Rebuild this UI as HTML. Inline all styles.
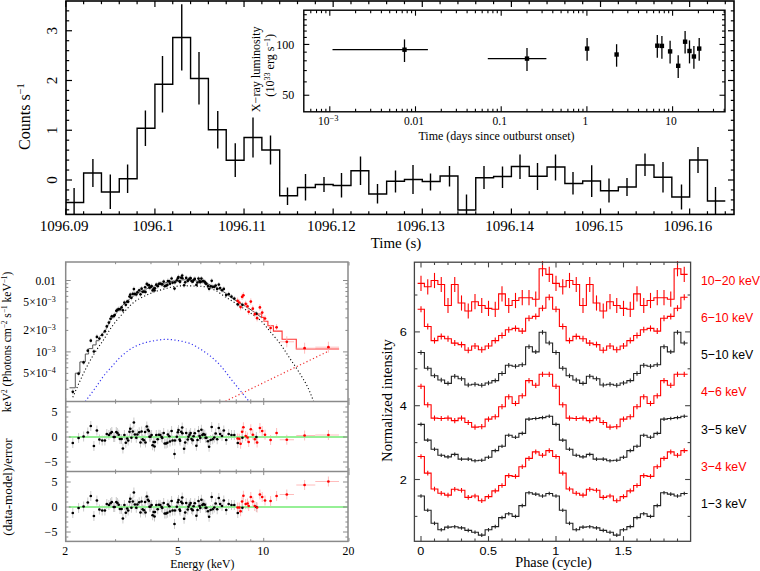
<!DOCTYPE html>
<html><head><meta charset="utf-8"><style>
html,body{margin:0;padding:0;background:#fff;width:760px;height:571px;overflow:hidden}
svg{display:block}
</style></head><body>
<svg width="760" height="571" viewBox="0 0 760 571">
<line x1="65.80" y1="214.40" x2="65.80" y2="208.40" stroke="#000" stroke-width="1.2"/>
<line x1="65.80" y1="1.00" x2="65.80" y2="7.00" stroke="#000" stroke-width="1.2"/>
<text x="64.00" y="231.00" font-size="15" text-anchor="middle" fill="#000" style='font-family:"Liberation Serif", serif' >1096.09</text>
<line x1="83.62" y1="214.40" x2="83.62" y2="211.20" stroke="#000" stroke-width="1.2"/>
<line x1="83.62" y1="1.00" x2="83.62" y2="4.20" stroke="#000" stroke-width="1.2"/>
<line x1="101.45" y1="214.40" x2="101.45" y2="211.20" stroke="#000" stroke-width="1.2"/>
<line x1="101.45" y1="1.00" x2="101.45" y2="4.20" stroke="#000" stroke-width="1.2"/>
<line x1="119.27" y1="214.40" x2="119.27" y2="211.20" stroke="#000" stroke-width="1.2"/>
<line x1="119.27" y1="1.00" x2="119.27" y2="4.20" stroke="#000" stroke-width="1.2"/>
<line x1="137.10" y1="214.40" x2="137.10" y2="211.20" stroke="#000" stroke-width="1.2"/>
<line x1="137.10" y1="1.00" x2="137.10" y2="4.20" stroke="#000" stroke-width="1.2"/>
<line x1="154.92" y1="214.40" x2="154.92" y2="208.40" stroke="#000" stroke-width="1.2"/>
<line x1="154.92" y1="1.00" x2="154.92" y2="7.00" stroke="#000" stroke-width="1.2"/>
<text x="153.12" y="231.00" font-size="15" text-anchor="middle" fill="#000" style='font-family:"Liberation Serif", serif' >1096.1</text>
<line x1="172.74" y1="214.40" x2="172.74" y2="211.20" stroke="#000" stroke-width="1.2"/>
<line x1="172.74" y1="1.00" x2="172.74" y2="4.20" stroke="#000" stroke-width="1.2"/>
<line x1="190.57" y1="214.40" x2="190.57" y2="211.20" stroke="#000" stroke-width="1.2"/>
<line x1="190.57" y1="1.00" x2="190.57" y2="4.20" stroke="#000" stroke-width="1.2"/>
<line x1="208.39" y1="214.40" x2="208.39" y2="211.20" stroke="#000" stroke-width="1.2"/>
<line x1="208.39" y1="1.00" x2="208.39" y2="4.20" stroke="#000" stroke-width="1.2"/>
<line x1="226.22" y1="214.40" x2="226.22" y2="211.20" stroke="#000" stroke-width="1.2"/>
<line x1="226.22" y1="1.00" x2="226.22" y2="4.20" stroke="#000" stroke-width="1.2"/>
<line x1="244.04" y1="214.40" x2="244.04" y2="208.40" stroke="#000" stroke-width="1.2"/>
<line x1="244.04" y1="1.00" x2="244.04" y2="7.00" stroke="#000" stroke-width="1.2"/>
<text x="242.24" y="231.00" font-size="15" text-anchor="middle" fill="#000" style='font-family:"Liberation Serif", serif' >1096.11</text>
<line x1="261.86" y1="214.40" x2="261.86" y2="211.20" stroke="#000" stroke-width="1.2"/>
<line x1="261.86" y1="1.00" x2="261.86" y2="4.20" stroke="#000" stroke-width="1.2"/>
<line x1="279.69" y1="214.40" x2="279.69" y2="211.20" stroke="#000" stroke-width="1.2"/>
<line x1="279.69" y1="1.00" x2="279.69" y2="4.20" stroke="#000" stroke-width="1.2"/>
<line x1="297.51" y1="214.40" x2="297.51" y2="211.20" stroke="#000" stroke-width="1.2"/>
<line x1="297.51" y1="1.00" x2="297.51" y2="4.20" stroke="#000" stroke-width="1.2"/>
<line x1="315.34" y1="214.40" x2="315.34" y2="211.20" stroke="#000" stroke-width="1.2"/>
<line x1="315.34" y1="1.00" x2="315.34" y2="4.20" stroke="#000" stroke-width="1.2"/>
<line x1="333.16" y1="214.40" x2="333.16" y2="208.40" stroke="#000" stroke-width="1.2"/>
<line x1="333.16" y1="1.00" x2="333.16" y2="7.00" stroke="#000" stroke-width="1.2"/>
<text x="331.36" y="231.00" font-size="15" text-anchor="middle" fill="#000" style='font-family:"Liberation Serif", serif' >1096.12</text>
<line x1="350.98" y1="214.40" x2="350.98" y2="211.20" stroke="#000" stroke-width="1.2"/>
<line x1="350.98" y1="1.00" x2="350.98" y2="4.20" stroke="#000" stroke-width="1.2"/>
<line x1="368.81" y1="214.40" x2="368.81" y2="211.20" stroke="#000" stroke-width="1.2"/>
<line x1="368.81" y1="1.00" x2="368.81" y2="4.20" stroke="#000" stroke-width="1.2"/>
<line x1="386.63" y1="214.40" x2="386.63" y2="211.20" stroke="#000" stroke-width="1.2"/>
<line x1="386.63" y1="1.00" x2="386.63" y2="4.20" stroke="#000" stroke-width="1.2"/>
<line x1="404.46" y1="214.40" x2="404.46" y2="211.20" stroke="#000" stroke-width="1.2"/>
<line x1="404.46" y1="1.00" x2="404.46" y2="4.20" stroke="#000" stroke-width="1.2"/>
<line x1="422.28" y1="214.40" x2="422.28" y2="208.40" stroke="#000" stroke-width="1.2"/>
<line x1="422.28" y1="1.00" x2="422.28" y2="7.00" stroke="#000" stroke-width="1.2"/>
<text x="420.48" y="231.00" font-size="15" text-anchor="middle" fill="#000" style='font-family:"Liberation Serif", serif' >1096.13</text>
<line x1="440.10" y1="214.40" x2="440.10" y2="211.20" stroke="#000" stroke-width="1.2"/>
<line x1="440.10" y1="1.00" x2="440.10" y2="4.20" stroke="#000" stroke-width="1.2"/>
<line x1="457.93" y1="214.40" x2="457.93" y2="211.20" stroke="#000" stroke-width="1.2"/>
<line x1="457.93" y1="1.00" x2="457.93" y2="4.20" stroke="#000" stroke-width="1.2"/>
<line x1="475.75" y1="214.40" x2="475.75" y2="211.20" stroke="#000" stroke-width="1.2"/>
<line x1="475.75" y1="1.00" x2="475.75" y2="4.20" stroke="#000" stroke-width="1.2"/>
<line x1="493.58" y1="214.40" x2="493.58" y2="211.20" stroke="#000" stroke-width="1.2"/>
<line x1="493.58" y1="1.00" x2="493.58" y2="4.20" stroke="#000" stroke-width="1.2"/>
<line x1="511.40" y1="214.40" x2="511.40" y2="208.40" stroke="#000" stroke-width="1.2"/>
<line x1="511.40" y1="1.00" x2="511.40" y2="7.00" stroke="#000" stroke-width="1.2"/>
<text x="509.60" y="231.00" font-size="15" text-anchor="middle" fill="#000" style='font-family:"Liberation Serif", serif' >1096.14</text>
<line x1="529.22" y1="214.40" x2="529.22" y2="211.20" stroke="#000" stroke-width="1.2"/>
<line x1="529.22" y1="1.00" x2="529.22" y2="4.20" stroke="#000" stroke-width="1.2"/>
<line x1="547.05" y1="214.40" x2="547.05" y2="211.20" stroke="#000" stroke-width="1.2"/>
<line x1="547.05" y1="1.00" x2="547.05" y2="4.20" stroke="#000" stroke-width="1.2"/>
<line x1="564.87" y1="214.40" x2="564.87" y2="211.20" stroke="#000" stroke-width="1.2"/>
<line x1="564.87" y1="1.00" x2="564.87" y2="4.20" stroke="#000" stroke-width="1.2"/>
<line x1="582.70" y1="214.40" x2="582.70" y2="211.20" stroke="#000" stroke-width="1.2"/>
<line x1="582.70" y1="1.00" x2="582.70" y2="4.20" stroke="#000" stroke-width="1.2"/>
<line x1="600.52" y1="214.40" x2="600.52" y2="208.40" stroke="#000" stroke-width="1.2"/>
<line x1="600.52" y1="1.00" x2="600.52" y2="7.00" stroke="#000" stroke-width="1.2"/>
<text x="598.72" y="231.00" font-size="15" text-anchor="middle" fill="#000" style='font-family:"Liberation Serif", serif' >1096.15</text>
<line x1="618.34" y1="214.40" x2="618.34" y2="211.20" stroke="#000" stroke-width="1.2"/>
<line x1="618.34" y1="1.00" x2="618.34" y2="4.20" stroke="#000" stroke-width="1.2"/>
<line x1="636.17" y1="214.40" x2="636.17" y2="211.20" stroke="#000" stroke-width="1.2"/>
<line x1="636.17" y1="1.00" x2="636.17" y2="4.20" stroke="#000" stroke-width="1.2"/>
<line x1="653.99" y1="214.40" x2="653.99" y2="211.20" stroke="#000" stroke-width="1.2"/>
<line x1="653.99" y1="1.00" x2="653.99" y2="4.20" stroke="#000" stroke-width="1.2"/>
<line x1="671.82" y1="214.40" x2="671.82" y2="211.20" stroke="#000" stroke-width="1.2"/>
<line x1="671.82" y1="1.00" x2="671.82" y2="4.20" stroke="#000" stroke-width="1.2"/>
<line x1="689.64" y1="214.40" x2="689.64" y2="208.40" stroke="#000" stroke-width="1.2"/>
<line x1="689.64" y1="1.00" x2="689.64" y2="7.00" stroke="#000" stroke-width="1.2"/>
<text x="687.84" y="231.00" font-size="15" text-anchor="middle" fill="#000" style='font-family:"Liberation Serif", serif' >1096.16</text>
<line x1="707.46" y1="214.40" x2="707.46" y2="211.20" stroke="#000" stroke-width="1.2"/>
<line x1="707.46" y1="1.00" x2="707.46" y2="4.20" stroke="#000" stroke-width="1.2"/>
<line x1="725.29" y1="214.40" x2="725.29" y2="211.20" stroke="#000" stroke-width="1.2"/>
<line x1="725.29" y1="1.00" x2="725.29" y2="4.20" stroke="#000" stroke-width="1.2"/>
<line x1="66.00" y1="209.85" x2="69.20" y2="209.85" stroke="#000" stroke-width="1.2"/>
<line x1="734.00" y1="209.85" x2="730.80" y2="209.85" stroke="#000" stroke-width="1.2"/>
<line x1="66.00" y1="199.90" x2="69.20" y2="199.90" stroke="#000" stroke-width="1.2"/>
<line x1="734.00" y1="199.90" x2="730.80" y2="199.90" stroke="#000" stroke-width="1.2"/>
<line x1="66.00" y1="189.95" x2="69.20" y2="189.95" stroke="#000" stroke-width="1.2"/>
<line x1="734.00" y1="189.95" x2="730.80" y2="189.95" stroke="#000" stroke-width="1.2"/>
<line x1="66.00" y1="180.00" x2="72.00" y2="180.00" stroke="#000" stroke-width="1.2"/>
<line x1="734.00" y1="180.00" x2="728.00" y2="180.00" stroke="#000" stroke-width="1.2"/>
<text x="0.00" y="0.00" font-size="15" text-anchor="middle" fill="#000" style='font-family:"Liberation Serif", serif' transform="translate(56.50 180.00) rotate(-90)" >0</text>
<line x1="66.00" y1="170.05" x2="69.20" y2="170.05" stroke="#000" stroke-width="1.2"/>
<line x1="734.00" y1="170.05" x2="730.80" y2="170.05" stroke="#000" stroke-width="1.2"/>
<line x1="66.00" y1="160.10" x2="69.20" y2="160.10" stroke="#000" stroke-width="1.2"/>
<line x1="734.00" y1="160.10" x2="730.80" y2="160.10" stroke="#000" stroke-width="1.2"/>
<line x1="66.00" y1="150.15" x2="69.20" y2="150.15" stroke="#000" stroke-width="1.2"/>
<line x1="734.00" y1="150.15" x2="730.80" y2="150.15" stroke="#000" stroke-width="1.2"/>
<line x1="66.00" y1="140.20" x2="69.20" y2="140.20" stroke="#000" stroke-width="1.2"/>
<line x1="734.00" y1="140.20" x2="730.80" y2="140.20" stroke="#000" stroke-width="1.2"/>
<line x1="66.00" y1="130.25" x2="72.00" y2="130.25" stroke="#000" stroke-width="1.2"/>
<line x1="734.00" y1="130.25" x2="728.00" y2="130.25" stroke="#000" stroke-width="1.2"/>
<text x="0.00" y="0.00" font-size="15" text-anchor="middle" fill="#000" style='font-family:"Liberation Serif", serif' transform="translate(56.50 130.25) rotate(-90)" >1</text>
<line x1="66.00" y1="120.30" x2="69.20" y2="120.30" stroke="#000" stroke-width="1.2"/>
<line x1="734.00" y1="120.30" x2="730.80" y2="120.30" stroke="#000" stroke-width="1.2"/>
<line x1="66.00" y1="110.35" x2="69.20" y2="110.35" stroke="#000" stroke-width="1.2"/>
<line x1="734.00" y1="110.35" x2="730.80" y2="110.35" stroke="#000" stroke-width="1.2"/>
<line x1="66.00" y1="100.40" x2="69.20" y2="100.40" stroke="#000" stroke-width="1.2"/>
<line x1="734.00" y1="100.40" x2="730.80" y2="100.40" stroke="#000" stroke-width="1.2"/>
<line x1="66.00" y1="90.45" x2="69.20" y2="90.45" stroke="#000" stroke-width="1.2"/>
<line x1="734.00" y1="90.45" x2="730.80" y2="90.45" stroke="#000" stroke-width="1.2"/>
<line x1="66.00" y1="80.50" x2="72.00" y2="80.50" stroke="#000" stroke-width="1.2"/>
<line x1="734.00" y1="80.50" x2="728.00" y2="80.50" stroke="#000" stroke-width="1.2"/>
<text x="0.00" y="0.00" font-size="15" text-anchor="middle" fill="#000" style='font-family:"Liberation Serif", serif' transform="translate(56.50 80.50) rotate(-90)" >2</text>
<line x1="66.00" y1="70.55" x2="69.20" y2="70.55" stroke="#000" stroke-width="1.2"/>
<line x1="734.00" y1="70.55" x2="730.80" y2="70.55" stroke="#000" stroke-width="1.2"/>
<line x1="66.00" y1="60.60" x2="69.20" y2="60.60" stroke="#000" stroke-width="1.2"/>
<line x1="734.00" y1="60.60" x2="730.80" y2="60.60" stroke="#000" stroke-width="1.2"/>
<line x1="66.00" y1="50.65" x2="69.20" y2="50.65" stroke="#000" stroke-width="1.2"/>
<line x1="734.00" y1="50.65" x2="730.80" y2="50.65" stroke="#000" stroke-width="1.2"/>
<line x1="66.00" y1="40.70" x2="69.20" y2="40.70" stroke="#000" stroke-width="1.2"/>
<line x1="734.00" y1="40.70" x2="730.80" y2="40.70" stroke="#000" stroke-width="1.2"/>
<line x1="66.00" y1="30.75" x2="72.00" y2="30.75" stroke="#000" stroke-width="1.2"/>
<line x1="734.00" y1="30.75" x2="728.00" y2="30.75" stroke="#000" stroke-width="1.2"/>
<text x="0.00" y="0.00" font-size="15" text-anchor="middle" fill="#000" style='font-family:"Liberation Serif", serif' transform="translate(56.50 30.75) rotate(-90)" >3</text>
<line x1="66.00" y1="20.80" x2="69.20" y2="20.80" stroke="#000" stroke-width="1.2"/>
<line x1="734.00" y1="20.80" x2="730.80" y2="20.80" stroke="#000" stroke-width="1.2"/>
<line x1="66.00" y1="10.85" x2="69.20" y2="10.85" stroke="#000" stroke-width="1.2"/>
<line x1="734.00" y1="10.85" x2="730.80" y2="10.85" stroke="#000" stroke-width="1.2"/>
<rect x="66.0" y="1.0" width="668.0" height="213.4" fill="none" stroke="#000" stroke-width="1.6"/>
<text x="396.00" y="247.50" font-size="15" text-anchor="middle" fill="#000" style='font-family:"Liberation Serif", serif' >Time (s)</text>
<text x="0.00" y="0.00" font-size="16" text-anchor="middle" fill="#000" style='font-family:"Liberation Serif", serif' transform="translate(30.00 116.50) rotate(-90)" >Counts s<tspan baseline-shift="6" font-size="10.5">−1</tspan></text>
<path d="M65.80,202.50L83.62,202.50L83.62,173.00L101.45,173.00L101.45,192.00L119.27,192.00L119.27,178.75L137.10,178.75L137.10,128.25L154.92,128.25L154.92,84.25L172.74,84.25L172.74,37.50L190.57,37.50L190.57,78.50L208.39,78.50L208.39,129.75L226.22,129.75L226.22,160.25L244.04,160.25L244.04,137.50L261.86,137.50L261.86,150.00L279.69,150.00L279.69,195.75L297.51,195.75L297.51,187.50L315.34,187.50L315.34,184.50L333.16,184.50L333.16,185.50L350.98,185.50L350.98,170.75L368.81,170.75L368.81,194.00L386.63,194.00L386.63,181.25L404.46,181.25L404.46,179.50L422.28,179.50L422.28,181.50L440.10,181.50L440.10,176.00L457.93,176.00L457.93,210.00L475.75,210.00L475.75,177.75L493.58,177.75L493.58,176.50L511.40,176.50L511.40,166.50L529.22,166.50L529.22,176.25L547.05,176.25L547.05,167.00L564.87,167.00L564.87,183.50L582.70,183.50L582.70,181.00L600.52,181.00L600.52,190.75L618.34,190.75L618.34,187.00L636.17,187.00L636.17,165.00L653.99,165.00L653.99,177.25L671.82,177.25L671.82,197.00L689.64,197.00L689.64,160.00L707.46,160.00L707.46,201.00L725.29,201.00" fill="none" stroke="#000" stroke-width="1.4" />
<line x1="74.10" y1="188.00" x2="74.10" y2="214.40" stroke="#000" stroke-width="1.4"/>
<line x1="92.90" y1="159.00" x2="92.90" y2="187.00" stroke="#000" stroke-width="1.4"/>
<line x1="110.30" y1="174.50" x2="110.30" y2="209.00" stroke="#000" stroke-width="1.4"/>
<line x1="127.60" y1="164.50" x2="127.60" y2="193.00" stroke="#000" stroke-width="1.4"/>
<line x1="145.40" y1="110.50" x2="145.40" y2="146.00" stroke="#000" stroke-width="1.4"/>
<line x1="162.50" y1="56.00" x2="162.50" y2="112.50" stroke="#000" stroke-width="1.4"/>
<line x1="181.75" y1="4.25" x2="181.75" y2="70.50" stroke="#000" stroke-width="1.4"/>
<line x1="199.00" y1="52.00" x2="199.00" y2="104.50" stroke="#000" stroke-width="1.4"/>
<line x1="217.75" y1="111.00" x2="217.75" y2="148.50" stroke="#000" stroke-width="1.4"/>
<line x1="235.25" y1="143.25" x2="235.25" y2="177.00" stroke="#000" stroke-width="1.4"/>
<line x1="253.00" y1="117.50" x2="253.00" y2="157.50" stroke="#000" stroke-width="1.4"/>
<line x1="270.50" y1="135.50" x2="270.50" y2="164.50" stroke="#000" stroke-width="1.4"/>
<line x1="287.50" y1="187.50" x2="287.50" y2="205.00" stroke="#000" stroke-width="1.4"/>
<line x1="305.50" y1="174.00" x2="305.50" y2="200.50" stroke="#000" stroke-width="1.4"/>
<line x1="324.00" y1="177.00" x2="324.00" y2="192.00" stroke="#000" stroke-width="1.4"/>
<line x1="341.50" y1="173.00" x2="341.50" y2="197.50" stroke="#000" stroke-width="1.4"/>
<line x1="360.50" y1="156.50" x2="360.50" y2="185.00" stroke="#000" stroke-width="1.4"/>
<line x1="377.50" y1="184.00" x2="377.50" y2="203.50" stroke="#000" stroke-width="1.4"/>
<line x1="395.50" y1="170.50" x2="395.50" y2="192.50" stroke="#000" stroke-width="1.4"/>
<line x1="413.00" y1="165.00" x2="413.00" y2="194.00" stroke="#000" stroke-width="1.4"/>
<line x1="430.50" y1="173.50" x2="430.50" y2="190.50" stroke="#000" stroke-width="1.4"/>
<line x1="449.50" y1="166.00" x2="449.50" y2="186.50" stroke="#000" stroke-width="1.4"/>
<line x1="466.50" y1="194.50" x2="466.50" y2="214.40" stroke="#000" stroke-width="1.4"/>
<line x1="484.00" y1="166.00" x2="484.00" y2="189.00" stroke="#000" stroke-width="1.4"/>
<line x1="502.50" y1="166.50" x2="502.50" y2="188.00" stroke="#000" stroke-width="1.4"/>
<line x1="520.00" y1="154.50" x2="520.00" y2="179.00" stroke="#000" stroke-width="1.4"/>
<line x1="537.50" y1="163.00" x2="537.50" y2="190.00" stroke="#000" stroke-width="1.4"/>
<line x1="555.50" y1="154.50" x2="555.50" y2="180.50" stroke="#000" stroke-width="1.4"/>
<line x1="573.00" y1="172.00" x2="573.00" y2="194.50" stroke="#000" stroke-width="1.4"/>
<line x1="591.70" y1="165.30" x2="591.70" y2="197.00" stroke="#000" stroke-width="1.4"/>
<line x1="609.00" y1="178.50" x2="609.00" y2="202.50" stroke="#000" stroke-width="1.4"/>
<line x1="627.00" y1="178.00" x2="627.00" y2="196.00" stroke="#000" stroke-width="1.4"/>
<line x1="645.00" y1="153.50" x2="645.00" y2="176.00" stroke="#000" stroke-width="1.4"/>
<line x1="663.00" y1="162.00" x2="663.00" y2="192.50" stroke="#000" stroke-width="1.4"/>
<line x1="681.50" y1="184.50" x2="681.50" y2="209.50" stroke="#000" stroke-width="1.4"/>
<line x1="698.00" y1="147.00" x2="698.00" y2="173.00" stroke="#000" stroke-width="1.4"/>
<line x1="715.50" y1="187.00" x2="715.50" y2="214.40" stroke="#000" stroke-width="1.4"/>
<rect x="303.8" y="10.2" width="421.2" height="101.6" fill="#fff" stroke="#000" stroke-width="1.4"/>
<line x1="310.79" y1="111.80" x2="310.79" y2="108.80" stroke="#000" stroke-width="1.1"/>
<line x1="310.79" y1="10.20" x2="310.79" y2="13.20" stroke="#000" stroke-width="1.1"/>
<line x1="316.52" y1="111.80" x2="316.52" y2="108.80" stroke="#000" stroke-width="1.1"/>
<line x1="316.52" y1="10.20" x2="316.52" y2="13.20" stroke="#000" stroke-width="1.1"/>
<line x1="321.49" y1="111.80" x2="321.49" y2="108.80" stroke="#000" stroke-width="1.1"/>
<line x1="321.49" y1="10.20" x2="321.49" y2="13.20" stroke="#000" stroke-width="1.1"/>
<line x1="325.88" y1="111.80" x2="325.88" y2="108.80" stroke="#000" stroke-width="1.1"/>
<line x1="325.88" y1="10.20" x2="325.88" y2="13.20" stroke="#000" stroke-width="1.1"/>
<line x1="329.80" y1="111.80" x2="329.80" y2="106.30" stroke="#000" stroke-width="1.1"/>
<line x1="329.80" y1="10.20" x2="329.80" y2="15.70" stroke="#000" stroke-width="1.1"/>
<line x1="355.60" y1="111.80" x2="355.60" y2="108.80" stroke="#000" stroke-width="1.1"/>
<line x1="355.60" y1="10.20" x2="355.60" y2="13.20" stroke="#000" stroke-width="1.1"/>
<line x1="370.69" y1="111.80" x2="370.69" y2="108.80" stroke="#000" stroke-width="1.1"/>
<line x1="370.69" y1="10.20" x2="370.69" y2="13.20" stroke="#000" stroke-width="1.1"/>
<line x1="381.40" y1="111.80" x2="381.40" y2="108.80" stroke="#000" stroke-width="1.1"/>
<line x1="381.40" y1="10.20" x2="381.40" y2="13.20" stroke="#000" stroke-width="1.1"/>
<line x1="389.70" y1="111.80" x2="389.70" y2="108.80" stroke="#000" stroke-width="1.1"/>
<line x1="389.70" y1="10.20" x2="389.70" y2="13.20" stroke="#000" stroke-width="1.1"/>
<line x1="396.49" y1="111.80" x2="396.49" y2="108.80" stroke="#000" stroke-width="1.1"/>
<line x1="396.49" y1="10.20" x2="396.49" y2="13.20" stroke="#000" stroke-width="1.1"/>
<line x1="402.22" y1="111.80" x2="402.22" y2="108.80" stroke="#000" stroke-width="1.1"/>
<line x1="402.22" y1="10.20" x2="402.22" y2="13.20" stroke="#000" stroke-width="1.1"/>
<line x1="407.19" y1="111.80" x2="407.19" y2="108.80" stroke="#000" stroke-width="1.1"/>
<line x1="407.19" y1="10.20" x2="407.19" y2="13.20" stroke="#000" stroke-width="1.1"/>
<line x1="411.58" y1="111.80" x2="411.58" y2="108.80" stroke="#000" stroke-width="1.1"/>
<line x1="411.58" y1="10.20" x2="411.58" y2="13.20" stroke="#000" stroke-width="1.1"/>
<line x1="415.50" y1="111.80" x2="415.50" y2="106.30" stroke="#000" stroke-width="1.1"/>
<line x1="415.50" y1="10.20" x2="415.50" y2="15.70" stroke="#000" stroke-width="1.1"/>
<line x1="441.30" y1="111.80" x2="441.30" y2="108.80" stroke="#000" stroke-width="1.1"/>
<line x1="441.30" y1="10.20" x2="441.30" y2="13.20" stroke="#000" stroke-width="1.1"/>
<line x1="456.39" y1="111.80" x2="456.39" y2="108.80" stroke="#000" stroke-width="1.1"/>
<line x1="456.39" y1="10.20" x2="456.39" y2="13.20" stroke="#000" stroke-width="1.1"/>
<line x1="467.10" y1="111.80" x2="467.10" y2="108.80" stroke="#000" stroke-width="1.1"/>
<line x1="467.10" y1="10.20" x2="467.10" y2="13.20" stroke="#000" stroke-width="1.1"/>
<line x1="475.40" y1="111.80" x2="475.40" y2="108.80" stroke="#000" stroke-width="1.1"/>
<line x1="475.40" y1="10.20" x2="475.40" y2="13.20" stroke="#000" stroke-width="1.1"/>
<line x1="482.19" y1="111.80" x2="482.19" y2="108.80" stroke="#000" stroke-width="1.1"/>
<line x1="482.19" y1="10.20" x2="482.19" y2="13.20" stroke="#000" stroke-width="1.1"/>
<line x1="487.92" y1="111.80" x2="487.92" y2="108.80" stroke="#000" stroke-width="1.1"/>
<line x1="487.92" y1="10.20" x2="487.92" y2="13.20" stroke="#000" stroke-width="1.1"/>
<line x1="492.89" y1="111.80" x2="492.89" y2="108.80" stroke="#000" stroke-width="1.1"/>
<line x1="492.89" y1="10.20" x2="492.89" y2="13.20" stroke="#000" stroke-width="1.1"/>
<line x1="497.28" y1="111.80" x2="497.28" y2="108.80" stroke="#000" stroke-width="1.1"/>
<line x1="497.28" y1="10.20" x2="497.28" y2="13.20" stroke="#000" stroke-width="1.1"/>
<line x1="501.20" y1="111.80" x2="501.20" y2="106.30" stroke="#000" stroke-width="1.1"/>
<line x1="501.20" y1="10.20" x2="501.20" y2="15.70" stroke="#000" stroke-width="1.1"/>
<line x1="527.00" y1="111.80" x2="527.00" y2="108.80" stroke="#000" stroke-width="1.1"/>
<line x1="527.00" y1="10.20" x2="527.00" y2="13.20" stroke="#000" stroke-width="1.1"/>
<line x1="542.09" y1="111.80" x2="542.09" y2="108.80" stroke="#000" stroke-width="1.1"/>
<line x1="542.09" y1="10.20" x2="542.09" y2="13.20" stroke="#000" stroke-width="1.1"/>
<line x1="552.80" y1="111.80" x2="552.80" y2="108.80" stroke="#000" stroke-width="1.1"/>
<line x1="552.80" y1="10.20" x2="552.80" y2="13.20" stroke="#000" stroke-width="1.1"/>
<line x1="561.10" y1="111.80" x2="561.10" y2="108.80" stroke="#000" stroke-width="1.1"/>
<line x1="561.10" y1="10.20" x2="561.10" y2="13.20" stroke="#000" stroke-width="1.1"/>
<line x1="567.89" y1="111.80" x2="567.89" y2="108.80" stroke="#000" stroke-width="1.1"/>
<line x1="567.89" y1="10.20" x2="567.89" y2="13.20" stroke="#000" stroke-width="1.1"/>
<line x1="573.62" y1="111.80" x2="573.62" y2="108.80" stroke="#000" stroke-width="1.1"/>
<line x1="573.62" y1="10.20" x2="573.62" y2="13.20" stroke="#000" stroke-width="1.1"/>
<line x1="578.59" y1="111.80" x2="578.59" y2="108.80" stroke="#000" stroke-width="1.1"/>
<line x1="578.59" y1="10.20" x2="578.59" y2="13.20" stroke="#000" stroke-width="1.1"/>
<line x1="582.98" y1="111.80" x2="582.98" y2="108.80" stroke="#000" stroke-width="1.1"/>
<line x1="582.98" y1="10.20" x2="582.98" y2="13.20" stroke="#000" stroke-width="1.1"/>
<line x1="586.90" y1="111.80" x2="586.90" y2="106.30" stroke="#000" stroke-width="1.1"/>
<line x1="586.90" y1="10.20" x2="586.90" y2="15.70" stroke="#000" stroke-width="1.1"/>
<line x1="612.70" y1="111.80" x2="612.70" y2="108.80" stroke="#000" stroke-width="1.1"/>
<line x1="612.70" y1="10.20" x2="612.70" y2="13.20" stroke="#000" stroke-width="1.1"/>
<line x1="627.79" y1="111.80" x2="627.79" y2="108.80" stroke="#000" stroke-width="1.1"/>
<line x1="627.79" y1="10.20" x2="627.79" y2="13.20" stroke="#000" stroke-width="1.1"/>
<line x1="638.50" y1="111.80" x2="638.50" y2="108.80" stroke="#000" stroke-width="1.1"/>
<line x1="638.50" y1="10.20" x2="638.50" y2="13.20" stroke="#000" stroke-width="1.1"/>
<line x1="646.80" y1="111.80" x2="646.80" y2="108.80" stroke="#000" stroke-width="1.1"/>
<line x1="646.80" y1="10.20" x2="646.80" y2="13.20" stroke="#000" stroke-width="1.1"/>
<line x1="653.59" y1="111.80" x2="653.59" y2="108.80" stroke="#000" stroke-width="1.1"/>
<line x1="653.59" y1="10.20" x2="653.59" y2="13.20" stroke="#000" stroke-width="1.1"/>
<line x1="659.32" y1="111.80" x2="659.32" y2="108.80" stroke="#000" stroke-width="1.1"/>
<line x1="659.32" y1="10.20" x2="659.32" y2="13.20" stroke="#000" stroke-width="1.1"/>
<line x1="664.29" y1="111.80" x2="664.29" y2="108.80" stroke="#000" stroke-width="1.1"/>
<line x1="664.29" y1="10.20" x2="664.29" y2="13.20" stroke="#000" stroke-width="1.1"/>
<line x1="668.68" y1="111.80" x2="668.68" y2="108.80" stroke="#000" stroke-width="1.1"/>
<line x1="668.68" y1="10.20" x2="668.68" y2="13.20" stroke="#000" stroke-width="1.1"/>
<line x1="672.60" y1="111.80" x2="672.60" y2="106.30" stroke="#000" stroke-width="1.1"/>
<line x1="672.60" y1="10.20" x2="672.60" y2="15.70" stroke="#000" stroke-width="1.1"/>
<line x1="698.40" y1="111.80" x2="698.40" y2="108.80" stroke="#000" stroke-width="1.1"/>
<line x1="698.40" y1="10.20" x2="698.40" y2="13.20" stroke="#000" stroke-width="1.1"/>
<line x1="713.49" y1="111.80" x2="713.49" y2="108.80" stroke="#000" stroke-width="1.1"/>
<line x1="713.49" y1="10.20" x2="713.49" y2="13.20" stroke="#000" stroke-width="1.1"/>
<line x1="724.20" y1="111.80" x2="724.20" y2="108.80" stroke="#000" stroke-width="1.1"/>
<line x1="724.20" y1="10.20" x2="724.20" y2="13.20" stroke="#000" stroke-width="1.1"/>
<text x="328.30" y="125.40" font-size="11.5" text-anchor="middle" fill="#000" style='font-family:"Liberation Serif", serif' >10<tspan baseline-shift="4.5" font-size="8.5">−3</tspan></text>
<text x="414.00" y="125.40" font-size="11.5" text-anchor="middle" fill="#000" style='font-family:"Liberation Serif", serif' >0.01</text>
<text x="499.70" y="125.40" font-size="11.5" text-anchor="middle" fill="#000" style='font-family:"Liberation Serif", serif' >0.1</text>
<text x="585.40" y="125.40" font-size="11.5" text-anchor="middle" fill="#000" style='font-family:"Liberation Serif", serif' >1</text>
<text x="671.10" y="125.40" font-size="11.5" text-anchor="middle" fill="#000" style='font-family:"Liberation Serif", serif' >10</text>
<line x1="303.80" y1="95.24" x2="309.30" y2="95.24" stroke="#000" stroke-width="1.1"/>
<line x1="725.00" y1="95.24" x2="719.50" y2="95.24" stroke="#000" stroke-width="1.1"/>
<text x="294.20" y="99.44" font-size="12" text-anchor="end" fill="#000" style='font-family:"Liberation Serif", serif' >50</text>
<line x1="303.80" y1="81.88" x2="306.80" y2="81.88" stroke="#000" stroke-width="1.1"/>
<line x1="725.00" y1="81.88" x2="722.00" y2="81.88" stroke="#000" stroke-width="1.1"/>
<line x1="303.80" y1="70.58" x2="306.80" y2="70.58" stroke="#000" stroke-width="1.1"/>
<line x1="725.00" y1="70.58" x2="722.00" y2="70.58" stroke="#000" stroke-width="1.1"/>
<line x1="303.80" y1="60.79" x2="306.80" y2="60.79" stroke="#000" stroke-width="1.1"/>
<line x1="725.00" y1="60.79" x2="722.00" y2="60.79" stroke="#000" stroke-width="1.1"/>
<line x1="303.80" y1="52.15" x2="306.80" y2="52.15" stroke="#000" stroke-width="1.1"/>
<line x1="725.00" y1="52.15" x2="722.00" y2="52.15" stroke="#000" stroke-width="1.1"/>
<line x1="303.80" y1="44.43" x2="309.30" y2="44.43" stroke="#000" stroke-width="1.1"/>
<line x1="725.00" y1="44.43" x2="719.50" y2="44.43" stroke="#000" stroke-width="1.1"/>
<text x="294.20" y="48.63" font-size="12" text-anchor="end" fill="#000" style='font-family:"Liberation Serif", serif' >100</text>
<line x1="303.80" y1="37.44" x2="306.80" y2="37.44" stroke="#000" stroke-width="1.1"/>
<line x1="725.00" y1="37.44" x2="722.00" y2="37.44" stroke="#000" stroke-width="1.1"/>
<line x1="303.80" y1="31.06" x2="306.80" y2="31.06" stroke="#000" stroke-width="1.1"/>
<line x1="725.00" y1="31.06" x2="722.00" y2="31.06" stroke="#000" stroke-width="1.1"/>
<line x1="303.80" y1="25.19" x2="306.80" y2="25.19" stroke="#000" stroke-width="1.1"/>
<line x1="725.00" y1="25.19" x2="722.00" y2="25.19" stroke="#000" stroke-width="1.1"/>
<line x1="303.80" y1="19.76" x2="306.80" y2="19.76" stroke="#000" stroke-width="1.1"/>
<line x1="725.00" y1="19.76" x2="722.00" y2="19.76" stroke="#000" stroke-width="1.1"/>
<line x1="303.80" y1="14.70" x2="306.80" y2="14.70" stroke="#000" stroke-width="1.1"/>
<line x1="725.00" y1="14.70" x2="722.00" y2="14.70" stroke="#000" stroke-width="1.1"/>
<text x="496.50" y="139.60" font-size="12" text-anchor="middle" fill="#000" style='font-family:"Liberation Serif", serif' >Time (days since outburst onset)</text>
<text x="0.00" y="0.00" font-size="12.1" text-anchor="middle" fill="#000" style='font-family:"Liberation Serif", serif' transform="translate(260.20 69.30) rotate(-90)" >X−ray luminosity</text>
<text x="0.00" y="0.00" font-size="12.1" text-anchor="middle" fill="#000" style='font-family:"Liberation Serif", serif' transform="translate(274.00 65.30) rotate(-90)" >(10<tspan baseline-shift="4.5" font-size="8">33</tspan> erg s<tspan baseline-shift="4.5" font-size="8">−1</tspan>)</text>
<line x1="332.50" y1="49.70" x2="427.90" y2="49.70" stroke="#000" stroke-width="1.3"/>
<line x1="404.50" y1="39.40" x2="404.50" y2="62.00" stroke="#000" stroke-width="1.3"/>
<rect x="402.30" y="47.50" width="4.4" height="4.4" fill="#000"/>
<line x1="487.80" y1="58.60" x2="546.40" y2="58.60" stroke="#000" stroke-width="1.3"/>
<line x1="527.00" y1="48.10" x2="527.00" y2="71.00" stroke="#000" stroke-width="1.3"/>
<rect x="524.80" y="56.40" width="4.4" height="4.4" fill="#000"/>
<line x1="587.10" y1="38.00" x2="587.10" y2="60.70" stroke="#000" stroke-width="1.3"/>
<rect x="584.90" y="46.40" width="4.4" height="4.4" fill="#000"/>
<line x1="616.60" y1="44.20" x2="616.60" y2="66.70" stroke="#000" stroke-width="1.3"/>
<rect x="614.40" y="52.30" width="4.4" height="4.4" fill="#000"/>
<line x1="657.30" y1="34.90" x2="657.30" y2="57.80" stroke="#000" stroke-width="1.3"/>
<rect x="655.10" y="43.50" width="4.4" height="4.4" fill="#000"/>
<line x1="661.90" y1="36.00" x2="661.90" y2="58.70" stroke="#000" stroke-width="1.3"/>
<rect x="659.70" y="43.70" width="4.4" height="4.4" fill="#000"/>
<line x1="670.10" y1="40.80" x2="670.10" y2="63.60" stroke="#000" stroke-width="1.3"/>
<rect x="667.90" y="49.20" width="4.4" height="4.4" fill="#000"/>
<line x1="678.20" y1="55.20" x2="678.20" y2="77.90" stroke="#000" stroke-width="1.3"/>
<rect x="676.00" y="63.60" width="4.4" height="4.4" fill="#000"/>
<line x1="685.10" y1="31.10" x2="685.10" y2="53.60" stroke="#000" stroke-width="1.3"/>
<rect x="682.90" y="39.50" width="4.4" height="4.4" fill="#000"/>
<line x1="689.50" y1="40.40" x2="689.50" y2="63.40" stroke="#000" stroke-width="1.3"/>
<rect x="687.30" y="48.80" width="4.4" height="4.4" fill="#000"/>
<line x1="693.90" y1="45.90" x2="693.90" y2="68.70" stroke="#000" stroke-width="1.3"/>
<rect x="691.70" y="54.30" width="4.4" height="4.4" fill="#000"/>
<line x1="699.20" y1="38.00" x2="699.20" y2="60.70" stroke="#000" stroke-width="1.3"/>
<rect x="697.00" y="46.40" width="4.4" height="4.4" fill="#000"/>
<clipPath id="cspec"><rect x="65.7" y="262.0" width="282.3" height="139.5"/></clipPath>
<g clip-path="url(#cspec)">
<path d="M72.80,397.30L74.01,394.45L75.22,391.64L76.43,388.86L77.64,386.13L78.85,383.45L80.06,380.79L81.27,378.15L82.48,375.53L83.69,372.97L84.90,370.46L86.11,368.04L87.31,365.71L88.52,363.45L89.73,361.25L90.94,359.10L92.15,357.02L93.36,354.98L94.57,353.01L95.78,351.09L96.99,349.26L98.20,347.51L99.41,345.79L100.62,344.09L101.83,342.36L103.04,340.59L104.25,338.74L105.46,336.81L106.67,334.83L107.88,332.83L109.09,330.86L110.30,328.96L111.51,327.16L112.72,325.48L113.92,323.87L115.13,322.32L116.34,320.83L117.55,319.39L118.76,318.00L119.97,316.62L121.18,315.24L122.39,313.86L123.60,312.49L124.81,311.14L126.02,309.82L127.23,308.52L128.44,307.27L129.65,306.05L130.86,304.89L132.07,303.79L133.28,302.74L134.49,301.77L135.70,300.88L136.91,300.08L138.12,299.38L139.33,298.74L140.53,298.13L141.74,297.52L142.95,296.91L144.16,296.30L145.37,295.71L146.58,295.12L147.79,294.55L149.00,294.00L150.21,293.46L151.42,292.96L152.63,292.47L153.84,292.02L155.05,291.60L156.26,291.22L157.47,290.87L158.68,290.52L159.89,290.18L161.10,289.84L162.31,289.49L163.52,289.15L164.73,288.82L165.94,288.50L167.14,288.18L168.35,287.88L169.56,287.59L170.77,287.31L171.98,287.05L173.19,286.81L174.40,286.59L175.61,286.40L176.82,286.23L178.03,286.08L179.24,285.96L180.45,285.88L181.66,285.82L182.87,285.80L184.08,285.80L185.29,285.81L186.50,285.82L187.71,285.83L188.92,285.85L190.13,285.87L191.34,285.90L192.55,285.93L193.75,285.97L194.96,286.00L196.17,286.05L197.38,286.09L198.59,286.14L199.80,286.19L201.01,286.27L202.22,286.40L203.43,286.59L204.64,286.83L205.85,287.11L207.06,287.44L208.27,287.79L209.48,288.17L210.69,288.57L211.90,288.99L213.11,289.42L214.32,289.88L215.53,290.44L216.74,291.11L217.95,291.85L219.16,292.64L220.36,293.48L221.57,294.33L222.78,295.19L223.99,296.02L225.20,296.81L226.41,297.56L227.62,298.31L228.83,299.05L230.04,299.79L231.25,300.53L232.46,301.27L233.67,302.02L234.88,302.77L236.09,303.53L237.30,304.30L238.51,305.07L239.72,305.85L240.93,306.62L242.14,307.40L243.35,308.19L244.56,308.98L245.77,309.78L246.97,310.58L248.18,311.40L249.39,312.23L250.60,313.07L251.81,313.92L253.02,314.77L254.23,315.61L255.44,316.46L256.65,317.34L257.86,318.25L259.07,319.21L260.28,320.24L261.49,321.36L262.70,322.60L263.91,323.95L265.12,325.38L266.33,326.86L267.54,328.37L268.75,329.88L269.96,331.37L271.17,332.81L272.38,334.23L273.58,335.64L274.79,337.06L276.00,338.51L277.21,339.98L278.42,341.50L279.63,343.08L280.84,344.73L282.05,346.46L283.26,348.25L284.47,350.08L285.68,351.95L286.89,353.82L288.10,355.68L289.31,357.51L290.52,359.32L291.73,361.11L292.94,362.89L294.15,364.69L295.36,366.50L296.57,368.34L297.78,370.22L298.99,372.16L300.19,374.10L301.40,376.04L302.61,378.00L303.82,380.02L305.03,382.12L306.24,384.33L307.45,386.67L308.66,389.19L309.87,391.96L311.08,394.98L312.29,398.18L313.50,401.50" fill="none" stroke="#000" stroke-width="1.1" stroke-dasharray="1.1 2.3"/>
<path d="M85.30,401.50L86.12,400.41L86.95,399.31L87.77,398.21L88.59,397.10L89.42,396.00L90.24,394.88L91.06,393.77L91.88,392.65L92.71,391.52L93.53,390.40L94.35,389.27L95.18,388.13L96.00,386.98L96.82,385.81L97.65,384.61L98.47,383.41L99.29,382.20L100.12,380.99L100.94,379.80L101.76,378.62L102.59,377.46L103.41,376.33L104.23,375.23L105.05,374.18L105.88,373.18L106.70,372.21L107.52,371.27L108.35,370.36L109.17,369.47L109.99,368.58L110.82,367.69L111.64,366.79L112.46,365.87L113.29,364.93L114.11,363.97L114.93,363.00L115.76,362.03L116.58,361.08L117.40,360.14L118.22,359.23L119.05,358.36L119.87,357.54L120.69,356.77L121.52,356.05L122.34,355.35L123.16,354.65L123.99,353.97L124.81,353.30L125.63,352.64L126.46,352.00L127.28,351.37L128.10,350.77L128.93,350.17L129.75,349.60L130.57,349.05L131.39,348.53L132.22,348.02L133.04,347.54L133.86,347.09L134.69,346.66L135.51,346.27L136.33,345.90L137.16,345.54L137.98,345.20L138.80,344.86L139.63,344.54L140.45,344.22L141.27,343.92L142.09,343.63L142.92,343.35L143.74,343.08L144.56,342.83L145.39,342.59L146.21,342.36L147.03,342.15L147.86,341.95L148.68,341.76L149.50,341.59L150.33,341.44L151.15,341.29L151.97,341.14L152.80,340.99L153.62,340.84L154.44,340.69L155.26,340.55L156.09,340.41L156.91,340.28L157.73,340.15L158.56,340.03L159.38,339.92L160.20,339.82L161.03,339.72L161.85,339.64L162.67,339.57L163.50,339.51L164.32,339.46L165.14,339.42L165.97,339.40L166.79,339.40L167.61,339.41L168.43,339.44L169.26,339.47L170.08,339.52L170.90,339.59L171.73,339.66L172.55,339.75L173.37,339.84L174.20,339.95L175.02,340.07L175.84,340.19L176.67,340.33L177.49,340.47L178.31,340.62L179.14,340.78L179.96,340.94L180.78,341.11L181.60,341.28L182.43,341.46L183.25,341.65L184.07,341.83L184.90,342.02L185.72,342.22L186.54,342.41L187.37,342.62L188.19,342.85L189.01,343.12L189.84,343.41L190.66,343.74L191.48,344.09L192.31,344.47L193.13,344.87L193.95,345.29L194.77,345.73L195.60,346.19L196.42,346.67L197.24,347.16L198.07,347.66L198.89,348.17L199.71,348.69L200.54,349.22L201.36,349.75L202.18,350.29L203.01,350.82L203.83,351.36L204.65,351.90L205.47,352.45L206.30,353.02L207.12,353.61L207.94,354.22L208.77,354.85L209.59,355.49L210.41,356.15L211.24,356.83L212.06,357.52L212.88,358.23L213.71,358.96L214.53,359.70L215.35,360.46L216.18,361.23L217.00,362.02L217.82,362.83L218.64,363.65L219.47,364.50L220.29,365.40L221.11,366.34L221.94,367.32L222.76,368.32L223.58,369.35L224.41,370.40L225.23,371.46L226.05,372.54L226.88,373.63L227.70,374.73L228.52,375.82L229.35,376.91L230.17,377.99L230.99,379.06L231.81,380.11L232.64,381.15L233.46,382.17L234.28,383.19L235.11,384.21L235.93,385.23L236.75,386.25L237.58,387.27L238.40,388.29L239.22,389.31L240.05,390.33L240.87,391.35L241.69,392.36L242.52,393.38L243.34,394.40L244.16,395.41L244.98,396.43L245.81,397.44L246.63,398.46L247.45,399.47L248.28,400.49L249.10,401.50" fill="none" stroke="#3838f0" stroke-width="1.2" stroke-dasharray="1.2 2.4"/>
<path d="M225.5,401.2L328.4,351.2" fill="none" stroke="#f03030" stroke-width="1.2" stroke-dasharray="1.2 2.4"/>
<path d="M69.50,387.80L75.30,387.80L75.30,373.20L79.90,373.20L79.90,361.90L85.30,361.90L85.30,354.00L88.60,354.00L88.60,348.60L92.70,348.60L92.70,344.90L96.10,344.90L96.10,340.70L99.40,340.70" fill="none" stroke="#555" stroke-width="1.0" />
<path d="M99.40,336.49L100.49,335.47L101.58,334.49L102.67,333.49L103.77,332.37L104.86,331.06L105.95,329.37L107.04,327.30L108.13,325.04L109.22,322.80L110.31,320.78L111.40,319.12L112.50,317.66L113.59,316.30L114.68,315.01L115.77,313.74L116.86,312.43L117.95,311.05L119.04,309.66L120.13,308.26L121.23,306.92L122.32,305.65L123.41,304.49L124.50,303.43L125.59,302.40L126.68,301.41L127.77,300.45L128.86,299.53L129.96,298.64L131.05,297.79L132.14,296.97L133.23,296.19L134.32,295.44L135.41,294.73L136.50,294.05L137.59,293.40L138.69,292.78L139.78,292.17L140.87,291.59L141.96,291.02L143.05,290.48L144.14,289.97L145.23,289.47L146.32,289.00L147.42,288.54L148.51,288.11L149.60,287.70L150.69,287.31L151.78,286.94L152.87,286.59L153.96,286.25L155.06,285.92L156.15,285.60L157.24,285.29L158.33,284.99L159.42,284.68L160.51,284.38L161.60,284.07L162.69,283.75L163.79,283.43L164.88,283.09L165.97,282.76L167.06,282.43L168.15,282.11L169.24,281.81L170.33,281.53L171.42,281.28L172.52,281.06L173.61,280.88L174.70,280.74L175.79,280.61L176.88,280.48L177.97,280.36L179.06,280.25L180.15,280.14L181.25,280.05L182.34,279.97L183.43,279.90L184.52,279.85L185.61,279.81L186.70,279.80L187.79,279.81L188.88,279.86L189.98,279.95L191.07,280.06L192.16,280.20L193.25,280.36L194.34,280.54L195.43,280.73L196.52,280.94L197.61,281.15L198.71,281.36L199.80,281.58L200.89,281.81L201.98,282.06L203.07,282.35L204.16,282.66L205.25,283.00L206.34,283.35L207.44,283.74L208.53,284.14L209.62,284.56L210.71,285.00L211.80,285.46L212.89,285.93L213.98,286.41L215.08,286.90L216.17,287.41L217.26,287.92L218.35,288.48L219.44,289.09L220.53,289.75L221.62,290.45L222.71,291.19L223.81,291.95L224.90,292.73L225.99,293.54L227.08,294.35L228.17,295.16L229.26,295.97L230.35,296.77L231.44,297.56L232.54,298.32L233.63,299.06L234.72,299.76L235.81,300.45L236.90,301.13L237.99,301.80L239.08,302.47L240.17,303.12L241.27,303.78L242.36,304.43L243.45,305.09L244.54,305.75L245.63,306.42L246.72,307.09L247.81,307.78L248.90,308.48L250.00,309.19L251.09,309.92L252.18,310.67L253.27,311.44L254.36,312.22L255.45,313.01L256.54,313.82L257.63,314.63L258.73,315.46L259.82,316.30L260.91,317.15L262.00,318.00" fill="none" stroke="#333" stroke-width="1.0" />
<path d="M255.00,314.00L261.60,314.00L261.60,317.40L264.00,317.40L264.00,321.30L267.90,321.30L267.90,325.70L273.40,325.70L273.40,331.10L282.10,331.10L282.10,339.30L296.30,339.30L296.30,349.00L339.10,349.00" fill="none" stroke="#f33" stroke-width="1.1" />
</g>
<line x1="72.80" y1="389.20" x2="72.80" y2="394.40" stroke="#c4c4c4" stroke-width="0.9"/>
<line x1="72.80" y1="438.00" x2="72.80" y2="448.00" stroke="#c4c4c4" stroke-width="0.9"/>
<line x1="72.80" y1="508.00" x2="72.80" y2="518.00" stroke="#c4c4c4" stroke-width="0.9"/>
<line x1="78.60" y1="371.10" x2="78.60" y2="376.30" stroke="#c4c4c4" stroke-width="0.9"/>
<line x1="78.60" y1="433.00" x2="78.60" y2="443.00" stroke="#c4c4c4" stroke-width="0.9"/>
<line x1="78.60" y1="503.00" x2="78.60" y2="513.00" stroke="#c4c4c4" stroke-width="0.9"/>
<line x1="83.60" y1="359.80" x2="83.60" y2="365.00" stroke="#c4c4c4" stroke-width="0.9"/>
<line x1="83.60" y1="431.50" x2="83.60" y2="441.50" stroke="#c4c4c4" stroke-width="0.9"/>
<line x1="83.60" y1="501.50" x2="83.60" y2="511.50" stroke="#c4c4c4" stroke-width="0.9"/>
<line x1="87.80" y1="348.10" x2="87.80" y2="353.30" stroke="#c4c4c4" stroke-width="0.9"/>
<line x1="87.80" y1="427.50" x2="87.80" y2="437.50" stroke="#c4c4c4" stroke-width="0.9"/>
<line x1="87.80" y1="497.50" x2="87.80" y2="507.50" stroke="#c4c4c4" stroke-width="0.9"/>
<line x1="90.80" y1="338.10" x2="90.80" y2="343.30" stroke="#c4c4c4" stroke-width="0.9"/>
<line x1="90.80" y1="421.00" x2="90.80" y2="431.00" stroke="#c4c4c4" stroke-width="0.9"/>
<line x1="90.80" y1="491.00" x2="90.80" y2="501.00" stroke="#c4c4c4" stroke-width="0.9"/>
<line x1="93.90" y1="348.90" x2="93.90" y2="354.10" stroke="#c4c4c4" stroke-width="0.9"/>
<line x1="93.90" y1="441.00" x2="93.90" y2="451.00" stroke="#c4c4c4" stroke-width="0.9"/>
<line x1="93.90" y1="511.00" x2="93.90" y2="521.00" stroke="#c4c4c4" stroke-width="0.9"/>
<line x1="96.90" y1="334.30" x2="96.90" y2="339.50" stroke="#c4c4c4" stroke-width="0.9"/>
<line x1="96.90" y1="425.50" x2="96.90" y2="435.50" stroke="#c4c4c4" stroke-width="0.9"/>
<line x1="96.90" y1="495.50" x2="96.90" y2="505.50" stroke="#c4c4c4" stroke-width="0.9"/>
<line x1="99.40" y1="336.00" x2="99.40" y2="341.20" stroke="#c4c4c4" stroke-width="0.9"/>
<line x1="99.40" y1="434.50" x2="99.40" y2="444.50" stroke="#c4c4c4" stroke-width="0.9"/>
<line x1="99.40" y1="504.50" x2="99.40" y2="514.50" stroke="#c4c4c4" stroke-width="0.9"/>
<line x1="102.20" y1="332.30" x2="102.20" y2="337.50" stroke="#c4c4c4" stroke-width="0.9"/>
<line x1="102.20" y1="435.50" x2="102.20" y2="445.50" stroke="#c4c4c4" stroke-width="0.9"/>
<line x1="102.20" y1="505.50" x2="102.20" y2="515.50" stroke="#c4c4c4" stroke-width="0.9"/>
<line x1="104.90" y1="328.70" x2="104.90" y2="333.90" stroke="#c4c4c4" stroke-width="0.9"/>
<line x1="104.90" y1="435.50" x2="104.90" y2="445.50" stroke="#c4c4c4" stroke-width="0.9"/>
<line x1="104.90" y1="505.50" x2="104.90" y2="515.50" stroke="#c4c4c4" stroke-width="0.9"/>
<line x1="106.80" y1="323.80" x2="106.80" y2="329.00" stroke="#c4c4c4" stroke-width="0.9"/>
<line x1="106.80" y1="429.00" x2="106.80" y2="439.00" stroke="#c4c4c4" stroke-width="0.9"/>
<line x1="106.80" y1="499.00" x2="106.80" y2="509.00" stroke="#c4c4c4" stroke-width="0.9"/>
<line x1="108.90" y1="319.93" x2="108.90" y2="325.13" stroke="#c4c4c4" stroke-width="0.9"/>
<line x1="108.90" y1="430.00" x2="108.90" y2="440.00" stroke="#c4c4c4" stroke-width="0.9"/>
<line x1="108.90" y1="500.00" x2="108.90" y2="510.00" stroke="#c4c4c4" stroke-width="0.9"/>
<line x1="110.50" y1="316.14" x2="110.50" y2="321.34" stroke="#c4c4c4" stroke-width="0.9"/>
<line x1="110.50" y1="428.25" x2="110.50" y2="438.25" stroke="#c4c4c4" stroke-width="0.9"/>
<line x1="110.50" y1="498.25" x2="110.50" y2="508.25" stroke="#c4c4c4" stroke-width="0.9"/>
<line x1="111.80" y1="313.68" x2="111.80" y2="318.88" stroke="#c4c4c4" stroke-width="0.9"/>
<line x1="111.80" y1="427.00" x2="111.80" y2="437.00" stroke="#c4c4c4" stroke-width="0.9"/>
<line x1="111.80" y1="497.00" x2="111.80" y2="507.00" stroke="#c4c4c4" stroke-width="0.9"/>
<line x1="113.70" y1="313.57" x2="113.70" y2="318.77" stroke="#c4c4c4" stroke-width="0.9"/>
<line x1="113.70" y1="432.00" x2="113.70" y2="442.00" stroke="#c4c4c4" stroke-width="0.9"/>
<line x1="113.70" y1="502.00" x2="113.70" y2="512.00" stroke="#c4c4c4" stroke-width="0.9"/>
<line x1="114.70" y1="312.39" x2="114.70" y2="317.59" stroke="#c4c4c4" stroke-width="0.9"/>
<line x1="114.70" y1="432.00" x2="114.70" y2="442.00" stroke="#c4c4c4" stroke-width="0.9"/>
<line x1="114.70" y1="502.00" x2="114.70" y2="512.00" stroke="#c4c4c4" stroke-width="0.9"/>
<line x1="116.30" y1="308.21" x2="116.30" y2="313.41" stroke="#c4c4c4" stroke-width="0.9"/>
<line x1="116.30" y1="427.00" x2="116.30" y2="437.00" stroke="#c4c4c4" stroke-width="0.9"/>
<line x1="116.30" y1="497.00" x2="116.30" y2="507.00" stroke="#c4c4c4" stroke-width="0.9"/>
<line x1="117.40" y1="307.31" x2="117.40" y2="312.51" stroke="#c4c4c4" stroke-width="0.9"/>
<line x1="117.40" y1="428.00" x2="117.40" y2="438.00" stroke="#c4c4c4" stroke-width="0.9"/>
<line x1="117.40" y1="498.00" x2="117.40" y2="508.00" stroke="#c4c4c4" stroke-width="0.9"/>
<line x1="118.70" y1="306.46" x2="118.70" y2="311.66" stroke="#c4c4c4" stroke-width="0.9"/>
<line x1="118.70" y1="429.75" x2="118.70" y2="439.75" stroke="#c4c4c4" stroke-width="0.9"/>
<line x1="118.70" y1="499.75" x2="118.70" y2="509.75" stroke="#c4c4c4" stroke-width="0.9"/>
<line x1="120.00" y1="306.75" x2="120.00" y2="311.95" stroke="#c4c4c4" stroke-width="0.9"/>
<line x1="120.00" y1="434.00" x2="120.00" y2="444.00" stroke="#c4c4c4" stroke-width="0.9"/>
<line x1="120.00" y1="504.00" x2="120.00" y2="514.00" stroke="#c4c4c4" stroke-width="0.9"/>
<line x1="121.60" y1="304.79" x2="121.60" y2="309.99" stroke="#c4c4c4" stroke-width="0.9"/>
<line x1="121.60" y1="434.00" x2="121.60" y2="444.00" stroke="#c4c4c4" stroke-width="0.9"/>
<line x1="121.60" y1="504.00" x2="121.60" y2="514.00" stroke="#c4c4c4" stroke-width="0.9"/>
<line x1="122.90" y1="307.70" x2="122.90" y2="312.90" stroke="#c4c4c4" stroke-width="0.9"/>
<line x1="122.90" y1="443.50" x2="122.90" y2="453.50" stroke="#c4c4c4" stroke-width="0.9"/>
<line x1="122.90" y1="513.50" x2="122.90" y2="523.50" stroke="#c4c4c4" stroke-width="0.9"/>
<line x1="124.40" y1="300.01" x2="124.40" y2="305.21" stroke="#c4c4c4" stroke-width="0.9"/>
<line x1="124.40" y1="430.00" x2="124.40" y2="440.00" stroke="#c4c4c4" stroke-width="0.9"/>
<line x1="124.40" y1="500.00" x2="124.40" y2="510.00" stroke="#c4c4c4" stroke-width="0.9"/>
<line x1="125.80" y1="302.26" x2="125.80" y2="307.46" stroke="#c4c4c4" stroke-width="0.9"/>
<line x1="125.80" y1="437.75" x2="125.80" y2="447.75" stroke="#c4c4c4" stroke-width="0.9"/>
<line x1="125.80" y1="507.75" x2="125.80" y2="517.75" stroke="#c4c4c4" stroke-width="0.9"/>
<line x1="127.20" y1="299.04" x2="127.20" y2="304.24" stroke="#c4c4c4" stroke-width="0.9"/>
<line x1="127.20" y1="433.50" x2="127.20" y2="443.50" stroke="#c4c4c4" stroke-width="0.9"/>
<line x1="127.20" y1="503.50" x2="127.20" y2="513.50" stroke="#c4c4c4" stroke-width="0.9"/>
<line x1="128.20" y1="299.10" x2="128.20" y2="304.30" stroke="#c4c4c4" stroke-width="0.9"/>
<line x1="128.20" y1="435.50" x2="128.20" y2="445.50" stroke="#c4c4c4" stroke-width="0.9"/>
<line x1="128.20" y1="505.50" x2="128.20" y2="515.50" stroke="#c4c4c4" stroke-width="0.9"/>
<line x1="129.50" y1="293.99" x2="129.50" y2="299.19" stroke="#c4c4c4" stroke-width="0.9"/>
<line x1="129.50" y1="426.75" x2="129.50" y2="436.75" stroke="#c4c4c4" stroke-width="0.9"/>
<line x1="129.50" y1="496.75" x2="129.50" y2="506.75" stroke="#c4c4c4" stroke-width="0.9"/>
<line x1="130.30" y1="291.97" x2="130.30" y2="297.17" stroke="#c4c4c4" stroke-width="0.9"/>
<line x1="130.30" y1="423.75" x2="130.30" y2="433.75" stroke="#c4c4c4" stroke-width="0.9"/>
<line x1="130.30" y1="493.75" x2="130.30" y2="503.75" stroke="#c4c4c4" stroke-width="0.9"/>
<line x1="131.40" y1="295.26" x2="131.40" y2="300.46" stroke="#c4c4c4" stroke-width="0.9"/>
<line x1="131.40" y1="432.75" x2="131.40" y2="442.75" stroke="#c4c4c4" stroke-width="0.9"/>
<line x1="131.40" y1="502.75" x2="131.40" y2="512.75" stroke="#c4c4c4" stroke-width="0.9"/>
<line x1="132.80" y1="291.36" x2="132.80" y2="296.56" stroke="#c4c4c4" stroke-width="0.9"/>
<line x1="132.80" y1="426.50" x2="132.80" y2="436.50" stroke="#c4c4c4" stroke-width="0.9"/>
<line x1="132.80" y1="496.50" x2="132.80" y2="506.50" stroke="#c4c4c4" stroke-width="0.9"/>
<line x1="133.90" y1="286.45" x2="133.90" y2="291.65" stroke="#c4c4c4" stroke-width="0.9"/>
<line x1="133.90" y1="417.50" x2="133.90" y2="427.50" stroke="#c4c4c4" stroke-width="0.9"/>
<line x1="133.90" y1="487.50" x2="133.90" y2="497.50" stroke="#c4c4c4" stroke-width="0.9"/>
<line x1="134.90" y1="291.31" x2="134.90" y2="296.51" stroke="#c4c4c4" stroke-width="0.9"/>
<line x1="134.90" y1="429.50" x2="134.90" y2="439.50" stroke="#c4c4c4" stroke-width="0.9"/>
<line x1="134.90" y1="499.50" x2="134.90" y2="509.50" stroke="#c4c4c4" stroke-width="0.9"/>
<line x1="136.30" y1="291.92" x2="136.30" y2="297.12" stroke="#c4c4c4" stroke-width="0.9"/>
<line x1="136.30" y1="432.75" x2="136.30" y2="442.75" stroke="#c4c4c4" stroke-width="0.9"/>
<line x1="136.30" y1="502.75" x2="136.30" y2="512.75" stroke="#c4c4c4" stroke-width="0.9"/>
<line x1="137.40" y1="289.77" x2="137.40" y2="294.97" stroke="#c4c4c4" stroke-width="0.9"/>
<line x1="137.40" y1="429.50" x2="137.40" y2="439.50" stroke="#c4c4c4" stroke-width="0.9"/>
<line x1="137.40" y1="499.50" x2="137.40" y2="509.50" stroke="#c4c4c4" stroke-width="0.9"/>
<line x1="139.20" y1="287.70" x2="139.20" y2="292.90" stroke="#c4c4c4" stroke-width="0.9"/>
<line x1="139.20" y1="427.25" x2="139.20" y2="437.25" stroke="#c4c4c4" stroke-width="0.9"/>
<line x1="139.20" y1="497.25" x2="139.20" y2="507.25" stroke="#c4c4c4" stroke-width="0.9"/>
<line x1="140.50" y1="291.71" x2="140.50" y2="296.91" stroke="#c4c4c4" stroke-width="0.9"/>
<line x1="140.50" y1="437.50" x2="140.50" y2="447.50" stroke="#c4c4c4" stroke-width="0.9"/>
<line x1="140.50" y1="507.50" x2="140.50" y2="517.50" stroke="#c4c4c4" stroke-width="0.9"/>
<line x1="141.60" y1="286.08" x2="141.60" y2="291.28" stroke="#c4c4c4" stroke-width="0.9"/>
<line x1="141.60" y1="426.50" x2="141.60" y2="436.50" stroke="#c4c4c4" stroke-width="0.9"/>
<line x1="141.60" y1="496.50" x2="141.60" y2="506.50" stroke="#c4c4c4" stroke-width="0.9"/>
<line x1="142.60" y1="289.14" x2="142.60" y2="294.34" stroke="#c4c4c4" stroke-width="0.9"/>
<line x1="142.60" y1="434.25" x2="142.60" y2="444.25" stroke="#c4c4c4" stroke-width="0.9"/>
<line x1="142.60" y1="504.25" x2="142.60" y2="514.25" stroke="#c4c4c4" stroke-width="0.9"/>
<line x1="144.00" y1="288.93" x2="144.00" y2="294.13" stroke="#c4c4c4" stroke-width="0.9"/>
<line x1="144.00" y1="435.25" x2="144.00" y2="445.25" stroke="#c4c4c4" stroke-width="0.9"/>
<line x1="144.00" y1="505.25" x2="144.00" y2="515.25" stroke="#c4c4c4" stroke-width="0.9"/>
<line x1="145.10" y1="284.63" x2="145.10" y2="289.83" stroke="#c4c4c4" stroke-width="0.9"/>
<line x1="145.10" y1="427.00" x2="145.10" y2="437.00" stroke="#c4c4c4" stroke-width="0.9"/>
<line x1="145.10" y1="497.00" x2="145.10" y2="507.00" stroke="#c4c4c4" stroke-width="0.9"/>
<line x1="145.50" y1="289.28" x2="145.50" y2="294.48" stroke="#c4c4c4" stroke-width="0.9"/>
<line x1="145.50" y1="437.50" x2="145.50" y2="447.50" stroke="#c4c4c4" stroke-width="0.9"/>
<line x1="145.50" y1="507.50" x2="145.50" y2="517.50" stroke="#c4c4c4" stroke-width="0.9"/>
<line x1="146.80" y1="281.37" x2="146.80" y2="286.57" stroke="#c4c4c4" stroke-width="0.9"/>
<line x1="146.80" y1="421.50" x2="146.80" y2="431.50" stroke="#c4c4c4" stroke-width="0.9"/>
<line x1="146.80" y1="491.50" x2="146.80" y2="501.50" stroke="#c4c4c4" stroke-width="0.9"/>
<line x1="147.90" y1="282.41" x2="147.90" y2="287.61" stroke="#c4c4c4" stroke-width="0.9"/>
<line x1="147.90" y1="424.75" x2="147.90" y2="434.75" stroke="#c4c4c4" stroke-width="0.9"/>
<line x1="147.90" y1="494.75" x2="147.90" y2="504.75" stroke="#c4c4c4" stroke-width="0.9"/>
<line x1="148.90" y1="282.60" x2="148.90" y2="287.80" stroke="#c4c4c4" stroke-width="0.9"/>
<line x1="148.90" y1="426.00" x2="148.90" y2="436.00" stroke="#c4c4c4" stroke-width="0.9"/>
<line x1="148.90" y1="496.00" x2="148.90" y2="506.00" stroke="#c4c4c4" stroke-width="0.9"/>
<line x1="149.50" y1="285.02" x2="149.50" y2="290.22" stroke="#c4c4c4" stroke-width="0.9"/>
<line x1="149.50" y1="431.75" x2="149.50" y2="441.75" stroke="#c4c4c4" stroke-width="0.9"/>
<line x1="149.50" y1="501.75" x2="149.50" y2="511.75" stroke="#c4c4c4" stroke-width="0.9"/>
<line x1="150.50" y1="284.67" x2="150.50" y2="289.87" stroke="#c4c4c4" stroke-width="0.9"/>
<line x1="150.50" y1="431.75" x2="150.50" y2="441.75" stroke="#c4c4c4" stroke-width="0.9"/>
<line x1="150.50" y1="501.75" x2="150.50" y2="511.75" stroke="#c4c4c4" stroke-width="0.9"/>
<line x1="151.60" y1="283.48" x2="151.60" y2="288.68" stroke="#c4c4c4" stroke-width="0.9"/>
<line x1="151.60" y1="430.00" x2="151.60" y2="440.00" stroke="#c4c4c4" stroke-width="0.9"/>
<line x1="151.60" y1="500.00" x2="151.60" y2="510.00" stroke="#c4c4c4" stroke-width="0.9"/>
<line x1="152.60" y1="287.87" x2="152.60" y2="293.07" stroke="#c4c4c4" stroke-width="0.9"/>
<line x1="152.60" y1="440.25" x2="152.60" y2="450.25" stroke="#c4c4c4" stroke-width="0.9"/>
<line x1="152.60" y1="510.25" x2="152.60" y2="520.25" stroke="#c4c4c4" stroke-width="0.9"/>
<line x1="153.70" y1="286.03" x2="153.70" y2="291.23" stroke="#c4c4c4" stroke-width="0.9"/>
<line x1="153.70" y1="437.00" x2="153.70" y2="447.00" stroke="#c4c4c4" stroke-width="0.9"/>
<line x1="153.70" y1="507.00" x2="153.70" y2="517.00" stroke="#c4c4c4" stroke-width="0.9"/>
<line x1="154.50" y1="287.86" x2="154.50" y2="293.06" stroke="#c4c4c4" stroke-width="0.9"/>
<line x1="154.50" y1="441.50" x2="154.50" y2="451.50" stroke="#c4c4c4" stroke-width="0.9"/>
<line x1="154.50" y1="511.50" x2="154.50" y2="521.50" stroke="#c4c4c4" stroke-width="0.9"/>
<line x1="154.90" y1="285.67" x2="154.90" y2="290.87" stroke="#c4c4c4" stroke-width="0.9"/>
<line x1="154.90" y1="437.00" x2="154.90" y2="447.00" stroke="#c4c4c4" stroke-width="0.9"/>
<line x1="154.90" y1="507.00" x2="154.90" y2="517.00" stroke="#c4c4c4" stroke-width="0.9"/>
<line x1="156.30" y1="282.04" x2="156.30" y2="287.24" stroke="#c4c4c4" stroke-width="0.9"/>
<line x1="156.30" y1="430.00" x2="156.30" y2="440.00" stroke="#c4c4c4" stroke-width="0.9"/>
<line x1="156.30" y1="500.00" x2="156.30" y2="510.00" stroke="#c4c4c4" stroke-width="0.9"/>
<line x1="157.70" y1="283.60" x2="157.70" y2="288.80" stroke="#c4c4c4" stroke-width="0.9"/>
<line x1="157.70" y1="434.25" x2="157.70" y2="444.25" stroke="#c4c4c4" stroke-width="0.9"/>
<line x1="157.70" y1="504.25" x2="157.70" y2="514.25" stroke="#c4c4c4" stroke-width="0.9"/>
<line x1="158.90" y1="281.19" x2="158.90" y2="286.39" stroke="#c4c4c4" stroke-width="0.9"/>
<line x1="158.90" y1="429.75" x2="158.90" y2="439.75" stroke="#c4c4c4" stroke-width="0.9"/>
<line x1="158.90" y1="499.75" x2="158.90" y2="509.75" stroke="#c4c4c4" stroke-width="0.9"/>
<line x1="160.20" y1="280.94" x2="160.20" y2="286.14" stroke="#c4c4c4" stroke-width="0.9"/>
<line x1="160.20" y1="430.00" x2="160.20" y2="440.00" stroke="#c4c4c4" stroke-width="0.9"/>
<line x1="160.20" y1="500.00" x2="160.20" y2="510.00" stroke="#c4c4c4" stroke-width="0.9"/>
<line x1="161.60" y1="281.47" x2="161.60" y2="286.67" stroke="#c4c4c4" stroke-width="0.9"/>
<line x1="161.60" y1="432.00" x2="161.60" y2="442.00" stroke="#c4c4c4" stroke-width="0.9"/>
<line x1="161.60" y1="502.00" x2="161.60" y2="512.00" stroke="#c4c4c4" stroke-width="0.9"/>
<line x1="162.30" y1="281.73" x2="162.30" y2="286.93" stroke="#c4c4c4" stroke-width="0.9"/>
<line x1="162.30" y1="433.00" x2="162.30" y2="443.00" stroke="#c4c4c4" stroke-width="0.9"/>
<line x1="162.30" y1="503.00" x2="162.30" y2="513.00" stroke="#c4c4c4" stroke-width="0.9"/>
<line x1="163.70" y1="279.01" x2="163.70" y2="284.21" stroke="#c4c4c4" stroke-width="0.9"/>
<line x1="163.70" y1="428.00" x2="163.70" y2="438.00" stroke="#c4c4c4" stroke-width="0.9"/>
<line x1="163.70" y1="498.00" x2="163.70" y2="508.00" stroke="#c4c4c4" stroke-width="0.9"/>
<line x1="164.70" y1="283.54" x2="164.70" y2="288.74" stroke="#c4c4c4" stroke-width="0.9"/>
<line x1="164.70" y1="438.50" x2="164.70" y2="448.50" stroke="#c4c4c4" stroke-width="0.9"/>
<line x1="164.70" y1="508.50" x2="164.70" y2="518.50" stroke="#c4c4c4" stroke-width="0.9"/>
<line x1="166.10" y1="283.11" x2="166.10" y2="288.31" stroke="#c4c4c4" stroke-width="0.9"/>
<line x1="166.10" y1="438.50" x2="166.10" y2="448.50" stroke="#c4c4c4" stroke-width="0.9"/>
<line x1="166.10" y1="508.50" x2="166.10" y2="518.50" stroke="#c4c4c4" stroke-width="0.9"/>
<line x1="167.40" y1="282.37" x2="167.40" y2="287.57" stroke="#c4c4c4" stroke-width="0.9"/>
<line x1="167.40" y1="437.75" x2="167.40" y2="447.75" stroke="#c4c4c4" stroke-width="0.9"/>
<line x1="167.40" y1="507.75" x2="167.40" y2="517.75" stroke="#c4c4c4" stroke-width="0.9"/>
<line x1="167.90" y1="278.43" x2="167.90" y2="283.63" stroke="#c4c4c4" stroke-width="0.9"/>
<line x1="167.90" y1="429.50" x2="167.90" y2="439.50" stroke="#c4c4c4" stroke-width="0.9"/>
<line x1="167.90" y1="499.50" x2="167.90" y2="509.50" stroke="#c4c4c4" stroke-width="0.9"/>
<line x1="169.30" y1="278.85" x2="169.30" y2="284.05" stroke="#c4c4c4" stroke-width="0.9"/>
<line x1="169.30" y1="431.25" x2="169.30" y2="441.25" stroke="#c4c4c4" stroke-width="0.9"/>
<line x1="169.30" y1="501.25" x2="169.30" y2="511.25" stroke="#c4c4c4" stroke-width="0.9"/>
<line x1="170.00" y1="281.08" x2="170.00" y2="286.28" stroke="#c4c4c4" stroke-width="0.9"/>
<line x1="170.00" y1="436.50" x2="170.00" y2="446.50" stroke="#c4c4c4" stroke-width="0.9"/>
<line x1="170.00" y1="506.50" x2="170.00" y2="516.50" stroke="#c4c4c4" stroke-width="0.9"/>
<line x1="171.60" y1="275.88" x2="171.60" y2="281.08" stroke="#c4c4c4" stroke-width="0.9"/>
<line x1="171.60" y1="426.00" x2="171.60" y2="436.00" stroke="#c4c4c4" stroke-width="0.9"/>
<line x1="171.60" y1="496.00" x2="171.60" y2="506.00" stroke="#c4c4c4" stroke-width="0.9"/>
<line x1="172.60" y1="280.05" x2="172.60" y2="285.25" stroke="#c4c4c4" stroke-width="0.9"/>
<line x1="172.60" y1="435.50" x2="172.60" y2="445.50" stroke="#c4c4c4" stroke-width="0.9"/>
<line x1="172.60" y1="505.50" x2="172.60" y2="515.50" stroke="#c4c4c4" stroke-width="0.9"/>
<line x1="174.50" y1="285.98" x2="174.50" y2="291.18" stroke="#c4c4c4" stroke-width="0.9"/>
<line x1="174.50" y1="449.00" x2="174.50" y2="459.00" stroke="#c4c4c4" stroke-width="0.9"/>
<line x1="174.50" y1="519.00" x2="174.50" y2="529.00" stroke="#c4c4c4" stroke-width="0.9"/>
<line x1="174.90" y1="279.73" x2="174.90" y2="284.93" stroke="#c4c4c4" stroke-width="0.9"/>
<line x1="174.90" y1="435.50" x2="174.90" y2="445.50" stroke="#c4c4c4" stroke-width="0.9"/>
<line x1="174.90" y1="505.50" x2="174.90" y2="515.50" stroke="#c4c4c4" stroke-width="0.9"/>
<line x1="176.80" y1="277.78" x2="176.80" y2="282.98" stroke="#c4c4c4" stroke-width="0.9"/>
<line x1="176.80" y1="431.75" x2="176.80" y2="441.75" stroke="#c4c4c4" stroke-width="0.9"/>
<line x1="176.80" y1="501.75" x2="176.80" y2="511.75" stroke="#c4c4c4" stroke-width="0.9"/>
<line x1="177.90" y1="275.59" x2="177.90" y2="280.79" stroke="#c4c4c4" stroke-width="0.9"/>
<line x1="177.90" y1="427.25" x2="177.90" y2="437.25" stroke="#c4c4c4" stroke-width="0.9"/>
<line x1="177.90" y1="497.25" x2="177.90" y2="507.25" stroke="#c4c4c4" stroke-width="0.9"/>
<line x1="178.50" y1="274.49" x2="178.50" y2="279.69" stroke="#c4c4c4" stroke-width="0.9"/>
<line x1="178.50" y1="425.00" x2="178.50" y2="435.00" stroke="#c4c4c4" stroke-width="0.9"/>
<line x1="178.50" y1="495.00" x2="178.50" y2="505.00" stroke="#c4c4c4" stroke-width="0.9"/>
<line x1="179.60" y1="278.75" x2="179.60" y2="283.95" stroke="#c4c4c4" stroke-width="0.9"/>
<line x1="179.60" y1="434.50" x2="179.60" y2="444.50" stroke="#c4c4c4" stroke-width="0.9"/>
<line x1="179.60" y1="504.50" x2="179.60" y2="514.50" stroke="#c4c4c4" stroke-width="0.9"/>
<line x1="180.10" y1="279.27" x2="180.10" y2="284.47" stroke="#c4c4c4" stroke-width="0.9"/>
<line x1="180.10" y1="435.75" x2="180.10" y2="445.75" stroke="#c4c4c4" stroke-width="0.9"/>
<line x1="180.10" y1="505.75" x2="180.10" y2="515.75" stroke="#c4c4c4" stroke-width="0.9"/>
<line x1="181.20" y1="275.04" x2="181.20" y2="280.24" stroke="#c4c4c4" stroke-width="0.9"/>
<line x1="181.20" y1="426.75" x2="181.20" y2="436.75" stroke="#c4c4c4" stroke-width="0.9"/>
<line x1="181.20" y1="496.75" x2="181.20" y2="506.75" stroke="#c4c4c4" stroke-width="0.9"/>
<line x1="182.20" y1="273.01" x2="182.20" y2="278.21" stroke="#c4c4c4" stroke-width="0.9"/>
<line x1="182.20" y1="422.50" x2="182.20" y2="432.50" stroke="#c4c4c4" stroke-width="0.9"/>
<line x1="182.20" y1="492.50" x2="182.20" y2="502.50" stroke="#c4c4c4" stroke-width="0.9"/>
<line x1="182.40" y1="275.64" x2="182.40" y2="280.84" stroke="#c4c4c4" stroke-width="0.9"/>
<line x1="182.40" y1="428.25" x2="182.40" y2="438.25" stroke="#c4c4c4" stroke-width="0.9"/>
<line x1="182.40" y1="498.25" x2="182.40" y2="508.25" stroke="#c4c4c4" stroke-width="0.9"/>
<line x1="184.10" y1="282.67" x2="184.10" y2="287.87" stroke="#c4c4c4" stroke-width="0.9"/>
<line x1="184.10" y1="443.75" x2="184.10" y2="453.75" stroke="#c4c4c4" stroke-width="0.9"/>
<line x1="184.10" y1="513.75" x2="184.10" y2="523.75" stroke="#c4c4c4" stroke-width="0.9"/>
<line x1="185.20" y1="279.76" x2="185.20" y2="284.96" stroke="#c4c4c4" stroke-width="0.9"/>
<line x1="185.20" y1="437.50" x2="185.20" y2="447.50" stroke="#c4c4c4" stroke-width="0.9"/>
<line x1="185.20" y1="507.50" x2="185.20" y2="517.50" stroke="#c4c4c4" stroke-width="0.9"/>
<line x1="186.20" y1="275.36" x2="186.20" y2="280.56" stroke="#c4c4c4" stroke-width="0.9"/>
<line x1="186.20" y1="428.00" x2="186.20" y2="438.00" stroke="#c4c4c4" stroke-width="0.9"/>
<line x1="186.20" y1="498.00" x2="186.20" y2="508.00" stroke="#c4c4c4" stroke-width="0.9"/>
<line x1="187.70" y1="278.36" x2="187.70" y2="283.56" stroke="#c4c4c4" stroke-width="0.9"/>
<line x1="187.70" y1="434.50" x2="187.70" y2="444.50" stroke="#c4c4c4" stroke-width="0.9"/>
<line x1="187.70" y1="504.50" x2="187.70" y2="514.50" stroke="#c4c4c4" stroke-width="0.9"/>
<line x1="188.50" y1="277.13" x2="188.50" y2="282.33" stroke="#c4c4c4" stroke-width="0.9"/>
<line x1="188.50" y1="431.75" x2="188.50" y2="441.75" stroke="#c4c4c4" stroke-width="0.9"/>
<line x1="188.50" y1="501.75" x2="188.50" y2="511.75" stroke="#c4c4c4" stroke-width="0.9"/>
<line x1="189.60" y1="276.28" x2="189.60" y2="281.48" stroke="#c4c4c4" stroke-width="0.9"/>
<line x1="189.60" y1="429.75" x2="189.60" y2="439.75" stroke="#c4c4c4" stroke-width="0.9"/>
<line x1="189.60" y1="499.75" x2="189.60" y2="509.75" stroke="#c4c4c4" stroke-width="0.9"/>
<line x1="190.60" y1="275.57" x2="190.60" y2="280.77" stroke="#c4c4c4" stroke-width="0.9"/>
<line x1="190.60" y1="428.00" x2="190.60" y2="438.00" stroke="#c4c4c4" stroke-width="0.9"/>
<line x1="190.60" y1="498.00" x2="190.60" y2="508.00" stroke="#c4c4c4" stroke-width="0.9"/>
<line x1="191.50" y1="278.43" x2="191.50" y2="283.63" stroke="#c4c4c4" stroke-width="0.9"/>
<line x1="191.50" y1="434.00" x2="191.50" y2="444.00" stroke="#c4c4c4" stroke-width="0.9"/>
<line x1="191.50" y1="504.00" x2="191.50" y2="514.00" stroke="#c4c4c4" stroke-width="0.9"/>
<line x1="192.70" y1="279.17" x2="192.70" y2="284.37" stroke="#c4c4c4" stroke-width="0.9"/>
<line x1="192.70" y1="435.25" x2="192.70" y2="445.25" stroke="#c4c4c4" stroke-width="0.9"/>
<line x1="192.70" y1="505.25" x2="192.70" y2="515.25" stroke="#c4c4c4" stroke-width="0.9"/>
<line x1="193.60" y1="277.47" x2="193.60" y2="282.67" stroke="#c4c4c4" stroke-width="0.9"/>
<line x1="193.60" y1="431.25" x2="193.60" y2="441.25" stroke="#c4c4c4" stroke-width="0.9"/>
<line x1="193.60" y1="501.25" x2="193.60" y2="511.25" stroke="#c4c4c4" stroke-width="0.9"/>
<line x1="194.80" y1="276.29" x2="194.80" y2="281.49" stroke="#c4c4c4" stroke-width="0.9"/>
<line x1="194.80" y1="428.25" x2="194.80" y2="438.25" stroke="#c4c4c4" stroke-width="0.9"/>
<line x1="194.80" y1="498.25" x2="194.80" y2="508.25" stroke="#c4c4c4" stroke-width="0.9"/>
<line x1="196.40" y1="282.34" x2="196.40" y2="287.54" stroke="#c4c4c4" stroke-width="0.9"/>
<line x1="196.40" y1="440.75" x2="196.40" y2="450.75" stroke="#c4c4c4" stroke-width="0.9"/>
<line x1="196.40" y1="510.75" x2="196.40" y2="520.75" stroke="#c4c4c4" stroke-width="0.9"/>
<line x1="197.50" y1="279.91" x2="197.50" y2="285.11" stroke="#c4c4c4" stroke-width="0.9"/>
<line x1="197.50" y1="435.00" x2="197.50" y2="445.00" stroke="#c4c4c4" stroke-width="0.9"/>
<line x1="197.50" y1="505.00" x2="197.50" y2="515.00" stroke="#c4c4c4" stroke-width="0.9"/>
<line x1="198.50" y1="275.96" x2="198.50" y2="281.16" stroke="#c4c4c4" stroke-width="0.9"/>
<line x1="198.50" y1="426.00" x2="198.50" y2="436.00" stroke="#c4c4c4" stroke-width="0.9"/>
<line x1="198.50" y1="496.00" x2="198.50" y2="506.00" stroke="#c4c4c4" stroke-width="0.9"/>
<line x1="199.60" y1="278.48" x2="199.60" y2="283.68" stroke="#c4c4c4" stroke-width="0.9"/>
<line x1="199.60" y1="431.00" x2="199.60" y2="441.00" stroke="#c4c4c4" stroke-width="0.9"/>
<line x1="199.60" y1="501.00" x2="199.60" y2="511.00" stroke="#c4c4c4" stroke-width="0.9"/>
<line x1="200.30" y1="279.54" x2="200.30" y2="284.74" stroke="#c4c4c4" stroke-width="0.9"/>
<line x1="200.30" y1="433.00" x2="200.30" y2="443.00" stroke="#c4c4c4" stroke-width="0.9"/>
<line x1="200.30" y1="503.00" x2="200.30" y2="513.00" stroke="#c4c4c4" stroke-width="0.9"/>
<line x1="201.40" y1="275.99" x2="201.40" y2="281.19" stroke="#c4c4c4" stroke-width="0.9"/>
<line x1="201.40" y1="424.75" x2="201.40" y2="434.75" stroke="#c4c4c4" stroke-width="0.9"/>
<line x1="201.40" y1="494.75" x2="201.40" y2="504.75" stroke="#c4c4c4" stroke-width="0.9"/>
<line x1="202.40" y1="278.65" x2="202.40" y2="283.85" stroke="#c4c4c4" stroke-width="0.9"/>
<line x1="202.40" y1="430.00" x2="202.40" y2="440.00" stroke="#c4c4c4" stroke-width="0.9"/>
<line x1="202.40" y1="500.00" x2="202.40" y2="510.00" stroke="#c4c4c4" stroke-width="0.9"/>
<line x1="203.50" y1="278.49" x2="203.50" y2="283.69" stroke="#c4c4c4" stroke-width="0.9"/>
<line x1="203.50" y1="429.00" x2="203.50" y2="439.00" stroke="#c4c4c4" stroke-width="0.9"/>
<line x1="203.50" y1="499.00" x2="203.50" y2="509.00" stroke="#c4c4c4" stroke-width="0.9"/>
<line x1="204.80" y1="279.22" x2="204.80" y2="284.42" stroke="#c4c4c4" stroke-width="0.9"/>
<line x1="204.80" y1="429.75" x2="204.80" y2="439.75" stroke="#c4c4c4" stroke-width="0.9"/>
<line x1="204.80" y1="499.75" x2="204.80" y2="509.75" stroke="#c4c4c4" stroke-width="0.9"/>
<line x1="205.60" y1="280.85" x2="205.60" y2="286.05" stroke="#c4c4c4" stroke-width="0.9"/>
<line x1="205.60" y1="432.75" x2="205.60" y2="442.75" stroke="#c4c4c4" stroke-width="0.9"/>
<line x1="205.60" y1="502.75" x2="205.60" y2="512.75" stroke="#c4c4c4" stroke-width="0.9"/>
<line x1="206.40" y1="281.12" x2="206.40" y2="286.32" stroke="#c4c4c4" stroke-width="0.9"/>
<line x1="206.40" y1="432.75" x2="206.40" y2="442.75" stroke="#c4c4c4" stroke-width="0.9"/>
<line x1="206.40" y1="502.75" x2="206.40" y2="512.75" stroke="#c4c4c4" stroke-width="0.9"/>
<line x1="208.00" y1="283.30" x2="208.00" y2="288.50" stroke="#c4c4c4" stroke-width="0.9"/>
<line x1="208.00" y1="436.25" x2="208.00" y2="446.25" stroke="#c4c4c4" stroke-width="0.9"/>
<line x1="208.00" y1="506.25" x2="208.00" y2="516.25" stroke="#c4c4c4" stroke-width="0.9"/>
<line x1="209.10" y1="286.24" x2="209.10" y2="291.44" stroke="#c4c4c4" stroke-width="0.9"/>
<line x1="209.10" y1="441.75" x2="209.10" y2="451.75" stroke="#c4c4c4" stroke-width="0.9"/>
<line x1="209.10" y1="511.75" x2="209.10" y2="521.75" stroke="#c4c4c4" stroke-width="0.9"/>
<line x1="210.60" y1="283.74" x2="210.60" y2="288.94" stroke="#c4c4c4" stroke-width="0.9"/>
<line x1="210.60" y1="435.00" x2="210.60" y2="445.00" stroke="#c4c4c4" stroke-width="0.9"/>
<line x1="210.60" y1="505.00" x2="210.60" y2="515.00" stroke="#c4c4c4" stroke-width="0.9"/>
<line x1="211.70" y1="278.21" x2="211.70" y2="283.41" stroke="#c4c4c4" stroke-width="0.9"/>
<line x1="211.70" y1="422.00" x2="211.70" y2="432.00" stroke="#c4c4c4" stroke-width="0.9"/>
<line x1="211.70" y1="492.00" x2="211.70" y2="502.00" stroke="#c4c4c4" stroke-width="0.9"/>
<line x1="212.70" y1="284.28" x2="212.70" y2="289.48" stroke="#c4c4c4" stroke-width="0.9"/>
<line x1="212.70" y1="434.25" x2="212.70" y2="444.25" stroke="#c4c4c4" stroke-width="0.9"/>
<line x1="212.70" y1="504.25" x2="212.70" y2="514.25" stroke="#c4c4c4" stroke-width="0.9"/>
<line x1="214.30" y1="284.18" x2="214.30" y2="289.38" stroke="#c4c4c4" stroke-width="0.9"/>
<line x1="214.30" y1="432.50" x2="214.30" y2="442.50" stroke="#c4c4c4" stroke-width="0.9"/>
<line x1="214.30" y1="502.50" x2="214.30" y2="512.50" stroke="#c4c4c4" stroke-width="0.9"/>
<line x1="215.70" y1="282.98" x2="215.70" y2="288.18" stroke="#c4c4c4" stroke-width="0.9"/>
<line x1="215.70" y1="428.50" x2="215.70" y2="438.50" stroke="#c4c4c4" stroke-width="0.9"/>
<line x1="215.70" y1="498.50" x2="215.70" y2="508.50" stroke="#c4c4c4" stroke-width="0.9"/>
<line x1="217.20" y1="286.33" x2="217.20" y2="291.53" stroke="#c4c4c4" stroke-width="0.9"/>
<line x1="217.20" y1="434.25" x2="217.20" y2="444.25" stroke="#c4c4c4" stroke-width="0.9"/>
<line x1="217.20" y1="504.25" x2="217.20" y2="514.25" stroke="#c4c4c4" stroke-width="0.9"/>
<line x1="218.80" y1="281.99" x2="218.80" y2="287.19" stroke="#c4c4c4" stroke-width="0.9"/>
<line x1="218.80" y1="423.00" x2="218.80" y2="433.00" stroke="#c4c4c4" stroke-width="0.9"/>
<line x1="218.80" y1="493.00" x2="218.80" y2="503.00" stroke="#c4c4c4" stroke-width="0.9"/>
<line x1="220.10" y1="285.51" x2="220.10" y2="290.71" stroke="#c4c4c4" stroke-width="0.9"/>
<line x1="220.10" y1="429.00" x2="220.10" y2="439.00" stroke="#c4c4c4" stroke-width="0.9"/>
<line x1="220.10" y1="499.00" x2="220.10" y2="509.00" stroke="#c4c4c4" stroke-width="0.9"/>
<line x1="222.00" y1="287.64" x2="222.00" y2="292.84" stroke="#c4c4c4" stroke-width="0.9"/>
<line x1="222.00" y1="431.00" x2="222.00" y2="441.00" stroke="#c4c4c4" stroke-width="0.9"/>
<line x1="222.00" y1="501.00" x2="222.00" y2="511.00" stroke="#c4c4c4" stroke-width="0.9"/>
<line x1="223.80" y1="286.36" x2="223.80" y2="291.56" stroke="#c4c4c4" stroke-width="0.9"/>
<line x1="223.80" y1="425.50" x2="223.80" y2="435.50" stroke="#c4c4c4" stroke-width="0.9"/>
<line x1="223.80" y1="495.50" x2="223.80" y2="505.50" stroke="#c4c4c4" stroke-width="0.9"/>
<line x1="226.20" y1="292.47" x2="226.20" y2="297.67" stroke="#c4c4c4" stroke-width="0.9"/>
<line x1="226.20" y1="435.00" x2="226.20" y2="445.00" stroke="#c4c4c4" stroke-width="0.9"/>
<line x1="226.20" y1="505.00" x2="226.20" y2="515.00" stroke="#c4c4c4" stroke-width="0.9"/>
<line x1="228.70" y1="291.57" x2="228.70" y2="296.77" stroke="#c4c4c4" stroke-width="0.9"/>
<line x1="228.70" y1="429.00" x2="228.70" y2="439.00" stroke="#c4c4c4" stroke-width="0.9"/>
<line x1="228.70" y1="499.00" x2="228.70" y2="509.00" stroke="#c4c4c4" stroke-width="0.9"/>
<line x1="231.50" y1="294.08" x2="231.50" y2="299.28" stroke="#c4c4c4" stroke-width="0.9"/>
<line x1="231.50" y1="430.00" x2="231.50" y2="440.00" stroke="#c4c4c4" stroke-width="0.9"/>
<line x1="231.50" y1="500.00" x2="231.50" y2="510.00" stroke="#c4c4c4" stroke-width="0.9"/>
<line x1="234.30" y1="295.97" x2="234.30" y2="301.17" stroke="#c4c4c4" stroke-width="0.9"/>
<line x1="234.30" y1="430.00" x2="234.30" y2="440.00" stroke="#c4c4c4" stroke-width="0.9"/>
<line x1="234.30" y1="500.00" x2="234.30" y2="510.00" stroke="#c4c4c4" stroke-width="0.9"/>
<line x1="237.80" y1="301.85" x2="237.80" y2="307.05" stroke="#c4c4c4" stroke-width="0.9"/>
<line x1="237.80" y1="438.00" x2="237.80" y2="448.00" stroke="#c4c4c4" stroke-width="0.9"/>
<line x1="237.80" y1="508.00" x2="237.80" y2="518.00" stroke="#c4c4c4" stroke-width="0.9"/>
<line x1="242.40" y1="302.20" x2="242.40" y2="307.40" stroke="#c4c4c4" stroke-width="0.9"/>
<line x1="242.40" y1="432.75" x2="242.40" y2="442.75" stroke="#c4c4c4" stroke-width="0.9"/>
<line x1="242.40" y1="502.75" x2="242.40" y2="512.75" stroke="#c4c4c4" stroke-width="0.9"/>
<line x1="256.40" y1="311.11" x2="256.40" y2="316.31" stroke="#c4c4c4" stroke-width="0.9"/>
<line x1="256.40" y1="432.00" x2="256.40" y2="442.00" stroke="#c4c4c4" stroke-width="0.9"/>
<line x1="256.40" y1="502.00" x2="256.40" y2="512.00" stroke="#c4c4c4" stroke-width="0.9"/>
<line x1="237.60" y1="297.60" x2="237.60" y2="304.00" stroke="#ffb4b4" stroke-width="0.9"/>
<line x1="237.60" y1="433.50" x2="237.60" y2="443.50" stroke="#ffb4b4" stroke-width="0.9"/>
<line x1="237.60" y1="502.50" x2="237.60" y2="512.50" stroke="#ffb4b4" stroke-width="0.9"/>
<line x1="239.30" y1="299.30" x2="239.30" y2="305.70" stroke="#ffb4b4" stroke-width="0.9"/>
<line x1="239.30" y1="433.75" x2="239.30" y2="443.75" stroke="#ffb4b4" stroke-width="0.9"/>
<line x1="239.30" y1="502.50" x2="239.30" y2="512.50" stroke="#ffb4b4" stroke-width="0.9"/>
<line x1="240.60" y1="303.90" x2="240.60" y2="310.30" stroke="#ffb4b4" stroke-width="0.9"/>
<line x1="240.60" y1="438.75" x2="240.60" y2="448.75" stroke="#ffb4b4" stroke-width="0.9"/>
<line x1="240.60" y1="506.25" x2="240.60" y2="516.25" stroke="#ffb4b4" stroke-width="0.9"/>
<line x1="242.10" y1="293.60" x2="242.10" y2="300.00" stroke="#ffb4b4" stroke-width="0.9"/>
<line x1="242.10" y1="426.75" x2="242.10" y2="436.75" stroke="#ffb4b4" stroke-width="0.9"/>
<line x1="242.10" y1="496.50" x2="242.10" y2="506.50" stroke="#ffb4b4" stroke-width="0.9"/>
<line x1="243.40" y1="292.10" x2="243.40" y2="298.50" stroke="#ffb4b4" stroke-width="0.9"/>
<line x1="243.40" y1="422.25" x2="243.40" y2="432.25" stroke="#ffb4b4" stroke-width="0.9"/>
<line x1="243.40" y1="490.75" x2="243.40" y2="500.75" stroke="#ffb4b4" stroke-width="0.9"/>
<line x1="245.70" y1="300.70" x2="245.70" y2="307.10" stroke="#ffb4b4" stroke-width="0.9"/>
<line x1="245.70" y1="431.00" x2="245.70" y2="441.00" stroke="#ffb4b4" stroke-width="0.9"/>
<line x1="245.70" y1="499.00" x2="245.70" y2="509.00" stroke="#ffb4b4" stroke-width="0.9"/>
<line x1="247.50" y1="303.10" x2="247.50" y2="309.50" stroke="#ffb4b4" stroke-width="0.9"/>
<line x1="247.50" y1="432.50" x2="247.50" y2="442.50" stroke="#ffb4b4" stroke-width="0.9"/>
<line x1="247.50" y1="498.50" x2="247.50" y2="508.50" stroke="#ffb4b4" stroke-width="0.9"/>
<line x1="248.70" y1="308.60" x2="248.70" y2="315.00" stroke="#ffb4b4" stroke-width="0.9"/>
<line x1="248.70" y1="437.00" x2="248.70" y2="447.00" stroke="#ffb4b4" stroke-width="0.9"/>
<line x1="248.70" y1="501.00" x2="248.70" y2="511.00" stroke="#ffb4b4" stroke-width="0.9"/>
<line x1="250.80" y1="298.40" x2="250.80" y2="304.80" stroke="#ffb4b4" stroke-width="0.9"/>
<line x1="250.80" y1="424.25" x2="250.80" y2="434.25" stroke="#ffb4b4" stroke-width="0.9"/>
<line x1="250.80" y1="492.00" x2="250.80" y2="502.00" stroke="#ffb4b4" stroke-width="0.9"/>
<line x1="252.80" y1="305.50" x2="252.80" y2="311.90" stroke="#ffb4b4" stroke-width="0.9"/>
<line x1="252.80" y1="429.75" x2="252.80" y2="439.75" stroke="#ffb4b4" stroke-width="0.9"/>
<line x1="252.80" y1="496.50" x2="252.80" y2="506.50" stroke="#ffb4b4" stroke-width="0.9"/>
<line x1="254.80" y1="311.00" x2="254.80" y2="317.40" stroke="#ffb4b4" stroke-width="0.9"/>
<line x1="254.80" y1="434.25" x2="254.80" y2="444.25" stroke="#ffb4b4" stroke-width="0.9"/>
<line x1="254.80" y1="501.00" x2="254.80" y2="511.00" stroke="#ffb4b4" stroke-width="0.9"/>
<line x1="257.10" y1="315.00" x2="257.10" y2="321.40" stroke="#ffb4b4" stroke-width="0.9"/>
<line x1="257.10" y1="437.50" x2="257.10" y2="447.50" stroke="#ffb4b4" stroke-width="0.9"/>
<line x1="257.10" y1="502.50" x2="257.10" y2="512.50" stroke="#ffb4b4" stroke-width="0.9"/>
<line x1="259.90" y1="304.20" x2="259.90" y2="310.60" stroke="#ffb4b4" stroke-width="0.9"/>
<line x1="259.90" y1="423.00" x2="259.90" y2="433.00" stroke="#ffb4b4" stroke-width="0.9"/>
<line x1="259.90" y1="489.50" x2="259.90" y2="499.50" stroke="#ffb4b4" stroke-width="0.9"/>
<line x1="262.20" y1="309.40" x2="262.20" y2="315.80" stroke="#ffb4b4" stroke-width="0.9"/>
<line x1="262.20" y1="426.00" x2="262.20" y2="436.00" stroke="#ffb4b4" stroke-width="0.9"/>
<line x1="262.20" y1="492.00" x2="262.20" y2="502.00" stroke="#ffb4b4" stroke-width="0.9"/>
<line x1="265.00" y1="315.30" x2="265.00" y2="321.70" stroke="#ffb4b4" stroke-width="0.9"/>
<line x1="265.00" y1="429.75" x2="265.00" y2="439.75" stroke="#ffb4b4" stroke-width="0.9"/>
<line x1="265.00" y1="495.50" x2="265.00" y2="505.50" stroke="#ffb4b4" stroke-width="0.9"/>
<line x1="270.60" y1="324.80" x2="270.60" y2="331.20" stroke="#ffb4b4" stroke-width="0.9"/>
<line x1="270.60" y1="435.00" x2="270.60" y2="445.00" stroke="#ffb4b4" stroke-width="0.9"/>
<line x1="270.60" y1="496.00" x2="270.60" y2="506.00" stroke="#ffb4b4" stroke-width="0.9"/>
<line x1="276.60" y1="324.10" x2="276.60" y2="330.50" stroke="#ffb4b4" stroke-width="0.9"/>
<line x1="276.60" y1="428.00" x2="276.60" y2="438.00" stroke="#ffb4b4" stroke-width="0.9"/>
<line x1="276.60" y1="491.00" x2="276.60" y2="501.00" stroke="#ffb4b4" stroke-width="0.9"/>
<line x1="286.80" y1="336.30" x2="286.80" y2="347.30" stroke="#ffb4b4" stroke-width="0.9"/>
<line x1="279.70" y1="341.80" x2="294.00" y2="341.80" stroke="#ffb4b4" stroke-width="0.9"/>
<line x1="286.80" y1="434.75" x2="286.80" y2="444.75" stroke="#ffb4b4" stroke-width="0.9"/>
<line x1="279.70" y1="439.75" x2="294.00" y2="439.75" stroke="#ffb4b4" stroke-width="0.9"/>
<line x1="286.80" y1="489.50" x2="286.80" y2="499.50" stroke="#ffb4b4" stroke-width="0.9"/>
<line x1="279.70" y1="494.50" x2="294.00" y2="494.50" stroke="#ffb4b4" stroke-width="0.9"/>
<line x1="304.60" y1="342.70" x2="304.60" y2="353.70" stroke="#ffb4b4" stroke-width="0.9"/>
<line x1="296.30" y1="348.20" x2="315.30" y2="348.20" stroke="#ffb4b4" stroke-width="0.9"/>
<line x1="304.60" y1="430.50" x2="304.60" y2="440.50" stroke="#ffb4b4" stroke-width="0.9"/>
<line x1="296.30" y1="435.50" x2="315.30" y2="435.50" stroke="#ffb4b4" stroke-width="0.9"/>
<line x1="304.60" y1="480.00" x2="304.60" y2="490.00" stroke="#ffb4b4" stroke-width="0.9"/>
<line x1="296.30" y1="485.00" x2="315.30" y2="485.00" stroke="#ffb4b4" stroke-width="0.9"/>
<line x1="328.40" y1="341.70" x2="328.40" y2="352.70" stroke="#ffb4b4" stroke-width="0.9"/>
<line x1="315.30" y1="347.20" x2="339.00" y2="347.20" stroke="#ffb4b4" stroke-width="0.9"/>
<line x1="328.40" y1="430.00" x2="328.40" y2="440.00" stroke="#ffb4b4" stroke-width="0.9"/>
<line x1="315.30" y1="435.00" x2="339.00" y2="435.00" stroke="#ffb4b4" stroke-width="0.9"/>
<line x1="328.40" y1="476.50" x2="328.40" y2="486.50" stroke="#ffb4b4" stroke-width="0.9"/>
<line x1="315.30" y1="481.50" x2="339.00" y2="481.50" stroke="#ffb4b4" stroke-width="0.9"/>
<line x1="69.00" y1="437.00" x2="348.00" y2="437.00" stroke="#96f096" stroke-width="2.0"/>
<line x1="69.00" y1="507.00" x2="348.00" y2="507.00" stroke="#96f096" stroke-width="2.0"/>
<circle cx="72.80" cy="391.80" r="1.35" fill="#000"/>
<circle cx="72.80" cy="443.00" r="1.35" fill="#000"/>
<circle cx="72.80" cy="513.00" r="1.35" fill="#000"/>
<circle cx="78.60" cy="373.70" r="1.35" fill="#000"/>
<circle cx="78.60" cy="438.00" r="1.35" fill="#000"/>
<circle cx="78.60" cy="508.00" r="1.35" fill="#000"/>
<circle cx="83.60" cy="362.40" r="1.35" fill="#000"/>
<circle cx="83.60" cy="436.50" r="1.35" fill="#000"/>
<circle cx="83.60" cy="506.50" r="1.35" fill="#000"/>
<circle cx="87.80" cy="350.70" r="1.35" fill="#000"/>
<circle cx="87.80" cy="432.50" r="1.35" fill="#000"/>
<circle cx="87.80" cy="502.50" r="1.35" fill="#000"/>
<circle cx="90.80" cy="340.70" r="1.35" fill="#000"/>
<circle cx="90.80" cy="426.00" r="1.35" fill="#000"/>
<circle cx="90.80" cy="496.00" r="1.35" fill="#000"/>
<circle cx="93.90" cy="351.50" r="1.35" fill="#000"/>
<circle cx="93.90" cy="446.00" r="1.35" fill="#000"/>
<circle cx="93.90" cy="516.00" r="1.35" fill="#000"/>
<circle cx="96.90" cy="336.90" r="1.35" fill="#000"/>
<circle cx="96.90" cy="430.50" r="1.35" fill="#000"/>
<circle cx="96.90" cy="500.50" r="1.35" fill="#000"/>
<circle cx="99.40" cy="338.60" r="1.35" fill="#000"/>
<circle cx="99.40" cy="439.50" r="1.35" fill="#000"/>
<circle cx="99.40" cy="509.50" r="1.35" fill="#000"/>
<circle cx="102.20" cy="334.90" r="1.35" fill="#000"/>
<circle cx="102.20" cy="440.50" r="1.35" fill="#000"/>
<circle cx="102.20" cy="510.50" r="1.35" fill="#000"/>
<circle cx="104.90" cy="331.30" r="1.35" fill="#000"/>
<circle cx="104.90" cy="440.50" r="1.35" fill="#000"/>
<circle cx="104.90" cy="510.50" r="1.35" fill="#000"/>
<circle cx="106.80" cy="326.40" r="1.35" fill="#000"/>
<circle cx="106.80" cy="434.00" r="1.35" fill="#000"/>
<circle cx="106.80" cy="504.00" r="1.35" fill="#000"/>
<circle cx="108.90" cy="322.53" r="1.35" fill="#000"/>
<circle cx="108.90" cy="435.00" r="1.35" fill="#000"/>
<circle cx="108.90" cy="505.00" r="1.35" fill="#000"/>
<circle cx="110.50" cy="318.74" r="1.35" fill="#000"/>
<circle cx="110.50" cy="433.25" r="1.35" fill="#000"/>
<circle cx="110.50" cy="503.25" r="1.35" fill="#000"/>
<circle cx="111.80" cy="316.28" r="1.35" fill="#000"/>
<circle cx="111.80" cy="432.00" r="1.35" fill="#000"/>
<circle cx="111.80" cy="502.00" r="1.35" fill="#000"/>
<circle cx="113.70" cy="316.17" r="1.35" fill="#000"/>
<circle cx="113.70" cy="437.00" r="1.35" fill="#000"/>
<circle cx="113.70" cy="507.00" r="1.35" fill="#000"/>
<circle cx="114.70" cy="314.99" r="1.35" fill="#000"/>
<circle cx="114.70" cy="437.00" r="1.35" fill="#000"/>
<circle cx="114.70" cy="507.00" r="1.35" fill="#000"/>
<circle cx="116.30" cy="310.81" r="1.35" fill="#000"/>
<circle cx="116.30" cy="432.00" r="1.35" fill="#000"/>
<circle cx="116.30" cy="502.00" r="1.35" fill="#000"/>
<circle cx="117.40" cy="309.91" r="1.35" fill="#000"/>
<circle cx="117.40" cy="433.00" r="1.35" fill="#000"/>
<circle cx="117.40" cy="503.00" r="1.35" fill="#000"/>
<circle cx="118.70" cy="309.06" r="1.35" fill="#000"/>
<circle cx="118.70" cy="434.75" r="1.35" fill="#000"/>
<circle cx="118.70" cy="504.75" r="1.35" fill="#000"/>
<circle cx="120.00" cy="309.35" r="1.35" fill="#000"/>
<circle cx="120.00" cy="439.00" r="1.35" fill="#000"/>
<circle cx="120.00" cy="509.00" r="1.35" fill="#000"/>
<circle cx="121.60" cy="307.39" r="1.35" fill="#000"/>
<circle cx="121.60" cy="439.00" r="1.35" fill="#000"/>
<circle cx="121.60" cy="509.00" r="1.35" fill="#000"/>
<circle cx="122.90" cy="310.30" r="1.35" fill="#000"/>
<circle cx="122.90" cy="448.50" r="1.35" fill="#000"/>
<circle cx="122.90" cy="518.50" r="1.35" fill="#000"/>
<circle cx="124.40" cy="302.61" r="1.35" fill="#000"/>
<circle cx="124.40" cy="435.00" r="1.35" fill="#000"/>
<circle cx="124.40" cy="505.00" r="1.35" fill="#000"/>
<circle cx="125.80" cy="304.86" r="1.35" fill="#000"/>
<circle cx="125.80" cy="442.75" r="1.35" fill="#000"/>
<circle cx="125.80" cy="512.75" r="1.35" fill="#000"/>
<circle cx="127.20" cy="301.64" r="1.35" fill="#000"/>
<circle cx="127.20" cy="438.50" r="1.35" fill="#000"/>
<circle cx="127.20" cy="508.50" r="1.35" fill="#000"/>
<circle cx="128.20" cy="301.70" r="1.35" fill="#000"/>
<circle cx="128.20" cy="440.50" r="1.35" fill="#000"/>
<circle cx="128.20" cy="510.50" r="1.35" fill="#000"/>
<circle cx="129.50" cy="296.59" r="1.35" fill="#000"/>
<circle cx="129.50" cy="431.75" r="1.35" fill="#000"/>
<circle cx="129.50" cy="501.75" r="1.35" fill="#000"/>
<circle cx="130.30" cy="294.57" r="1.35" fill="#000"/>
<circle cx="130.30" cy="428.75" r="1.35" fill="#000"/>
<circle cx="130.30" cy="498.75" r="1.35" fill="#000"/>
<circle cx="131.40" cy="297.86" r="1.35" fill="#000"/>
<circle cx="131.40" cy="437.75" r="1.35" fill="#000"/>
<circle cx="131.40" cy="507.75" r="1.35" fill="#000"/>
<circle cx="132.80" cy="293.96" r="1.35" fill="#000"/>
<circle cx="132.80" cy="431.50" r="1.35" fill="#000"/>
<circle cx="132.80" cy="501.50" r="1.35" fill="#000"/>
<circle cx="133.90" cy="289.05" r="1.35" fill="#000"/>
<circle cx="133.90" cy="422.50" r="1.35" fill="#000"/>
<circle cx="133.90" cy="492.50" r="1.35" fill="#000"/>
<circle cx="134.90" cy="293.91" r="1.35" fill="#000"/>
<circle cx="134.90" cy="434.50" r="1.35" fill="#000"/>
<circle cx="134.90" cy="504.50" r="1.35" fill="#000"/>
<circle cx="136.30" cy="294.52" r="1.35" fill="#000"/>
<circle cx="136.30" cy="437.75" r="1.35" fill="#000"/>
<circle cx="136.30" cy="507.75" r="1.35" fill="#000"/>
<circle cx="137.40" cy="292.37" r="1.35" fill="#000"/>
<circle cx="137.40" cy="434.50" r="1.35" fill="#000"/>
<circle cx="137.40" cy="504.50" r="1.35" fill="#000"/>
<circle cx="139.20" cy="290.30" r="1.35" fill="#000"/>
<circle cx="139.20" cy="432.25" r="1.35" fill="#000"/>
<circle cx="139.20" cy="502.25" r="1.35" fill="#000"/>
<circle cx="140.50" cy="294.31" r="1.35" fill="#000"/>
<circle cx="140.50" cy="442.50" r="1.35" fill="#000"/>
<circle cx="140.50" cy="512.50" r="1.35" fill="#000"/>
<circle cx="141.60" cy="288.68" r="1.35" fill="#000"/>
<circle cx="141.60" cy="431.50" r="1.35" fill="#000"/>
<circle cx="141.60" cy="501.50" r="1.35" fill="#000"/>
<circle cx="142.60" cy="291.74" r="1.35" fill="#000"/>
<circle cx="142.60" cy="439.25" r="1.35" fill="#000"/>
<circle cx="142.60" cy="509.25" r="1.35" fill="#000"/>
<circle cx="144.00" cy="291.53" r="1.35" fill="#000"/>
<circle cx="144.00" cy="440.25" r="1.35" fill="#000"/>
<circle cx="144.00" cy="510.25" r="1.35" fill="#000"/>
<circle cx="145.10" cy="287.23" r="1.35" fill="#000"/>
<circle cx="145.10" cy="432.00" r="1.35" fill="#000"/>
<circle cx="145.10" cy="502.00" r="1.35" fill="#000"/>
<circle cx="145.50" cy="291.88" r="1.35" fill="#000"/>
<circle cx="145.50" cy="442.50" r="1.35" fill="#000"/>
<circle cx="145.50" cy="512.50" r="1.35" fill="#000"/>
<circle cx="146.80" cy="283.97" r="1.35" fill="#000"/>
<circle cx="146.80" cy="426.50" r="1.35" fill="#000"/>
<circle cx="146.80" cy="496.50" r="1.35" fill="#000"/>
<circle cx="147.90" cy="285.01" r="1.35" fill="#000"/>
<circle cx="147.90" cy="429.75" r="1.35" fill="#000"/>
<circle cx="147.90" cy="499.75" r="1.35" fill="#000"/>
<circle cx="148.90" cy="285.20" r="1.35" fill="#000"/>
<circle cx="148.90" cy="431.00" r="1.35" fill="#000"/>
<circle cx="148.90" cy="501.00" r="1.35" fill="#000"/>
<circle cx="149.50" cy="287.62" r="1.35" fill="#000"/>
<circle cx="149.50" cy="436.75" r="1.35" fill="#000"/>
<circle cx="149.50" cy="506.75" r="1.35" fill="#000"/>
<circle cx="150.50" cy="287.27" r="1.35" fill="#000"/>
<circle cx="150.50" cy="436.75" r="1.35" fill="#000"/>
<circle cx="150.50" cy="506.75" r="1.35" fill="#000"/>
<circle cx="151.60" cy="286.08" r="1.35" fill="#000"/>
<circle cx="151.60" cy="435.00" r="1.35" fill="#000"/>
<circle cx="151.60" cy="505.00" r="1.35" fill="#000"/>
<circle cx="152.60" cy="290.47" r="1.35" fill="#000"/>
<circle cx="152.60" cy="445.25" r="1.35" fill="#000"/>
<circle cx="152.60" cy="515.25" r="1.35" fill="#000"/>
<circle cx="153.70" cy="288.63" r="1.35" fill="#000"/>
<circle cx="153.70" cy="442.00" r="1.35" fill="#000"/>
<circle cx="153.70" cy="512.00" r="1.35" fill="#000"/>
<circle cx="154.50" cy="290.46" r="1.35" fill="#000"/>
<circle cx="154.50" cy="446.50" r="1.35" fill="#000"/>
<circle cx="154.50" cy="516.50" r="1.35" fill="#000"/>
<circle cx="154.90" cy="288.27" r="1.35" fill="#000"/>
<circle cx="154.90" cy="442.00" r="1.35" fill="#000"/>
<circle cx="154.90" cy="512.00" r="1.35" fill="#000"/>
<circle cx="156.30" cy="284.64" r="1.35" fill="#000"/>
<circle cx="156.30" cy="435.00" r="1.35" fill="#000"/>
<circle cx="156.30" cy="505.00" r="1.35" fill="#000"/>
<circle cx="157.70" cy="286.20" r="1.35" fill="#000"/>
<circle cx="157.70" cy="439.25" r="1.35" fill="#000"/>
<circle cx="157.70" cy="509.25" r="1.35" fill="#000"/>
<circle cx="158.90" cy="283.79" r="1.35" fill="#000"/>
<circle cx="158.90" cy="434.75" r="1.35" fill="#000"/>
<circle cx="158.90" cy="504.75" r="1.35" fill="#000"/>
<circle cx="160.20" cy="283.54" r="1.35" fill="#000"/>
<circle cx="160.20" cy="435.00" r="1.35" fill="#000"/>
<circle cx="160.20" cy="505.00" r="1.35" fill="#000"/>
<circle cx="161.60" cy="284.07" r="1.35" fill="#000"/>
<circle cx="161.60" cy="437.00" r="1.35" fill="#000"/>
<circle cx="161.60" cy="507.00" r="1.35" fill="#000"/>
<circle cx="162.30" cy="284.33" r="1.35" fill="#000"/>
<circle cx="162.30" cy="438.00" r="1.35" fill="#000"/>
<circle cx="162.30" cy="508.00" r="1.35" fill="#000"/>
<circle cx="163.70" cy="281.61" r="1.35" fill="#000"/>
<circle cx="163.70" cy="433.00" r="1.35" fill="#000"/>
<circle cx="163.70" cy="503.00" r="1.35" fill="#000"/>
<circle cx="164.70" cy="286.14" r="1.35" fill="#000"/>
<circle cx="164.70" cy="443.50" r="1.35" fill="#000"/>
<circle cx="164.70" cy="513.50" r="1.35" fill="#000"/>
<circle cx="166.10" cy="285.71" r="1.35" fill="#000"/>
<circle cx="166.10" cy="443.50" r="1.35" fill="#000"/>
<circle cx="166.10" cy="513.50" r="1.35" fill="#000"/>
<circle cx="167.40" cy="284.97" r="1.35" fill="#000"/>
<circle cx="167.40" cy="442.75" r="1.35" fill="#000"/>
<circle cx="167.40" cy="512.75" r="1.35" fill="#000"/>
<circle cx="167.90" cy="281.03" r="1.35" fill="#000"/>
<circle cx="167.90" cy="434.50" r="1.35" fill="#000"/>
<circle cx="167.90" cy="504.50" r="1.35" fill="#000"/>
<circle cx="169.30" cy="281.45" r="1.35" fill="#000"/>
<circle cx="169.30" cy="436.25" r="1.35" fill="#000"/>
<circle cx="169.30" cy="506.25" r="1.35" fill="#000"/>
<circle cx="170.00" cy="283.68" r="1.35" fill="#000"/>
<circle cx="170.00" cy="441.50" r="1.35" fill="#000"/>
<circle cx="170.00" cy="511.50" r="1.35" fill="#000"/>
<circle cx="171.60" cy="278.48" r="1.35" fill="#000"/>
<circle cx="171.60" cy="431.00" r="1.35" fill="#000"/>
<circle cx="171.60" cy="501.00" r="1.35" fill="#000"/>
<circle cx="172.60" cy="282.65" r="1.35" fill="#000"/>
<circle cx="172.60" cy="440.50" r="1.35" fill="#000"/>
<circle cx="172.60" cy="510.50" r="1.35" fill="#000"/>
<circle cx="174.50" cy="288.58" r="1.35" fill="#000"/>
<circle cx="174.50" cy="454.00" r="1.35" fill="#000"/>
<circle cx="174.50" cy="524.00" r="1.35" fill="#000"/>
<circle cx="174.90" cy="282.33" r="1.35" fill="#000"/>
<circle cx="174.90" cy="440.50" r="1.35" fill="#000"/>
<circle cx="174.90" cy="510.50" r="1.35" fill="#000"/>
<circle cx="176.80" cy="280.38" r="1.35" fill="#000"/>
<circle cx="176.80" cy="436.75" r="1.35" fill="#000"/>
<circle cx="176.80" cy="506.75" r="1.35" fill="#000"/>
<circle cx="177.90" cy="278.19" r="1.35" fill="#000"/>
<circle cx="177.90" cy="432.25" r="1.35" fill="#000"/>
<circle cx="177.90" cy="502.25" r="1.35" fill="#000"/>
<circle cx="178.50" cy="277.09" r="1.35" fill="#000"/>
<circle cx="178.50" cy="430.00" r="1.35" fill="#000"/>
<circle cx="178.50" cy="500.00" r="1.35" fill="#000"/>
<circle cx="179.60" cy="281.35" r="1.35" fill="#000"/>
<circle cx="179.60" cy="439.50" r="1.35" fill="#000"/>
<circle cx="179.60" cy="509.50" r="1.35" fill="#000"/>
<circle cx="180.10" cy="281.87" r="1.35" fill="#000"/>
<circle cx="180.10" cy="440.75" r="1.35" fill="#000"/>
<circle cx="180.10" cy="510.75" r="1.35" fill="#000"/>
<circle cx="181.20" cy="277.64" r="1.35" fill="#000"/>
<circle cx="181.20" cy="431.75" r="1.35" fill="#000"/>
<circle cx="181.20" cy="501.75" r="1.35" fill="#000"/>
<circle cx="182.20" cy="275.61" r="1.35" fill="#000"/>
<circle cx="182.20" cy="427.50" r="1.35" fill="#000"/>
<circle cx="182.20" cy="497.50" r="1.35" fill="#000"/>
<circle cx="182.40" cy="278.24" r="1.35" fill="#000"/>
<circle cx="182.40" cy="433.25" r="1.35" fill="#000"/>
<circle cx="182.40" cy="503.25" r="1.35" fill="#000"/>
<circle cx="184.10" cy="285.27" r="1.35" fill="#000"/>
<circle cx="184.10" cy="448.75" r="1.35" fill="#000"/>
<circle cx="184.10" cy="518.75" r="1.35" fill="#000"/>
<circle cx="185.20" cy="282.36" r="1.35" fill="#000"/>
<circle cx="185.20" cy="442.50" r="1.35" fill="#000"/>
<circle cx="185.20" cy="512.50" r="1.35" fill="#000"/>
<circle cx="186.20" cy="277.96" r="1.35" fill="#000"/>
<circle cx="186.20" cy="433.00" r="1.35" fill="#000"/>
<circle cx="186.20" cy="503.00" r="1.35" fill="#000"/>
<circle cx="187.70" cy="280.96" r="1.35" fill="#000"/>
<circle cx="187.70" cy="439.50" r="1.35" fill="#000"/>
<circle cx="187.70" cy="509.50" r="1.35" fill="#000"/>
<circle cx="188.50" cy="279.73" r="1.35" fill="#000"/>
<circle cx="188.50" cy="436.75" r="1.35" fill="#000"/>
<circle cx="188.50" cy="506.75" r="1.35" fill="#000"/>
<circle cx="189.60" cy="278.88" r="1.35" fill="#000"/>
<circle cx="189.60" cy="434.75" r="1.35" fill="#000"/>
<circle cx="189.60" cy="504.75" r="1.35" fill="#000"/>
<circle cx="190.60" cy="278.17" r="1.35" fill="#000"/>
<circle cx="190.60" cy="433.00" r="1.35" fill="#000"/>
<circle cx="190.60" cy="503.00" r="1.35" fill="#000"/>
<circle cx="191.50" cy="281.03" r="1.35" fill="#000"/>
<circle cx="191.50" cy="439.00" r="1.35" fill="#000"/>
<circle cx="191.50" cy="509.00" r="1.35" fill="#000"/>
<circle cx="192.70" cy="281.77" r="1.35" fill="#000"/>
<circle cx="192.70" cy="440.25" r="1.35" fill="#000"/>
<circle cx="192.70" cy="510.25" r="1.35" fill="#000"/>
<circle cx="193.60" cy="280.07" r="1.35" fill="#000"/>
<circle cx="193.60" cy="436.25" r="1.35" fill="#000"/>
<circle cx="193.60" cy="506.25" r="1.35" fill="#000"/>
<circle cx="194.80" cy="278.89" r="1.35" fill="#000"/>
<circle cx="194.80" cy="433.25" r="1.35" fill="#000"/>
<circle cx="194.80" cy="503.25" r="1.35" fill="#000"/>
<circle cx="196.40" cy="284.94" r="1.35" fill="#000"/>
<circle cx="196.40" cy="445.75" r="1.35" fill="#000"/>
<circle cx="196.40" cy="515.75" r="1.35" fill="#000"/>
<circle cx="197.50" cy="282.51" r="1.35" fill="#000"/>
<circle cx="197.50" cy="440.00" r="1.35" fill="#000"/>
<circle cx="197.50" cy="510.00" r="1.35" fill="#000"/>
<circle cx="198.50" cy="278.56" r="1.35" fill="#000"/>
<circle cx="198.50" cy="431.00" r="1.35" fill="#000"/>
<circle cx="198.50" cy="501.00" r="1.35" fill="#000"/>
<circle cx="199.60" cy="281.08" r="1.35" fill="#000"/>
<circle cx="199.60" cy="436.00" r="1.35" fill="#000"/>
<circle cx="199.60" cy="506.00" r="1.35" fill="#000"/>
<circle cx="200.30" cy="282.14" r="1.35" fill="#000"/>
<circle cx="200.30" cy="438.00" r="1.35" fill="#000"/>
<circle cx="200.30" cy="508.00" r="1.35" fill="#000"/>
<circle cx="201.40" cy="278.59" r="1.35" fill="#000"/>
<circle cx="201.40" cy="429.75" r="1.35" fill="#000"/>
<circle cx="201.40" cy="499.75" r="1.35" fill="#000"/>
<circle cx="202.40" cy="281.25" r="1.35" fill="#000"/>
<circle cx="202.40" cy="435.00" r="1.35" fill="#000"/>
<circle cx="202.40" cy="505.00" r="1.35" fill="#000"/>
<circle cx="203.50" cy="281.09" r="1.35" fill="#000"/>
<circle cx="203.50" cy="434.00" r="1.35" fill="#000"/>
<circle cx="203.50" cy="504.00" r="1.35" fill="#000"/>
<circle cx="204.80" cy="281.82" r="1.35" fill="#000"/>
<circle cx="204.80" cy="434.75" r="1.35" fill="#000"/>
<circle cx="204.80" cy="504.75" r="1.35" fill="#000"/>
<circle cx="205.60" cy="283.45" r="1.35" fill="#000"/>
<circle cx="205.60" cy="437.75" r="1.35" fill="#000"/>
<circle cx="205.60" cy="507.75" r="1.35" fill="#000"/>
<circle cx="206.40" cy="283.72" r="1.35" fill="#000"/>
<circle cx="206.40" cy="437.75" r="1.35" fill="#000"/>
<circle cx="206.40" cy="507.75" r="1.35" fill="#000"/>
<circle cx="208.00" cy="285.90" r="1.35" fill="#000"/>
<circle cx="208.00" cy="441.25" r="1.35" fill="#000"/>
<circle cx="208.00" cy="511.25" r="1.35" fill="#000"/>
<circle cx="209.10" cy="288.84" r="1.35" fill="#000"/>
<circle cx="209.10" cy="446.75" r="1.35" fill="#000"/>
<circle cx="209.10" cy="516.75" r="1.35" fill="#000"/>
<circle cx="210.60" cy="286.34" r="1.35" fill="#000"/>
<circle cx="210.60" cy="440.00" r="1.35" fill="#000"/>
<circle cx="210.60" cy="510.00" r="1.35" fill="#000"/>
<circle cx="211.70" cy="280.81" r="1.35" fill="#000"/>
<circle cx="211.70" cy="427.00" r="1.35" fill="#000"/>
<circle cx="211.70" cy="497.00" r="1.35" fill="#000"/>
<circle cx="212.70" cy="286.88" r="1.35" fill="#000"/>
<circle cx="212.70" cy="439.25" r="1.35" fill="#000"/>
<circle cx="212.70" cy="509.25" r="1.35" fill="#000"/>
<circle cx="214.30" cy="286.78" r="1.35" fill="#000"/>
<circle cx="214.30" cy="437.50" r="1.35" fill="#000"/>
<circle cx="214.30" cy="507.50" r="1.35" fill="#000"/>
<circle cx="215.70" cy="285.58" r="1.35" fill="#000"/>
<circle cx="215.70" cy="433.50" r="1.35" fill="#000"/>
<circle cx="215.70" cy="503.50" r="1.35" fill="#000"/>
<circle cx="217.20" cy="288.93" r="1.35" fill="#000"/>
<circle cx="217.20" cy="439.25" r="1.35" fill="#000"/>
<circle cx="217.20" cy="509.25" r="1.35" fill="#000"/>
<circle cx="218.80" cy="284.59" r="1.35" fill="#000"/>
<circle cx="218.80" cy="428.00" r="1.35" fill="#000"/>
<circle cx="218.80" cy="498.00" r="1.35" fill="#000"/>
<circle cx="220.10" cy="288.11" r="1.35" fill="#000"/>
<circle cx="220.10" cy="434.00" r="1.35" fill="#000"/>
<circle cx="220.10" cy="504.00" r="1.35" fill="#000"/>
<circle cx="222.00" cy="290.24" r="1.35" fill="#000"/>
<circle cx="222.00" cy="436.00" r="1.35" fill="#000"/>
<circle cx="222.00" cy="506.00" r="1.35" fill="#000"/>
<circle cx="223.80" cy="288.96" r="1.35" fill="#000"/>
<circle cx="223.80" cy="430.50" r="1.35" fill="#000"/>
<circle cx="223.80" cy="500.50" r="1.35" fill="#000"/>
<circle cx="226.20" cy="295.07" r="1.35" fill="#000"/>
<circle cx="226.20" cy="440.00" r="1.35" fill="#000"/>
<circle cx="226.20" cy="510.00" r="1.35" fill="#000"/>
<circle cx="228.70" cy="294.17" r="1.35" fill="#000"/>
<circle cx="228.70" cy="434.00" r="1.35" fill="#000"/>
<circle cx="228.70" cy="504.00" r="1.35" fill="#000"/>
<circle cx="231.50" cy="296.68" r="1.35" fill="#000"/>
<circle cx="231.50" cy="435.00" r="1.35" fill="#000"/>
<circle cx="231.50" cy="505.00" r="1.35" fill="#000"/>
<circle cx="234.30" cy="298.57" r="1.35" fill="#000"/>
<circle cx="234.30" cy="435.00" r="1.35" fill="#000"/>
<circle cx="234.30" cy="505.00" r="1.35" fill="#000"/>
<circle cx="237.80" cy="304.45" r="1.35" fill="#000"/>
<circle cx="237.80" cy="443.00" r="1.35" fill="#000"/>
<circle cx="237.80" cy="513.00" r="1.35" fill="#000"/>
<circle cx="242.40" cy="304.80" r="1.35" fill="#000"/>
<circle cx="242.40" cy="437.75" r="1.35" fill="#000"/>
<circle cx="242.40" cy="507.75" r="1.35" fill="#000"/>
<circle cx="256.40" cy="313.71" r="1.35" fill="#000"/>
<circle cx="256.40" cy="437.00" r="1.35" fill="#000"/>
<circle cx="256.40" cy="507.00" r="1.35" fill="#000"/>
<circle cx="237.60" cy="300.80" r="1.35" fill="#f00"/>
<circle cx="237.60" cy="438.50" r="1.35" fill="#f00"/>
<circle cx="237.60" cy="507.50" r="1.35" fill="#f00"/>
<circle cx="239.30" cy="302.50" r="1.35" fill="#f00"/>
<circle cx="239.30" cy="438.75" r="1.35" fill="#f00"/>
<circle cx="239.30" cy="507.50" r="1.35" fill="#f00"/>
<circle cx="240.60" cy="307.10" r="1.35" fill="#f00"/>
<circle cx="240.60" cy="443.75" r="1.35" fill="#f00"/>
<circle cx="240.60" cy="511.25" r="1.35" fill="#f00"/>
<circle cx="242.10" cy="296.80" r="1.35" fill="#f00"/>
<circle cx="242.10" cy="431.75" r="1.35" fill="#f00"/>
<circle cx="242.10" cy="501.50" r="1.35" fill="#f00"/>
<circle cx="243.40" cy="295.30" r="1.35" fill="#f00"/>
<circle cx="243.40" cy="427.25" r="1.35" fill="#f00"/>
<circle cx="243.40" cy="495.75" r="1.35" fill="#f00"/>
<circle cx="245.70" cy="303.90" r="1.35" fill="#f00"/>
<circle cx="245.70" cy="436.00" r="1.35" fill="#f00"/>
<circle cx="245.70" cy="504.00" r="1.35" fill="#f00"/>
<circle cx="247.50" cy="306.30" r="1.35" fill="#f00"/>
<circle cx="247.50" cy="437.50" r="1.35" fill="#f00"/>
<circle cx="247.50" cy="503.50" r="1.35" fill="#f00"/>
<circle cx="248.70" cy="311.80" r="1.35" fill="#f00"/>
<circle cx="248.70" cy="442.00" r="1.35" fill="#f00"/>
<circle cx="248.70" cy="506.00" r="1.35" fill="#f00"/>
<circle cx="250.80" cy="301.60" r="1.35" fill="#f00"/>
<circle cx="250.80" cy="429.25" r="1.35" fill="#f00"/>
<circle cx="250.80" cy="497.00" r="1.35" fill="#f00"/>
<circle cx="252.80" cy="308.70" r="1.35" fill="#f00"/>
<circle cx="252.80" cy="434.75" r="1.35" fill="#f00"/>
<circle cx="252.80" cy="501.50" r="1.35" fill="#f00"/>
<circle cx="254.80" cy="314.20" r="1.35" fill="#f00"/>
<circle cx="254.80" cy="439.25" r="1.35" fill="#f00"/>
<circle cx="254.80" cy="506.00" r="1.35" fill="#f00"/>
<circle cx="257.10" cy="318.20" r="1.35" fill="#f00"/>
<circle cx="257.10" cy="442.50" r="1.35" fill="#f00"/>
<circle cx="257.10" cy="507.50" r="1.35" fill="#f00"/>
<circle cx="259.90" cy="307.40" r="1.35" fill="#f00"/>
<circle cx="259.90" cy="428.00" r="1.35" fill="#f00"/>
<circle cx="259.90" cy="494.50" r="1.35" fill="#f00"/>
<circle cx="262.20" cy="312.60" r="1.35" fill="#f00"/>
<circle cx="262.20" cy="431.00" r="1.35" fill="#f00"/>
<circle cx="262.20" cy="497.00" r="1.35" fill="#f00"/>
<circle cx="265.00" cy="318.50" r="1.35" fill="#f00"/>
<circle cx="265.00" cy="434.75" r="1.35" fill="#f00"/>
<circle cx="265.00" cy="500.50" r="1.35" fill="#f00"/>
<circle cx="270.60" cy="328.00" r="1.35" fill="#f00"/>
<circle cx="270.60" cy="440.00" r="1.35" fill="#f00"/>
<circle cx="270.60" cy="501.00" r="1.35" fill="#f00"/>
<circle cx="276.60" cy="327.30" r="1.35" fill="#f00"/>
<circle cx="276.60" cy="433.00" r="1.35" fill="#f00"/>
<circle cx="276.60" cy="496.00" r="1.35" fill="#f00"/>
<circle cx="286.80" cy="341.80" r="1.35" fill="#f00"/>
<circle cx="286.80" cy="439.75" r="1.35" fill="#f00"/>
<circle cx="286.80" cy="494.50" r="1.35" fill="#f00"/>
<circle cx="304.60" cy="348.20" r="1.35" fill="#f00"/>
<circle cx="304.60" cy="435.50" r="1.35" fill="#f00"/>
<circle cx="304.60" cy="485.00" r="1.35" fill="#f00"/>
<circle cx="328.40" cy="347.20" r="1.35" fill="#f00"/>
<circle cx="328.40" cy="435.00" r="1.35" fill="#f00"/>
<circle cx="328.40" cy="481.50" r="1.35" fill="#f00"/>
<line x1="65.70" y1="262.00" x2="65.70" y2="265.50" stroke="#8a8a8a" stroke-width="1.0"/>
<line x1="65.70" y1="401.50" x2="65.70" y2="398.00" stroke="#8a8a8a" stroke-width="1.0"/>
<line x1="65.70" y1="401.50" x2="65.70" y2="405.00" stroke="#8a8a8a" stroke-width="1.0"/>
<line x1="65.70" y1="471.60" x2="65.70" y2="468.10" stroke="#8a8a8a" stroke-width="1.0"/>
<line x1="65.70" y1="471.60" x2="65.70" y2="475.10" stroke="#8a8a8a" stroke-width="1.0"/>
<line x1="65.70" y1="541.40" x2="65.70" y2="537.90" stroke="#8a8a8a" stroke-width="1.0"/>
<line x1="115.59" y1="262.00" x2="115.59" y2="264.20" stroke="#8a8a8a" stroke-width="1.0"/>
<line x1="115.59" y1="401.50" x2="115.59" y2="399.30" stroke="#8a8a8a" stroke-width="1.0"/>
<line x1="115.59" y1="401.50" x2="115.59" y2="403.70" stroke="#8a8a8a" stroke-width="1.0"/>
<line x1="115.59" y1="471.60" x2="115.59" y2="469.40" stroke="#8a8a8a" stroke-width="1.0"/>
<line x1="115.59" y1="471.60" x2="115.59" y2="473.80" stroke="#8a8a8a" stroke-width="1.0"/>
<line x1="115.59" y1="541.40" x2="115.59" y2="539.20" stroke="#8a8a8a" stroke-width="1.0"/>
<line x1="150.98" y1="262.00" x2="150.98" y2="264.20" stroke="#8a8a8a" stroke-width="1.0"/>
<line x1="150.98" y1="401.50" x2="150.98" y2="399.30" stroke="#8a8a8a" stroke-width="1.0"/>
<line x1="150.98" y1="401.50" x2="150.98" y2="403.70" stroke="#8a8a8a" stroke-width="1.0"/>
<line x1="150.98" y1="471.60" x2="150.98" y2="469.40" stroke="#8a8a8a" stroke-width="1.0"/>
<line x1="150.98" y1="471.60" x2="150.98" y2="473.80" stroke="#8a8a8a" stroke-width="1.0"/>
<line x1="150.98" y1="541.40" x2="150.98" y2="539.20" stroke="#8a8a8a" stroke-width="1.0"/>
<line x1="178.44" y1="262.00" x2="178.44" y2="265.50" stroke="#8a8a8a" stroke-width="1.0"/>
<line x1="178.44" y1="401.50" x2="178.44" y2="398.00" stroke="#8a8a8a" stroke-width="1.0"/>
<line x1="178.44" y1="401.50" x2="178.44" y2="405.00" stroke="#8a8a8a" stroke-width="1.0"/>
<line x1="178.44" y1="471.60" x2="178.44" y2="468.10" stroke="#8a8a8a" stroke-width="1.0"/>
<line x1="178.44" y1="471.60" x2="178.44" y2="475.10" stroke="#8a8a8a" stroke-width="1.0"/>
<line x1="178.44" y1="541.40" x2="178.44" y2="537.90" stroke="#8a8a8a" stroke-width="1.0"/>
<line x1="200.87" y1="262.00" x2="200.87" y2="264.20" stroke="#8a8a8a" stroke-width="1.0"/>
<line x1="200.87" y1="401.50" x2="200.87" y2="399.30" stroke="#8a8a8a" stroke-width="1.0"/>
<line x1="200.87" y1="401.50" x2="200.87" y2="403.70" stroke="#8a8a8a" stroke-width="1.0"/>
<line x1="200.87" y1="471.60" x2="200.87" y2="469.40" stroke="#8a8a8a" stroke-width="1.0"/>
<line x1="200.87" y1="471.60" x2="200.87" y2="473.80" stroke="#8a8a8a" stroke-width="1.0"/>
<line x1="200.87" y1="541.40" x2="200.87" y2="539.20" stroke="#8a8a8a" stroke-width="1.0"/>
<line x1="219.83" y1="262.00" x2="219.83" y2="264.20" stroke="#8a8a8a" stroke-width="1.0"/>
<line x1="219.83" y1="401.50" x2="219.83" y2="399.30" stroke="#8a8a8a" stroke-width="1.0"/>
<line x1="219.83" y1="401.50" x2="219.83" y2="403.70" stroke="#8a8a8a" stroke-width="1.0"/>
<line x1="219.83" y1="471.60" x2="219.83" y2="469.40" stroke="#8a8a8a" stroke-width="1.0"/>
<line x1="219.83" y1="471.60" x2="219.83" y2="473.80" stroke="#8a8a8a" stroke-width="1.0"/>
<line x1="219.83" y1="541.40" x2="219.83" y2="539.20" stroke="#8a8a8a" stroke-width="1.0"/>
<line x1="236.26" y1="262.00" x2="236.26" y2="264.20" stroke="#8a8a8a" stroke-width="1.0"/>
<line x1="236.26" y1="401.50" x2="236.26" y2="399.30" stroke="#8a8a8a" stroke-width="1.0"/>
<line x1="236.26" y1="401.50" x2="236.26" y2="403.70" stroke="#8a8a8a" stroke-width="1.0"/>
<line x1="236.26" y1="471.60" x2="236.26" y2="469.40" stroke="#8a8a8a" stroke-width="1.0"/>
<line x1="236.26" y1="471.60" x2="236.26" y2="473.80" stroke="#8a8a8a" stroke-width="1.0"/>
<line x1="236.26" y1="541.40" x2="236.26" y2="539.20" stroke="#8a8a8a" stroke-width="1.0"/>
<line x1="250.76" y1="262.00" x2="250.76" y2="264.20" stroke="#8a8a8a" stroke-width="1.0"/>
<line x1="250.76" y1="401.50" x2="250.76" y2="399.30" stroke="#8a8a8a" stroke-width="1.0"/>
<line x1="250.76" y1="401.50" x2="250.76" y2="403.70" stroke="#8a8a8a" stroke-width="1.0"/>
<line x1="250.76" y1="471.60" x2="250.76" y2="469.40" stroke="#8a8a8a" stroke-width="1.0"/>
<line x1="250.76" y1="471.60" x2="250.76" y2="473.80" stroke="#8a8a8a" stroke-width="1.0"/>
<line x1="250.76" y1="541.40" x2="250.76" y2="539.20" stroke="#8a8a8a" stroke-width="1.0"/>
<line x1="263.72" y1="262.00" x2="263.72" y2="265.50" stroke="#8a8a8a" stroke-width="1.0"/>
<line x1="263.72" y1="401.50" x2="263.72" y2="398.00" stroke="#8a8a8a" stroke-width="1.0"/>
<line x1="263.72" y1="401.50" x2="263.72" y2="405.00" stroke="#8a8a8a" stroke-width="1.0"/>
<line x1="263.72" y1="471.60" x2="263.72" y2="468.10" stroke="#8a8a8a" stroke-width="1.0"/>
<line x1="263.72" y1="471.60" x2="263.72" y2="475.10" stroke="#8a8a8a" stroke-width="1.0"/>
<line x1="263.72" y1="541.40" x2="263.72" y2="537.90" stroke="#8a8a8a" stroke-width="1.0"/>
<line x1="349.00" y1="262.00" x2="349.00" y2="265.50" stroke="#8a8a8a" stroke-width="1.0"/>
<line x1="349.00" y1="401.50" x2="349.00" y2="398.00" stroke="#8a8a8a" stroke-width="1.0"/>
<line x1="349.00" y1="401.50" x2="349.00" y2="405.00" stroke="#8a8a8a" stroke-width="1.0"/>
<line x1="349.00" y1="471.60" x2="349.00" y2="468.10" stroke="#8a8a8a" stroke-width="1.0"/>
<line x1="349.00" y1="471.60" x2="349.00" y2="475.10" stroke="#8a8a8a" stroke-width="1.0"/>
<line x1="349.00" y1="541.40" x2="349.00" y2="537.90" stroke="#8a8a8a" stroke-width="1.0"/>
<line x1="65.70" y1="389.23" x2="68.30" y2="389.23" stroke="#8a8a8a" stroke-width="1.0"/>
<line x1="348.00" y1="389.23" x2="345.40" y2="389.23" stroke="#8a8a8a" stroke-width="1.0"/>
<line x1="65.70" y1="380.31" x2="68.30" y2="380.31" stroke="#8a8a8a" stroke-width="1.0"/>
<line x1="348.00" y1="380.31" x2="345.40" y2="380.31" stroke="#8a8a8a" stroke-width="1.0"/>
<line x1="65.70" y1="373.39" x2="68.30" y2="373.39" stroke="#8a8a8a" stroke-width="1.0"/>
<line x1="348.00" y1="373.39" x2="345.40" y2="373.39" stroke="#8a8a8a" stroke-width="1.0"/>
<line x1="65.70" y1="367.74" x2="68.30" y2="367.74" stroke="#8a8a8a" stroke-width="1.0"/>
<line x1="348.00" y1="367.74" x2="345.40" y2="367.74" stroke="#8a8a8a" stroke-width="1.0"/>
<line x1="65.70" y1="362.96" x2="68.30" y2="362.96" stroke="#8a8a8a" stroke-width="1.0"/>
<line x1="348.00" y1="362.96" x2="345.40" y2="362.96" stroke="#8a8a8a" stroke-width="1.0"/>
<line x1="65.70" y1="358.82" x2="68.30" y2="358.82" stroke="#8a8a8a" stroke-width="1.0"/>
<line x1="348.00" y1="358.82" x2="345.40" y2="358.82" stroke="#8a8a8a" stroke-width="1.0"/>
<line x1="65.70" y1="355.17" x2="68.30" y2="355.17" stroke="#8a8a8a" stroke-width="1.0"/>
<line x1="348.00" y1="355.17" x2="345.40" y2="355.17" stroke="#8a8a8a" stroke-width="1.0"/>
<line x1="65.70" y1="351.90" x2="70.70" y2="351.90" stroke="#8a8a8a" stroke-width="1.0"/>
<line x1="348.00" y1="351.90" x2="343.00" y2="351.90" stroke="#8a8a8a" stroke-width="1.0"/>
<line x1="65.70" y1="330.41" x2="68.30" y2="330.41" stroke="#8a8a8a" stroke-width="1.0"/>
<line x1="348.00" y1="330.41" x2="345.40" y2="330.41" stroke="#8a8a8a" stroke-width="1.0"/>
<line x1="65.70" y1="317.83" x2="68.30" y2="317.83" stroke="#8a8a8a" stroke-width="1.0"/>
<line x1="348.00" y1="317.83" x2="345.40" y2="317.83" stroke="#8a8a8a" stroke-width="1.0"/>
<line x1="65.70" y1="308.91" x2="68.30" y2="308.91" stroke="#8a8a8a" stroke-width="1.0"/>
<line x1="348.00" y1="308.91" x2="345.40" y2="308.91" stroke="#8a8a8a" stroke-width="1.0"/>
<line x1="65.70" y1="301.99" x2="68.30" y2="301.99" stroke="#8a8a8a" stroke-width="1.0"/>
<line x1="348.00" y1="301.99" x2="345.40" y2="301.99" stroke="#8a8a8a" stroke-width="1.0"/>
<line x1="65.70" y1="296.34" x2="68.30" y2="296.34" stroke="#8a8a8a" stroke-width="1.0"/>
<line x1="348.00" y1="296.34" x2="345.40" y2="296.34" stroke="#8a8a8a" stroke-width="1.0"/>
<line x1="65.70" y1="291.56" x2="68.30" y2="291.56" stroke="#8a8a8a" stroke-width="1.0"/>
<line x1="348.00" y1="291.56" x2="345.40" y2="291.56" stroke="#8a8a8a" stroke-width="1.0"/>
<line x1="65.70" y1="287.42" x2="68.30" y2="287.42" stroke="#8a8a8a" stroke-width="1.0"/>
<line x1="348.00" y1="287.42" x2="345.40" y2="287.42" stroke="#8a8a8a" stroke-width="1.0"/>
<line x1="65.70" y1="283.77" x2="68.30" y2="283.77" stroke="#8a8a8a" stroke-width="1.0"/>
<line x1="348.00" y1="283.77" x2="345.40" y2="283.77" stroke="#8a8a8a" stroke-width="1.0"/>
<line x1="65.70" y1="280.50" x2="70.70" y2="280.50" stroke="#8a8a8a" stroke-width="1.0"/>
<line x1="348.00" y1="280.50" x2="343.00" y2="280.50" stroke="#8a8a8a" stroke-width="1.0"/>
<line x1="65.70" y1="467.00" x2="68.30" y2="467.00" stroke="#8a8a8a" stroke-width="1.0"/>
<line x1="348.00" y1="467.00" x2="345.40" y2="467.00" stroke="#8a8a8a" stroke-width="1.0"/>
<line x1="65.70" y1="462.00" x2="70.70" y2="462.00" stroke="#8a8a8a" stroke-width="1.0"/>
<line x1="348.00" y1="462.00" x2="343.00" y2="462.00" stroke="#8a8a8a" stroke-width="1.0"/>
<line x1="65.70" y1="457.00" x2="68.30" y2="457.00" stroke="#8a8a8a" stroke-width="1.0"/>
<line x1="348.00" y1="457.00" x2="345.40" y2="457.00" stroke="#8a8a8a" stroke-width="1.0"/>
<line x1="65.70" y1="452.00" x2="68.30" y2="452.00" stroke="#8a8a8a" stroke-width="1.0"/>
<line x1="348.00" y1="452.00" x2="345.40" y2="452.00" stroke="#8a8a8a" stroke-width="1.0"/>
<line x1="65.70" y1="447.00" x2="68.30" y2="447.00" stroke="#8a8a8a" stroke-width="1.0"/>
<line x1="348.00" y1="447.00" x2="345.40" y2="447.00" stroke="#8a8a8a" stroke-width="1.0"/>
<line x1="65.70" y1="442.00" x2="68.30" y2="442.00" stroke="#8a8a8a" stroke-width="1.0"/>
<line x1="348.00" y1="442.00" x2="345.40" y2="442.00" stroke="#8a8a8a" stroke-width="1.0"/>
<line x1="65.70" y1="437.00" x2="70.70" y2="437.00" stroke="#8a8a8a" stroke-width="1.0"/>
<line x1="348.00" y1="437.00" x2="343.00" y2="437.00" stroke="#8a8a8a" stroke-width="1.0"/>
<line x1="65.70" y1="432.00" x2="68.30" y2="432.00" stroke="#8a8a8a" stroke-width="1.0"/>
<line x1="348.00" y1="432.00" x2="345.40" y2="432.00" stroke="#8a8a8a" stroke-width="1.0"/>
<line x1="65.70" y1="427.00" x2="68.30" y2="427.00" stroke="#8a8a8a" stroke-width="1.0"/>
<line x1="348.00" y1="427.00" x2="345.40" y2="427.00" stroke="#8a8a8a" stroke-width="1.0"/>
<line x1="65.70" y1="422.00" x2="68.30" y2="422.00" stroke="#8a8a8a" stroke-width="1.0"/>
<line x1="348.00" y1="422.00" x2="345.40" y2="422.00" stroke="#8a8a8a" stroke-width="1.0"/>
<line x1="65.70" y1="417.00" x2="68.30" y2="417.00" stroke="#8a8a8a" stroke-width="1.0"/>
<line x1="348.00" y1="417.00" x2="345.40" y2="417.00" stroke="#8a8a8a" stroke-width="1.0"/>
<line x1="65.70" y1="412.00" x2="70.70" y2="412.00" stroke="#8a8a8a" stroke-width="1.0"/>
<line x1="348.00" y1="412.00" x2="343.00" y2="412.00" stroke="#8a8a8a" stroke-width="1.0"/>
<line x1="65.70" y1="407.00" x2="68.30" y2="407.00" stroke="#8a8a8a" stroke-width="1.0"/>
<line x1="348.00" y1="407.00" x2="345.40" y2="407.00" stroke="#8a8a8a" stroke-width="1.0"/>
<line x1="65.70" y1="537.00" x2="68.30" y2="537.00" stroke="#8a8a8a" stroke-width="1.0"/>
<line x1="348.00" y1="537.00" x2="345.40" y2="537.00" stroke="#8a8a8a" stroke-width="1.0"/>
<line x1="65.70" y1="532.00" x2="70.70" y2="532.00" stroke="#8a8a8a" stroke-width="1.0"/>
<line x1="348.00" y1="532.00" x2="343.00" y2="532.00" stroke="#8a8a8a" stroke-width="1.0"/>
<line x1="65.70" y1="527.00" x2="68.30" y2="527.00" stroke="#8a8a8a" stroke-width="1.0"/>
<line x1="348.00" y1="527.00" x2="345.40" y2="527.00" stroke="#8a8a8a" stroke-width="1.0"/>
<line x1="65.70" y1="522.00" x2="68.30" y2="522.00" stroke="#8a8a8a" stroke-width="1.0"/>
<line x1="348.00" y1="522.00" x2="345.40" y2="522.00" stroke="#8a8a8a" stroke-width="1.0"/>
<line x1="65.70" y1="517.00" x2="68.30" y2="517.00" stroke="#8a8a8a" stroke-width="1.0"/>
<line x1="348.00" y1="517.00" x2="345.40" y2="517.00" stroke="#8a8a8a" stroke-width="1.0"/>
<line x1="65.70" y1="512.00" x2="68.30" y2="512.00" stroke="#8a8a8a" stroke-width="1.0"/>
<line x1="348.00" y1="512.00" x2="345.40" y2="512.00" stroke="#8a8a8a" stroke-width="1.0"/>
<line x1="65.70" y1="507.00" x2="70.70" y2="507.00" stroke="#8a8a8a" stroke-width="1.0"/>
<line x1="348.00" y1="507.00" x2="343.00" y2="507.00" stroke="#8a8a8a" stroke-width="1.0"/>
<line x1="65.70" y1="502.00" x2="68.30" y2="502.00" stroke="#8a8a8a" stroke-width="1.0"/>
<line x1="348.00" y1="502.00" x2="345.40" y2="502.00" stroke="#8a8a8a" stroke-width="1.0"/>
<line x1="65.70" y1="497.00" x2="68.30" y2="497.00" stroke="#8a8a8a" stroke-width="1.0"/>
<line x1="348.00" y1="497.00" x2="345.40" y2="497.00" stroke="#8a8a8a" stroke-width="1.0"/>
<line x1="65.70" y1="492.00" x2="68.30" y2="492.00" stroke="#8a8a8a" stroke-width="1.0"/>
<line x1="348.00" y1="492.00" x2="345.40" y2="492.00" stroke="#8a8a8a" stroke-width="1.0"/>
<line x1="65.70" y1="487.00" x2="68.30" y2="487.00" stroke="#8a8a8a" stroke-width="1.0"/>
<line x1="348.00" y1="487.00" x2="345.40" y2="487.00" stroke="#8a8a8a" stroke-width="1.0"/>
<line x1="65.70" y1="482.00" x2="70.70" y2="482.00" stroke="#8a8a8a" stroke-width="1.0"/>
<line x1="348.00" y1="482.00" x2="343.00" y2="482.00" stroke="#8a8a8a" stroke-width="1.0"/>
<line x1="65.70" y1="477.00" x2="68.30" y2="477.00" stroke="#8a8a8a" stroke-width="1.0"/>
<line x1="348.00" y1="477.00" x2="345.40" y2="477.00" stroke="#8a8a8a" stroke-width="1.0"/>
<rect x="65.7" y="262.0" width="282.3" height="279.4" fill="none" stroke="#8a8a8a" stroke-width="1.5"/>
<line x1="65.70" y1="401.50" x2="348.00" y2="401.50" stroke="#8a8a8a" stroke-width="1.5"/>
<line x1="65.70" y1="471.60" x2="348.00" y2="471.60" stroke="#8a8a8a" stroke-width="1.5"/>
<text x="55.80" y="284.50" font-size="11.6" text-anchor="end" fill="#000" style='font-family:"Liberation Serif", serif' >0.01</text>
<text x="55.80" y="306.00" font-size="11.6" text-anchor="end" fill="#000" style='font-family:"Liberation Serif", serif' >5×10<tspan baseline-shift="4" font-size="8">−3</tspan></text>
<text x="55.80" y="334.40" font-size="11.6" text-anchor="end" fill="#000" style='font-family:"Liberation Serif", serif' >2×10<tspan baseline-shift="4" font-size="8">−3</tspan></text>
<text x="55.80" y="356.00" font-size="11.6" text-anchor="end" fill="#000" style='font-family:"Liberation Serif", serif' >10<tspan baseline-shift="4" font-size="8">−3</tspan></text>
<text x="55.80" y="377.40" font-size="11.6" text-anchor="end" fill="#000" style='font-family:"Liberation Serif", serif' >5×10<tspan baseline-shift="4" font-size="8">−4</tspan></text>
<text x="57.40" y="416.20" font-size="12" text-anchor="end" fill="#000" style='font-family:"Liberation Serif", serif' >5</text>
<text x="57.40" y="441.20" font-size="12" text-anchor="end" fill="#000" style='font-family:"Liberation Serif", serif' >0</text>
<text x="57.40" y="466.20" font-size="12" text-anchor="end" fill="#000" style='font-family:"Liberation Serif", serif' >−5</text>
<text x="57.40" y="486.20" font-size="12" text-anchor="end" fill="#000" style='font-family:"Liberation Serif", serif' >5</text>
<text x="57.40" y="511.20" font-size="12" text-anchor="end" fill="#000" style='font-family:"Liberation Serif", serif' >0</text>
<text x="57.40" y="536.20" font-size="12" text-anchor="end" fill="#000" style='font-family:"Liberation Serif", serif' >−5</text>
<text x="65.20" y="555.10" font-size="11.8" text-anchor="middle" fill="#000" style='font-family:"Liberation Serif", serif' >2</text>
<text x="177.94" y="555.10" font-size="11.8" text-anchor="middle" fill="#000" style='font-family:"Liberation Serif", serif' >5</text>
<text x="263.22" y="555.10" font-size="11.8" text-anchor="middle" fill="#000" style='font-family:"Liberation Serif", serif' >10</text>
<text x="348.50" y="555.10" font-size="11.8" text-anchor="middle" fill="#000" style='font-family:"Liberation Serif", serif' >20</text>
<text x="202.40" y="567.50" font-size="11.8" text-anchor="middle" fill="#000" style='font-family:"Liberation Serif", serif' >Energy (keV)</text>
<text x="0.00" y="0.00" font-size="11.6" text-anchor="middle" fill="#000" style='font-family:"Liberation Serif", serif' transform="translate(10.60 342.00) rotate(-90)" >keV<tspan baseline-shift="4" font-size="7.2">2</tspan> (Photons cm<tspan baseline-shift="4" font-size="7.2">−2</tspan> s<tspan baseline-shift="4" font-size="7.2">−1</tspan> keV<tspan baseline-shift="4" font-size="7.2">−1</tspan>)</text>
<text x="0.00" y="0.00" font-size="13.2" text-anchor="middle" fill="#000" style='font-family:"Liberation Serif", serif' transform="translate(12.20 487.00) rotate(-90)" >(data-model)/error</text>
<path d="M417.62,283.40L424.38,283.40L424.38,286.80L431.12,286.80L431.12,280.50L437.88,280.50L437.88,284.50L444.62,284.50L444.62,305.50L451.38,305.50L451.38,284.50L458.12,284.50L458.12,303.00L464.88,303.00L464.88,311.00L471.62,311.00L471.62,301.70L478.38,301.70L478.38,305.50L485.12,305.50L485.12,308.40L491.88,308.40L491.88,309.30L498.62,309.30L498.62,293.90L505.38,293.90L505.38,305.50L512.12,305.50L512.12,300.50L518.88,300.50L518.88,297.70L525.62,297.70L525.62,297.70L532.38,297.70L532.38,299.20L539.12,299.20L539.12,268.70L545.88,268.70L545.88,274.40L552.62,274.40L552.62,283.40L559.38,283.40L559.38,286.80L566.12,286.80L566.12,280.50L572.88,280.50L572.88,284.50L579.62,284.50L579.62,305.50L586.38,305.50L586.38,284.50L593.12,284.50L593.12,303.00L599.88,303.00L599.88,311.00L606.62,311.00L606.62,301.70L613.38,301.70L613.38,305.50L620.12,305.50L620.12,308.40L626.88,308.40L626.88,309.30L633.62,309.30L633.62,293.90L640.38,293.90L640.38,305.50L647.12,305.50L647.12,300.50L653.88,300.50L653.88,297.70L660.62,297.70L660.62,297.70L667.38,297.70L667.38,299.20L674.12,299.20L674.12,268.70L680.88,268.70L680.88,274.40L687.62,274.40" fill="none" stroke="#f00" stroke-width="1.1" />
<line x1="421.00" y1="275.80" x2="421.00" y2="291.00" stroke="#f00" stroke-width="1.1"/>
<line x1="427.75" y1="279.20" x2="427.75" y2="294.40" stroke="#f00" stroke-width="1.1"/>
<line x1="434.50" y1="272.90" x2="434.50" y2="288.10" stroke="#f00" stroke-width="1.1"/>
<line x1="441.25" y1="276.90" x2="441.25" y2="292.10" stroke="#f00" stroke-width="1.1"/>
<line x1="448.00" y1="297.90" x2="448.00" y2="313.10" stroke="#f00" stroke-width="1.1"/>
<line x1="454.75" y1="276.90" x2="454.75" y2="292.10" stroke="#f00" stroke-width="1.1"/>
<line x1="461.50" y1="295.40" x2="461.50" y2="310.60" stroke="#f00" stroke-width="1.1"/>
<line x1="468.25" y1="303.40" x2="468.25" y2="318.60" stroke="#f00" stroke-width="1.1"/>
<line x1="475.00" y1="294.10" x2="475.00" y2="309.30" stroke="#f00" stroke-width="1.1"/>
<line x1="481.75" y1="297.90" x2="481.75" y2="313.10" stroke="#f00" stroke-width="1.1"/>
<line x1="488.50" y1="300.80" x2="488.50" y2="316.00" stroke="#f00" stroke-width="1.1"/>
<line x1="495.25" y1="301.70" x2="495.25" y2="316.90" stroke="#f00" stroke-width="1.1"/>
<line x1="502.00" y1="286.30" x2="502.00" y2="301.50" stroke="#f00" stroke-width="1.1"/>
<line x1="508.75" y1="297.90" x2="508.75" y2="313.10" stroke="#f00" stroke-width="1.1"/>
<line x1="515.50" y1="292.90" x2="515.50" y2="308.10" stroke="#f00" stroke-width="1.1"/>
<line x1="522.25" y1="290.10" x2="522.25" y2="305.30" stroke="#f00" stroke-width="1.1"/>
<line x1="529.00" y1="290.10" x2="529.00" y2="305.30" stroke="#f00" stroke-width="1.1"/>
<line x1="535.75" y1="291.60" x2="535.75" y2="306.80" stroke="#f00" stroke-width="1.1"/>
<line x1="542.50" y1="261.10" x2="542.50" y2="276.30" stroke="#f00" stroke-width="1.1"/>
<line x1="549.25" y1="266.80" x2="549.25" y2="282.00" stroke="#f00" stroke-width="1.1"/>
<line x1="556.00" y1="275.80" x2="556.00" y2="291.00" stroke="#f00" stroke-width="1.1"/>
<line x1="562.75" y1="279.20" x2="562.75" y2="294.40" stroke="#f00" stroke-width="1.1"/>
<line x1="569.50" y1="272.90" x2="569.50" y2="288.10" stroke="#f00" stroke-width="1.1"/>
<line x1="576.25" y1="276.90" x2="576.25" y2="292.10" stroke="#f00" stroke-width="1.1"/>
<line x1="583.00" y1="297.90" x2="583.00" y2="313.10" stroke="#f00" stroke-width="1.1"/>
<line x1="589.75" y1="276.90" x2="589.75" y2="292.10" stroke="#f00" stroke-width="1.1"/>
<line x1="596.50" y1="295.40" x2="596.50" y2="310.60" stroke="#f00" stroke-width="1.1"/>
<line x1="603.25" y1="303.40" x2="603.25" y2="318.60" stroke="#f00" stroke-width="1.1"/>
<line x1="610.00" y1="294.10" x2="610.00" y2="309.30" stroke="#f00" stroke-width="1.1"/>
<line x1="616.75" y1="297.90" x2="616.75" y2="313.10" stroke="#f00" stroke-width="1.1"/>
<line x1="623.50" y1="300.80" x2="623.50" y2="316.00" stroke="#f00" stroke-width="1.1"/>
<line x1="630.25" y1="301.70" x2="630.25" y2="316.90" stroke="#f00" stroke-width="1.1"/>
<line x1="637.00" y1="286.30" x2="637.00" y2="301.50" stroke="#f00" stroke-width="1.1"/>
<line x1="643.75" y1="297.90" x2="643.75" y2="313.10" stroke="#f00" stroke-width="1.1"/>
<line x1="650.50" y1="292.90" x2="650.50" y2="308.10" stroke="#f00" stroke-width="1.1"/>
<line x1="657.25" y1="290.10" x2="657.25" y2="305.30" stroke="#f00" stroke-width="1.1"/>
<line x1="664.00" y1="290.10" x2="664.00" y2="305.30" stroke="#f00" stroke-width="1.1"/>
<line x1="670.75" y1="291.60" x2="670.75" y2="306.80" stroke="#f00" stroke-width="1.1"/>
<line x1="677.50" y1="261.10" x2="677.50" y2="276.30" stroke="#f00" stroke-width="1.1"/>
<line x1="684.25" y1="266.80" x2="684.25" y2="282.00" stroke="#f00" stroke-width="1.1"/>
<text x="0.00" y="0.00" font-size="13.3" text-anchor="start" fill="#f00" style='font-family:"Liberation Sans", sans-serif' transform="translate(700.90 284.70) scale(0.925 1)" >10−20 keV</text>
<path d="M417.62,309.30L424.38,309.30L424.38,326.50L431.12,326.50L431.12,340.60L437.88,340.60L437.88,336.40L444.62,336.40L444.62,338.70L451.38,338.70L451.38,343.10L458.12,343.10L458.12,344.60L464.88,344.60L464.88,350.20L471.62,350.20L471.62,346.00L478.38,346.00L478.38,349.80L485.12,349.80L485.12,346.00L491.88,346.00L491.88,340.60L498.62,340.60L498.62,335.50L505.38,335.50L505.38,329.70L512.12,329.70L512.12,328.40L518.88,328.40L518.88,331.10L525.62,331.10L525.62,318.30L532.38,318.30L532.38,316.40L539.12,316.40L539.12,308.20L545.88,308.20L545.88,297.30L552.62,297.30L552.62,309.30L559.38,309.30L559.38,326.50L566.12,326.50L566.12,340.60L572.88,340.60L572.88,336.40L579.62,336.40L579.62,338.70L586.38,338.70L586.38,343.10L593.12,343.10L593.12,344.60L599.88,344.60L599.88,350.20L606.62,350.20L606.62,346.00L613.38,346.00L613.38,349.80L620.12,349.80L620.12,346.00L626.88,346.00L626.88,340.60L633.62,340.60L633.62,335.50L640.38,335.50L640.38,329.70L647.12,329.70L647.12,328.40L653.88,328.40L653.88,331.10L660.62,331.10L660.62,318.30L667.38,318.30L667.38,316.40L674.12,316.40L674.12,308.20L680.88,308.20L680.88,297.30L687.62,297.30" fill="none" stroke="#f00" stroke-width="1.1" />
<line x1="421.00" y1="306.30" x2="421.00" y2="312.30" stroke="#f00" stroke-width="1.1"/>
<line x1="427.75" y1="323.50" x2="427.75" y2="329.50" stroke="#f00" stroke-width="1.1"/>
<line x1="434.50" y1="337.60" x2="434.50" y2="343.60" stroke="#f00" stroke-width="1.1"/>
<line x1="441.25" y1="333.40" x2="441.25" y2="339.40" stroke="#f00" stroke-width="1.1"/>
<line x1="448.00" y1="335.70" x2="448.00" y2="341.70" stroke="#f00" stroke-width="1.1"/>
<line x1="454.75" y1="340.10" x2="454.75" y2="346.10" stroke="#f00" stroke-width="1.1"/>
<line x1="461.50" y1="341.60" x2="461.50" y2="347.60" stroke="#f00" stroke-width="1.1"/>
<line x1="468.25" y1="347.20" x2="468.25" y2="353.20" stroke="#f00" stroke-width="1.1"/>
<line x1="475.00" y1="343.00" x2="475.00" y2="349.00" stroke="#f00" stroke-width="1.1"/>
<line x1="481.75" y1="346.80" x2="481.75" y2="352.80" stroke="#f00" stroke-width="1.1"/>
<line x1="488.50" y1="343.00" x2="488.50" y2="349.00" stroke="#f00" stroke-width="1.1"/>
<line x1="495.25" y1="337.60" x2="495.25" y2="343.60" stroke="#f00" stroke-width="1.1"/>
<line x1="502.00" y1="332.50" x2="502.00" y2="338.50" stroke="#f00" stroke-width="1.1"/>
<line x1="508.75" y1="326.70" x2="508.75" y2="332.70" stroke="#f00" stroke-width="1.1"/>
<line x1="515.50" y1="325.40" x2="515.50" y2="331.40" stroke="#f00" stroke-width="1.1"/>
<line x1="522.25" y1="328.10" x2="522.25" y2="334.10" stroke="#f00" stroke-width="1.1"/>
<line x1="529.00" y1="315.30" x2="529.00" y2="321.30" stroke="#f00" stroke-width="1.1"/>
<line x1="535.75" y1="313.40" x2="535.75" y2="319.40" stroke="#f00" stroke-width="1.1"/>
<line x1="542.50" y1="305.20" x2="542.50" y2="311.20" stroke="#f00" stroke-width="1.1"/>
<line x1="549.25" y1="294.30" x2="549.25" y2="300.30" stroke="#f00" stroke-width="1.1"/>
<line x1="556.00" y1="306.30" x2="556.00" y2="312.30" stroke="#f00" stroke-width="1.1"/>
<line x1="562.75" y1="323.50" x2="562.75" y2="329.50" stroke="#f00" stroke-width="1.1"/>
<line x1="569.50" y1="337.60" x2="569.50" y2="343.60" stroke="#f00" stroke-width="1.1"/>
<line x1="576.25" y1="333.40" x2="576.25" y2="339.40" stroke="#f00" stroke-width="1.1"/>
<line x1="583.00" y1="335.70" x2="583.00" y2="341.70" stroke="#f00" stroke-width="1.1"/>
<line x1="589.75" y1="340.10" x2="589.75" y2="346.10" stroke="#f00" stroke-width="1.1"/>
<line x1="596.50" y1="341.60" x2="596.50" y2="347.60" stroke="#f00" stroke-width="1.1"/>
<line x1="603.25" y1="347.20" x2="603.25" y2="353.20" stroke="#f00" stroke-width="1.1"/>
<line x1="610.00" y1="343.00" x2="610.00" y2="349.00" stroke="#f00" stroke-width="1.1"/>
<line x1="616.75" y1="346.80" x2="616.75" y2="352.80" stroke="#f00" stroke-width="1.1"/>
<line x1="623.50" y1="343.00" x2="623.50" y2="349.00" stroke="#f00" stroke-width="1.1"/>
<line x1="630.25" y1="337.60" x2="630.25" y2="343.60" stroke="#f00" stroke-width="1.1"/>
<line x1="637.00" y1="332.50" x2="637.00" y2="338.50" stroke="#f00" stroke-width="1.1"/>
<line x1="643.75" y1="326.70" x2="643.75" y2="332.70" stroke="#f00" stroke-width="1.1"/>
<line x1="650.50" y1="325.40" x2="650.50" y2="331.40" stroke="#f00" stroke-width="1.1"/>
<line x1="657.25" y1="328.10" x2="657.25" y2="334.10" stroke="#f00" stroke-width="1.1"/>
<line x1="664.00" y1="315.30" x2="664.00" y2="321.30" stroke="#f00" stroke-width="1.1"/>
<line x1="670.75" y1="313.40" x2="670.75" y2="319.40" stroke="#f00" stroke-width="1.1"/>
<line x1="677.50" y1="305.20" x2="677.50" y2="311.20" stroke="#f00" stroke-width="1.1"/>
<line x1="684.25" y1="294.30" x2="684.25" y2="300.30" stroke="#f00" stroke-width="1.1"/>
<text x="0.00" y="0.00" font-size="13.3" text-anchor="start" fill="#f00" style='font-family:"Liberation Sans", sans-serif' transform="translate(700.90 321.95) scale(0.925 1)" >6−10 keV</text>
<path d="M417.62,352.50L424.38,352.50L424.38,368.20L431.12,368.20L431.12,375.80L437.88,375.80L437.88,380.00L444.62,380.00L444.62,383.40L451.38,383.40L451.38,376.20L458.12,376.20L458.12,378.70L464.88,378.70L464.88,385.00L471.62,385.00L471.62,384.20L478.38,384.20L478.38,385.30L485.12,385.30L485.12,383.00L491.88,383.00L491.88,380.60L498.62,380.60L498.62,373.50L505.38,373.50L505.38,365.30L512.12,365.30L512.12,366.30L518.88,366.30L518.88,364.70L525.62,364.70L525.62,346.80L532.38,346.80L532.38,351.90L539.12,351.90L539.12,332.30L545.88,332.30L545.88,343.00L552.62,343.00L552.62,352.50L559.38,352.50L559.38,368.20L566.12,368.20L566.12,375.80L572.88,375.80L572.88,380.00L579.62,380.00L579.62,383.40L586.38,383.40L586.38,376.20L593.12,376.20L593.12,378.70L599.88,378.70L599.88,385.00L606.62,385.00L606.62,384.20L613.38,384.20L613.38,385.30L620.12,385.30L620.12,383.00L626.88,383.00L626.88,380.60L633.62,380.60L633.62,373.50L640.38,373.50L640.38,365.30L647.12,365.30L647.12,366.30L653.88,366.30L653.88,364.70L660.62,364.70L660.62,346.80L667.38,346.80L667.38,351.90L674.12,351.90L674.12,332.30L680.88,332.30L680.88,343.00L687.62,343.00" fill="none" stroke="#222" stroke-width="1.1" />
<line x1="421.00" y1="350.30" x2="421.00" y2="354.70" stroke="#222" stroke-width="1.1"/>
<line x1="427.75" y1="366.00" x2="427.75" y2="370.40" stroke="#222" stroke-width="1.1"/>
<line x1="434.50" y1="373.60" x2="434.50" y2="378.00" stroke="#222" stroke-width="1.1"/>
<line x1="441.25" y1="377.80" x2="441.25" y2="382.20" stroke="#222" stroke-width="1.1"/>
<line x1="448.00" y1="381.20" x2="448.00" y2="385.60" stroke="#222" stroke-width="1.1"/>
<line x1="454.75" y1="374.00" x2="454.75" y2="378.40" stroke="#222" stroke-width="1.1"/>
<line x1="461.50" y1="376.50" x2="461.50" y2="380.90" stroke="#222" stroke-width="1.1"/>
<line x1="468.25" y1="382.80" x2="468.25" y2="387.20" stroke="#222" stroke-width="1.1"/>
<line x1="475.00" y1="382.00" x2="475.00" y2="386.40" stroke="#222" stroke-width="1.1"/>
<line x1="481.75" y1="383.10" x2="481.75" y2="387.50" stroke="#222" stroke-width="1.1"/>
<line x1="488.50" y1="380.80" x2="488.50" y2="385.20" stroke="#222" stroke-width="1.1"/>
<line x1="495.25" y1="378.40" x2="495.25" y2="382.80" stroke="#222" stroke-width="1.1"/>
<line x1="502.00" y1="371.30" x2="502.00" y2="375.70" stroke="#222" stroke-width="1.1"/>
<line x1="508.75" y1="363.10" x2="508.75" y2="367.50" stroke="#222" stroke-width="1.1"/>
<line x1="515.50" y1="364.10" x2="515.50" y2="368.50" stroke="#222" stroke-width="1.1"/>
<line x1="522.25" y1="362.50" x2="522.25" y2="366.90" stroke="#222" stroke-width="1.1"/>
<line x1="529.00" y1="344.60" x2="529.00" y2="349.00" stroke="#222" stroke-width="1.1"/>
<line x1="535.75" y1="349.70" x2="535.75" y2="354.10" stroke="#222" stroke-width="1.1"/>
<line x1="542.50" y1="330.10" x2="542.50" y2="334.50" stroke="#222" stroke-width="1.1"/>
<line x1="549.25" y1="340.80" x2="549.25" y2="345.20" stroke="#222" stroke-width="1.1"/>
<line x1="556.00" y1="350.30" x2="556.00" y2="354.70" stroke="#222" stroke-width="1.1"/>
<line x1="562.75" y1="366.00" x2="562.75" y2="370.40" stroke="#222" stroke-width="1.1"/>
<line x1="569.50" y1="373.60" x2="569.50" y2="378.00" stroke="#222" stroke-width="1.1"/>
<line x1="576.25" y1="377.80" x2="576.25" y2="382.20" stroke="#222" stroke-width="1.1"/>
<line x1="583.00" y1="381.20" x2="583.00" y2="385.60" stroke="#222" stroke-width="1.1"/>
<line x1="589.75" y1="374.00" x2="589.75" y2="378.40" stroke="#222" stroke-width="1.1"/>
<line x1="596.50" y1="376.50" x2="596.50" y2="380.90" stroke="#222" stroke-width="1.1"/>
<line x1="603.25" y1="382.80" x2="603.25" y2="387.20" stroke="#222" stroke-width="1.1"/>
<line x1="610.00" y1="382.00" x2="610.00" y2="386.40" stroke="#222" stroke-width="1.1"/>
<line x1="616.75" y1="383.10" x2="616.75" y2="387.50" stroke="#222" stroke-width="1.1"/>
<line x1="623.50" y1="380.80" x2="623.50" y2="385.20" stroke="#222" stroke-width="1.1"/>
<line x1="630.25" y1="378.40" x2="630.25" y2="382.80" stroke="#222" stroke-width="1.1"/>
<line x1="637.00" y1="371.30" x2="637.00" y2="375.70" stroke="#222" stroke-width="1.1"/>
<line x1="643.75" y1="363.10" x2="643.75" y2="367.50" stroke="#222" stroke-width="1.1"/>
<line x1="650.50" y1="364.10" x2="650.50" y2="368.50" stroke="#222" stroke-width="1.1"/>
<line x1="657.25" y1="362.50" x2="657.25" y2="366.90" stroke="#222" stroke-width="1.1"/>
<line x1="664.00" y1="344.60" x2="664.00" y2="349.00" stroke="#222" stroke-width="1.1"/>
<line x1="670.75" y1="349.70" x2="670.75" y2="354.10" stroke="#222" stroke-width="1.1"/>
<line x1="677.50" y1="330.10" x2="677.50" y2="334.50" stroke="#222" stroke-width="1.1"/>
<line x1="684.25" y1="340.80" x2="684.25" y2="345.20" stroke="#222" stroke-width="1.1"/>
<text x="0.00" y="0.00" font-size="13.3" text-anchor="start" fill="#000" style='font-family:"Liberation Sans", sans-serif' transform="translate(700.90 359.20) scale(0.925 1)" >5−10 keV</text>
<path d="M417.62,386.30L424.38,386.30L424.38,404.80L431.12,404.80L431.12,418.10L437.88,418.10L437.88,418.50L444.62,418.50L444.62,418.10L451.38,418.10L451.38,420.60L458.12,420.60L458.12,418.10L464.88,418.10L464.88,422.50L471.62,422.50L471.62,427.10L478.38,427.10L478.38,426.70L485.12,426.70L485.12,419.10L491.88,419.10L491.88,416.80L498.62,416.80L498.62,406.70L505.38,406.70L505.38,396.80L512.12,396.80L512.12,403.50L518.88,403.50L518.88,395.80L525.62,395.80L525.62,380.60L532.38,380.60L532.38,385.30L539.12,385.30L539.12,374.30L545.88,374.30L545.88,374.30L552.62,374.30L552.62,386.30L559.38,386.30L559.38,404.80L566.12,404.80L566.12,418.10L572.88,418.10L572.88,418.50L579.62,418.50L579.62,418.10L586.38,418.10L586.38,420.60L593.12,420.60L593.12,418.10L599.88,418.10L599.88,422.50L606.62,422.50L606.62,427.10L613.38,427.10L613.38,426.70L620.12,426.70L620.12,419.10L626.88,419.10L626.88,416.80L633.62,416.80L633.62,406.70L640.38,406.70L640.38,396.80L647.12,396.80L647.12,403.50L653.88,403.50L653.88,395.80L660.62,395.80L660.62,380.60L667.38,380.60L667.38,385.30L674.12,385.30L674.12,374.30L680.88,374.30L680.88,374.30L687.62,374.30" fill="none" stroke="#f00" stroke-width="1.1" />
<line x1="421.00" y1="383.70" x2="421.00" y2="388.90" stroke="#f00" stroke-width="1.1"/>
<line x1="427.75" y1="402.20" x2="427.75" y2="407.40" stroke="#f00" stroke-width="1.1"/>
<line x1="434.50" y1="415.50" x2="434.50" y2="420.70" stroke="#f00" stroke-width="1.1"/>
<line x1="441.25" y1="415.90" x2="441.25" y2="421.10" stroke="#f00" stroke-width="1.1"/>
<line x1="448.00" y1="415.50" x2="448.00" y2="420.70" stroke="#f00" stroke-width="1.1"/>
<line x1="454.75" y1="418.00" x2="454.75" y2="423.20" stroke="#f00" stroke-width="1.1"/>
<line x1="461.50" y1="415.50" x2="461.50" y2="420.70" stroke="#f00" stroke-width="1.1"/>
<line x1="468.25" y1="419.90" x2="468.25" y2="425.10" stroke="#f00" stroke-width="1.1"/>
<line x1="475.00" y1="424.50" x2="475.00" y2="429.70" stroke="#f00" stroke-width="1.1"/>
<line x1="481.75" y1="424.10" x2="481.75" y2="429.30" stroke="#f00" stroke-width="1.1"/>
<line x1="488.50" y1="416.50" x2="488.50" y2="421.70" stroke="#f00" stroke-width="1.1"/>
<line x1="495.25" y1="414.20" x2="495.25" y2="419.40" stroke="#f00" stroke-width="1.1"/>
<line x1="502.00" y1="404.10" x2="502.00" y2="409.30" stroke="#f00" stroke-width="1.1"/>
<line x1="508.75" y1="394.20" x2="508.75" y2="399.40" stroke="#f00" stroke-width="1.1"/>
<line x1="515.50" y1="400.90" x2="515.50" y2="406.10" stroke="#f00" stroke-width="1.1"/>
<line x1="522.25" y1="393.20" x2="522.25" y2="398.40" stroke="#f00" stroke-width="1.1"/>
<line x1="529.00" y1="378.00" x2="529.00" y2="383.20" stroke="#f00" stroke-width="1.1"/>
<line x1="535.75" y1="382.70" x2="535.75" y2="387.90" stroke="#f00" stroke-width="1.1"/>
<line x1="542.50" y1="371.70" x2="542.50" y2="376.90" stroke="#f00" stroke-width="1.1"/>
<line x1="549.25" y1="371.70" x2="549.25" y2="376.90" stroke="#f00" stroke-width="1.1"/>
<line x1="556.00" y1="383.70" x2="556.00" y2="388.90" stroke="#f00" stroke-width="1.1"/>
<line x1="562.75" y1="402.20" x2="562.75" y2="407.40" stroke="#f00" stroke-width="1.1"/>
<line x1="569.50" y1="415.50" x2="569.50" y2="420.70" stroke="#f00" stroke-width="1.1"/>
<line x1="576.25" y1="415.90" x2="576.25" y2="421.10" stroke="#f00" stroke-width="1.1"/>
<line x1="583.00" y1="415.50" x2="583.00" y2="420.70" stroke="#f00" stroke-width="1.1"/>
<line x1="589.75" y1="418.00" x2="589.75" y2="423.20" stroke="#f00" stroke-width="1.1"/>
<line x1="596.50" y1="415.50" x2="596.50" y2="420.70" stroke="#f00" stroke-width="1.1"/>
<line x1="603.25" y1="419.90" x2="603.25" y2="425.10" stroke="#f00" stroke-width="1.1"/>
<line x1="610.00" y1="424.50" x2="610.00" y2="429.70" stroke="#f00" stroke-width="1.1"/>
<line x1="616.75" y1="424.10" x2="616.75" y2="429.30" stroke="#f00" stroke-width="1.1"/>
<line x1="623.50" y1="416.50" x2="623.50" y2="421.70" stroke="#f00" stroke-width="1.1"/>
<line x1="630.25" y1="414.20" x2="630.25" y2="419.40" stroke="#f00" stroke-width="1.1"/>
<line x1="637.00" y1="404.10" x2="637.00" y2="409.30" stroke="#f00" stroke-width="1.1"/>
<line x1="643.75" y1="394.20" x2="643.75" y2="399.40" stroke="#f00" stroke-width="1.1"/>
<line x1="650.50" y1="400.90" x2="650.50" y2="406.10" stroke="#f00" stroke-width="1.1"/>
<line x1="657.25" y1="393.20" x2="657.25" y2="398.40" stroke="#f00" stroke-width="1.1"/>
<line x1="664.00" y1="378.00" x2="664.00" y2="383.20" stroke="#f00" stroke-width="1.1"/>
<line x1="670.75" y1="382.70" x2="670.75" y2="387.90" stroke="#f00" stroke-width="1.1"/>
<line x1="677.50" y1="371.70" x2="677.50" y2="376.90" stroke="#f00" stroke-width="1.1"/>
<line x1="684.25" y1="371.70" x2="684.25" y2="376.90" stroke="#f00" stroke-width="1.1"/>
<text x="0.00" y="0.00" font-size="13.3" text-anchor="start" fill="#f00" style='font-family:"Liberation Sans", sans-serif' transform="translate(700.90 396.45) scale(0.925 1)" >4−6 keV</text>
<path d="M417.62,424.40L424.38,424.40L424.38,440.10L431.12,440.10L431.12,449.20L437.88,449.20L437.88,455.30L444.62,455.30L444.62,456.90L451.38,456.90L451.38,454.40L458.12,454.40L458.12,459.10L464.88,459.10L464.88,459.10L471.62,459.10L471.62,460.70L478.38,460.70L478.38,460.30L485.12,460.30L485.12,457.20L491.88,457.20L491.88,450.60L498.62,450.60L498.62,446.20L505.38,446.20L505.38,435.30L512.12,435.30L512.12,437.20L518.88,437.20L518.88,433.40L525.62,433.40L525.62,419.10L532.38,419.10L532.38,418.50L539.12,418.50L539.12,417.60L545.88,417.60L545.88,416.20L552.62,416.20L552.62,424.40L559.38,424.40L559.38,440.10L566.12,440.10L566.12,449.20L572.88,449.20L572.88,455.30L579.62,455.30L579.62,456.90L586.38,456.90L586.38,454.40L593.12,454.40L593.12,459.10L599.88,459.10L599.88,459.10L606.62,459.10L606.62,460.70L613.38,460.70L613.38,460.30L620.12,460.30L620.12,457.20L626.88,457.20L626.88,450.60L633.62,450.60L633.62,446.20L640.38,446.20L640.38,435.30L647.12,435.30L647.12,437.20L653.88,437.20L653.88,433.40L660.62,433.40L660.62,419.10L667.38,419.10L667.38,418.50L674.12,418.50L674.12,417.60L680.88,417.60L680.88,416.20L687.62,416.20" fill="none" stroke="#222" stroke-width="1.1" />
<line x1="421.00" y1="422.60" x2="421.00" y2="426.20" stroke="#222" stroke-width="1.1"/>
<line x1="427.75" y1="438.30" x2="427.75" y2="441.90" stroke="#222" stroke-width="1.1"/>
<line x1="434.50" y1="447.40" x2="434.50" y2="451.00" stroke="#222" stroke-width="1.1"/>
<line x1="441.25" y1="453.50" x2="441.25" y2="457.10" stroke="#222" stroke-width="1.1"/>
<line x1="448.00" y1="455.10" x2="448.00" y2="458.70" stroke="#222" stroke-width="1.1"/>
<line x1="454.75" y1="452.60" x2="454.75" y2="456.20" stroke="#222" stroke-width="1.1"/>
<line x1="461.50" y1="457.30" x2="461.50" y2="460.90" stroke="#222" stroke-width="1.1"/>
<line x1="468.25" y1="457.30" x2="468.25" y2="460.90" stroke="#222" stroke-width="1.1"/>
<line x1="475.00" y1="458.90" x2="475.00" y2="462.50" stroke="#222" stroke-width="1.1"/>
<line x1="481.75" y1="458.50" x2="481.75" y2="462.10" stroke="#222" stroke-width="1.1"/>
<line x1="488.50" y1="455.40" x2="488.50" y2="459.00" stroke="#222" stroke-width="1.1"/>
<line x1="495.25" y1="448.80" x2="495.25" y2="452.40" stroke="#222" stroke-width="1.1"/>
<line x1="502.00" y1="444.40" x2="502.00" y2="448.00" stroke="#222" stroke-width="1.1"/>
<line x1="508.75" y1="433.50" x2="508.75" y2="437.10" stroke="#222" stroke-width="1.1"/>
<line x1="515.50" y1="435.40" x2="515.50" y2="439.00" stroke="#222" stroke-width="1.1"/>
<line x1="522.25" y1="431.60" x2="522.25" y2="435.20" stroke="#222" stroke-width="1.1"/>
<line x1="529.00" y1="417.30" x2="529.00" y2="420.90" stroke="#222" stroke-width="1.1"/>
<line x1="535.75" y1="416.70" x2="535.75" y2="420.30" stroke="#222" stroke-width="1.1"/>
<line x1="542.50" y1="415.80" x2="542.50" y2="419.40" stroke="#222" stroke-width="1.1"/>
<line x1="549.25" y1="414.40" x2="549.25" y2="418.00" stroke="#222" stroke-width="1.1"/>
<line x1="556.00" y1="422.60" x2="556.00" y2="426.20" stroke="#222" stroke-width="1.1"/>
<line x1="562.75" y1="438.30" x2="562.75" y2="441.90" stroke="#222" stroke-width="1.1"/>
<line x1="569.50" y1="447.40" x2="569.50" y2="451.00" stroke="#222" stroke-width="1.1"/>
<line x1="576.25" y1="453.50" x2="576.25" y2="457.10" stroke="#222" stroke-width="1.1"/>
<line x1="583.00" y1="455.10" x2="583.00" y2="458.70" stroke="#222" stroke-width="1.1"/>
<line x1="589.75" y1="452.60" x2="589.75" y2="456.20" stroke="#222" stroke-width="1.1"/>
<line x1="596.50" y1="457.30" x2="596.50" y2="460.90" stroke="#222" stroke-width="1.1"/>
<line x1="603.25" y1="457.30" x2="603.25" y2="460.90" stroke="#222" stroke-width="1.1"/>
<line x1="610.00" y1="458.90" x2="610.00" y2="462.50" stroke="#222" stroke-width="1.1"/>
<line x1="616.75" y1="458.50" x2="616.75" y2="462.10" stroke="#222" stroke-width="1.1"/>
<line x1="623.50" y1="455.40" x2="623.50" y2="459.00" stroke="#222" stroke-width="1.1"/>
<line x1="630.25" y1="448.80" x2="630.25" y2="452.40" stroke="#222" stroke-width="1.1"/>
<line x1="637.00" y1="444.40" x2="637.00" y2="448.00" stroke="#222" stroke-width="1.1"/>
<line x1="643.75" y1="433.50" x2="643.75" y2="437.10" stroke="#222" stroke-width="1.1"/>
<line x1="650.50" y1="435.40" x2="650.50" y2="439.00" stroke="#222" stroke-width="1.1"/>
<line x1="657.25" y1="431.60" x2="657.25" y2="435.20" stroke="#222" stroke-width="1.1"/>
<line x1="664.00" y1="417.30" x2="664.00" y2="420.90" stroke="#222" stroke-width="1.1"/>
<line x1="670.75" y1="416.70" x2="670.75" y2="420.30" stroke="#222" stroke-width="1.1"/>
<line x1="677.50" y1="415.80" x2="677.50" y2="419.40" stroke="#222" stroke-width="1.1"/>
<line x1="684.25" y1="414.40" x2="684.25" y2="418.00" stroke="#222" stroke-width="1.1"/>
<text x="0.00" y="0.00" font-size="13.3" text-anchor="start" fill="#000" style='font-family:"Liberation Sans", sans-serif' transform="translate(700.90 433.70) scale(0.925 1)" >3−5 keV</text>
<path d="M417.62,456.50L424.38,456.50L424.38,473.10L431.12,473.10L431.12,489.00L437.88,489.00L437.88,493.20L444.62,493.20L444.62,495.10L451.38,495.10L451.38,489.30L458.12,489.30L458.12,490.30L464.88,490.30L464.88,497.40L471.62,497.40L471.62,496.00L478.38,496.00L478.38,500.80L485.12,500.80L485.12,496.60L491.88,496.60L491.88,490.90L498.62,490.90L498.62,485.50L505.38,485.50L505.38,475.60L512.12,475.60L512.12,476.40L518.88,476.40L518.88,466.80L525.62,466.80L525.62,458.40L532.38,458.40L532.38,451.90L539.12,451.90L539.12,455.30L545.88,455.30L545.88,450.60L552.62,450.60L552.62,456.50L559.38,456.50L559.38,473.10L566.12,473.10L566.12,489.00L572.88,489.00L572.88,493.20L579.62,493.20L579.62,495.10L586.38,495.10L586.38,489.30L593.12,489.30L593.12,490.30L599.88,490.30L599.88,497.40L606.62,497.40L606.62,496.00L613.38,496.00L613.38,500.80L620.12,500.80L620.12,496.60L626.88,496.60L626.88,490.90L633.62,490.90L633.62,485.50L640.38,485.50L640.38,475.60L647.12,475.60L647.12,476.40L653.88,476.40L653.88,466.80L660.62,466.80L660.62,458.40L667.38,458.40L667.38,451.90L674.12,451.90L674.12,455.30L680.88,455.30L680.88,450.60L687.62,450.60" fill="none" stroke="#f00" stroke-width="1.1" />
<line x1="421.00" y1="454.20" x2="421.00" y2="458.80" stroke="#f00" stroke-width="1.1"/>
<line x1="427.75" y1="470.80" x2="427.75" y2="475.40" stroke="#f00" stroke-width="1.1"/>
<line x1="434.50" y1="486.70" x2="434.50" y2="491.30" stroke="#f00" stroke-width="1.1"/>
<line x1="441.25" y1="490.90" x2="441.25" y2="495.50" stroke="#f00" stroke-width="1.1"/>
<line x1="448.00" y1="492.80" x2="448.00" y2="497.40" stroke="#f00" stroke-width="1.1"/>
<line x1="454.75" y1="487.00" x2="454.75" y2="491.60" stroke="#f00" stroke-width="1.1"/>
<line x1="461.50" y1="488.00" x2="461.50" y2="492.60" stroke="#f00" stroke-width="1.1"/>
<line x1="468.25" y1="495.10" x2="468.25" y2="499.70" stroke="#f00" stroke-width="1.1"/>
<line x1="475.00" y1="493.70" x2="475.00" y2="498.30" stroke="#f00" stroke-width="1.1"/>
<line x1="481.75" y1="498.50" x2="481.75" y2="503.10" stroke="#f00" stroke-width="1.1"/>
<line x1="488.50" y1="494.30" x2="488.50" y2="498.90" stroke="#f00" stroke-width="1.1"/>
<line x1="495.25" y1="488.60" x2="495.25" y2="493.20" stroke="#f00" stroke-width="1.1"/>
<line x1="502.00" y1="483.20" x2="502.00" y2="487.80" stroke="#f00" stroke-width="1.1"/>
<line x1="508.75" y1="473.30" x2="508.75" y2="477.90" stroke="#f00" stroke-width="1.1"/>
<line x1="515.50" y1="474.10" x2="515.50" y2="478.70" stroke="#f00" stroke-width="1.1"/>
<line x1="522.25" y1="464.50" x2="522.25" y2="469.10" stroke="#f00" stroke-width="1.1"/>
<line x1="529.00" y1="456.10" x2="529.00" y2="460.70" stroke="#f00" stroke-width="1.1"/>
<line x1="535.75" y1="449.60" x2="535.75" y2="454.20" stroke="#f00" stroke-width="1.1"/>
<line x1="542.50" y1="453.00" x2="542.50" y2="457.60" stroke="#f00" stroke-width="1.1"/>
<line x1="549.25" y1="448.30" x2="549.25" y2="452.90" stroke="#f00" stroke-width="1.1"/>
<line x1="556.00" y1="454.20" x2="556.00" y2="458.80" stroke="#f00" stroke-width="1.1"/>
<line x1="562.75" y1="470.80" x2="562.75" y2="475.40" stroke="#f00" stroke-width="1.1"/>
<line x1="569.50" y1="486.70" x2="569.50" y2="491.30" stroke="#f00" stroke-width="1.1"/>
<line x1="576.25" y1="490.90" x2="576.25" y2="495.50" stroke="#f00" stroke-width="1.1"/>
<line x1="583.00" y1="492.80" x2="583.00" y2="497.40" stroke="#f00" stroke-width="1.1"/>
<line x1="589.75" y1="487.00" x2="589.75" y2="491.60" stroke="#f00" stroke-width="1.1"/>
<line x1="596.50" y1="488.00" x2="596.50" y2="492.60" stroke="#f00" stroke-width="1.1"/>
<line x1="603.25" y1="495.10" x2="603.25" y2="499.70" stroke="#f00" stroke-width="1.1"/>
<line x1="610.00" y1="493.70" x2="610.00" y2="498.30" stroke="#f00" stroke-width="1.1"/>
<line x1="616.75" y1="498.50" x2="616.75" y2="503.10" stroke="#f00" stroke-width="1.1"/>
<line x1="623.50" y1="494.30" x2="623.50" y2="498.90" stroke="#f00" stroke-width="1.1"/>
<line x1="630.25" y1="488.60" x2="630.25" y2="493.20" stroke="#f00" stroke-width="1.1"/>
<line x1="637.00" y1="483.20" x2="637.00" y2="487.80" stroke="#f00" stroke-width="1.1"/>
<line x1="643.75" y1="473.30" x2="643.75" y2="477.90" stroke="#f00" stroke-width="1.1"/>
<line x1="650.50" y1="474.10" x2="650.50" y2="478.70" stroke="#f00" stroke-width="1.1"/>
<line x1="657.25" y1="464.50" x2="657.25" y2="469.10" stroke="#f00" stroke-width="1.1"/>
<line x1="664.00" y1="456.10" x2="664.00" y2="460.70" stroke="#f00" stroke-width="1.1"/>
<line x1="670.75" y1="449.60" x2="670.75" y2="454.20" stroke="#f00" stroke-width="1.1"/>
<line x1="677.50" y1="453.00" x2="677.50" y2="457.60" stroke="#f00" stroke-width="1.1"/>
<line x1="684.25" y1="448.30" x2="684.25" y2="452.90" stroke="#f00" stroke-width="1.1"/>
<text x="0.00" y="0.00" font-size="13.3" text-anchor="start" fill="#f00" style='font-family:"Liberation Sans", sans-serif' transform="translate(700.90 470.95) scale(0.925 1)" >3−4 keV</text>
<path d="M417.62,496.00L424.38,496.00L424.38,510.30L431.12,510.30L431.12,523.30L437.88,523.30L437.88,529.80L444.62,529.80L444.62,527.10L451.38,527.10L451.38,526.70L458.12,526.70L458.12,527.90L464.88,527.90L464.88,530.40L471.62,530.40L471.62,532.30L478.38,532.30L478.38,535.10L485.12,535.10L485.12,529.80L491.88,529.80L491.88,526.60L498.62,526.60L498.62,517.60L505.38,517.60L505.38,513.80L512.12,513.80L512.12,516.40L518.88,516.40L518.88,505.60L525.62,505.60L525.62,492.80L532.38,492.80L532.38,494.10L539.12,494.10L539.12,496.00L545.88,496.00L545.88,493.50L552.62,493.50L552.62,496.00L559.38,496.00L559.38,510.30L566.12,510.30L566.12,523.30L572.88,523.30L572.88,529.80L579.62,529.80L579.62,527.10L586.38,527.10L586.38,526.70L593.12,526.70L593.12,527.90L599.88,527.90L599.88,530.40L606.62,530.40L606.62,532.30L613.38,532.30L613.38,535.10L620.12,535.10L620.12,529.80L626.88,529.80L626.88,526.60L633.62,526.60L633.62,517.60L640.38,517.60L640.38,513.80L647.12,513.80L647.12,516.40L653.88,516.40L653.88,505.60L660.62,505.60L660.62,492.80L667.38,492.80L667.38,494.10L674.12,494.10L674.12,496.00L680.88,496.00L680.88,493.50L687.62,493.50" fill="none" stroke="#222" stroke-width="1.1" />
<line x1="421.00" y1="494.20" x2="421.00" y2="497.80" stroke="#222" stroke-width="1.1"/>
<line x1="427.75" y1="508.50" x2="427.75" y2="512.10" stroke="#222" stroke-width="1.1"/>
<line x1="434.50" y1="521.50" x2="434.50" y2="525.10" stroke="#222" stroke-width="1.1"/>
<line x1="441.25" y1="528.00" x2="441.25" y2="531.60" stroke="#222" stroke-width="1.1"/>
<line x1="448.00" y1="525.30" x2="448.00" y2="528.90" stroke="#222" stroke-width="1.1"/>
<line x1="454.75" y1="524.90" x2="454.75" y2="528.50" stroke="#222" stroke-width="1.1"/>
<line x1="461.50" y1="526.10" x2="461.50" y2="529.70" stroke="#222" stroke-width="1.1"/>
<line x1="468.25" y1="528.60" x2="468.25" y2="532.20" stroke="#222" stroke-width="1.1"/>
<line x1="475.00" y1="530.50" x2="475.00" y2="534.10" stroke="#222" stroke-width="1.1"/>
<line x1="481.75" y1="533.30" x2="481.75" y2="536.90" stroke="#222" stroke-width="1.1"/>
<line x1="488.50" y1="528.00" x2="488.50" y2="531.60" stroke="#222" stroke-width="1.1"/>
<line x1="495.25" y1="524.80" x2="495.25" y2="528.40" stroke="#222" stroke-width="1.1"/>
<line x1="502.00" y1="515.80" x2="502.00" y2="519.40" stroke="#222" stroke-width="1.1"/>
<line x1="508.75" y1="512.00" x2="508.75" y2="515.60" stroke="#222" stroke-width="1.1"/>
<line x1="515.50" y1="514.60" x2="515.50" y2="518.20" stroke="#222" stroke-width="1.1"/>
<line x1="522.25" y1="503.80" x2="522.25" y2="507.40" stroke="#222" stroke-width="1.1"/>
<line x1="529.00" y1="491.00" x2="529.00" y2="494.60" stroke="#222" stroke-width="1.1"/>
<line x1="535.75" y1="492.30" x2="535.75" y2="495.90" stroke="#222" stroke-width="1.1"/>
<line x1="542.50" y1="494.20" x2="542.50" y2="497.80" stroke="#222" stroke-width="1.1"/>
<line x1="549.25" y1="491.70" x2="549.25" y2="495.30" stroke="#222" stroke-width="1.1"/>
<line x1="556.00" y1="494.20" x2="556.00" y2="497.80" stroke="#222" stroke-width="1.1"/>
<line x1="562.75" y1="508.50" x2="562.75" y2="512.10" stroke="#222" stroke-width="1.1"/>
<line x1="569.50" y1="521.50" x2="569.50" y2="525.10" stroke="#222" stroke-width="1.1"/>
<line x1="576.25" y1="528.00" x2="576.25" y2="531.60" stroke="#222" stroke-width="1.1"/>
<line x1="583.00" y1="525.30" x2="583.00" y2="528.90" stroke="#222" stroke-width="1.1"/>
<line x1="589.75" y1="524.90" x2="589.75" y2="528.50" stroke="#222" stroke-width="1.1"/>
<line x1="596.50" y1="526.10" x2="596.50" y2="529.70" stroke="#222" stroke-width="1.1"/>
<line x1="603.25" y1="528.60" x2="603.25" y2="532.20" stroke="#222" stroke-width="1.1"/>
<line x1="610.00" y1="530.50" x2="610.00" y2="534.10" stroke="#222" stroke-width="1.1"/>
<line x1="616.75" y1="533.30" x2="616.75" y2="536.90" stroke="#222" stroke-width="1.1"/>
<line x1="623.50" y1="528.00" x2="623.50" y2="531.60" stroke="#222" stroke-width="1.1"/>
<line x1="630.25" y1="524.80" x2="630.25" y2="528.40" stroke="#222" stroke-width="1.1"/>
<line x1="637.00" y1="515.80" x2="637.00" y2="519.40" stroke="#222" stroke-width="1.1"/>
<line x1="643.75" y1="512.00" x2="643.75" y2="515.60" stroke="#222" stroke-width="1.1"/>
<line x1="650.50" y1="514.60" x2="650.50" y2="518.20" stroke="#222" stroke-width="1.1"/>
<line x1="657.25" y1="503.80" x2="657.25" y2="507.40" stroke="#222" stroke-width="1.1"/>
<line x1="664.00" y1="491.00" x2="664.00" y2="494.60" stroke="#222" stroke-width="1.1"/>
<line x1="670.75" y1="492.30" x2="670.75" y2="495.90" stroke="#222" stroke-width="1.1"/>
<line x1="677.50" y1="494.20" x2="677.50" y2="497.80" stroke="#222" stroke-width="1.1"/>
<line x1="684.25" y1="491.70" x2="684.25" y2="495.30" stroke="#222" stroke-width="1.1"/>
<text x="0.00" y="0.00" font-size="13.3" text-anchor="start" fill="#000" style='font-family:"Liberation Sans", sans-serif' transform="translate(700.90 508.20) scale(0.925 1)" >1−3 keV</text>
<line x1="421.00" y1="262.20" x2="421.00" y2="267.40" stroke="#444" stroke-width="1.1"/>
<line x1="421.00" y1="541.30" x2="421.00" y2="536.10" stroke="#444" stroke-width="1.1"/>
<line x1="434.50" y1="262.20" x2="434.50" y2="265.00" stroke="#444" stroke-width="1.1"/>
<line x1="434.50" y1="541.30" x2="434.50" y2="538.50" stroke="#444" stroke-width="1.1"/>
<line x1="448.00" y1="262.20" x2="448.00" y2="265.00" stroke="#444" stroke-width="1.1"/>
<line x1="448.00" y1="541.30" x2="448.00" y2="538.50" stroke="#444" stroke-width="1.1"/>
<line x1="461.50" y1="262.20" x2="461.50" y2="265.00" stroke="#444" stroke-width="1.1"/>
<line x1="461.50" y1="541.30" x2="461.50" y2="538.50" stroke="#444" stroke-width="1.1"/>
<line x1="475.00" y1="262.20" x2="475.00" y2="265.00" stroke="#444" stroke-width="1.1"/>
<line x1="475.00" y1="541.30" x2="475.00" y2="538.50" stroke="#444" stroke-width="1.1"/>
<line x1="488.50" y1="262.20" x2="488.50" y2="267.40" stroke="#444" stroke-width="1.1"/>
<line x1="488.50" y1="541.30" x2="488.50" y2="536.10" stroke="#444" stroke-width="1.1"/>
<line x1="502.00" y1="262.20" x2="502.00" y2="265.00" stroke="#444" stroke-width="1.1"/>
<line x1="502.00" y1="541.30" x2="502.00" y2="538.50" stroke="#444" stroke-width="1.1"/>
<line x1="515.50" y1="262.20" x2="515.50" y2="265.00" stroke="#444" stroke-width="1.1"/>
<line x1="515.50" y1="541.30" x2="515.50" y2="538.50" stroke="#444" stroke-width="1.1"/>
<line x1="529.00" y1="262.20" x2="529.00" y2="265.00" stroke="#444" stroke-width="1.1"/>
<line x1="529.00" y1="541.30" x2="529.00" y2="538.50" stroke="#444" stroke-width="1.1"/>
<line x1="542.50" y1="262.20" x2="542.50" y2="265.00" stroke="#444" stroke-width="1.1"/>
<line x1="542.50" y1="541.30" x2="542.50" y2="538.50" stroke="#444" stroke-width="1.1"/>
<line x1="556.00" y1="262.20" x2="556.00" y2="267.40" stroke="#444" stroke-width="1.1"/>
<line x1="556.00" y1="541.30" x2="556.00" y2="536.10" stroke="#444" stroke-width="1.1"/>
<line x1="569.50" y1="262.20" x2="569.50" y2="265.00" stroke="#444" stroke-width="1.1"/>
<line x1="569.50" y1="541.30" x2="569.50" y2="538.50" stroke="#444" stroke-width="1.1"/>
<line x1="583.00" y1="262.20" x2="583.00" y2="265.00" stroke="#444" stroke-width="1.1"/>
<line x1="583.00" y1="541.30" x2="583.00" y2="538.50" stroke="#444" stroke-width="1.1"/>
<line x1="596.50" y1="262.20" x2="596.50" y2="265.00" stroke="#444" stroke-width="1.1"/>
<line x1="596.50" y1="541.30" x2="596.50" y2="538.50" stroke="#444" stroke-width="1.1"/>
<line x1="610.00" y1="262.20" x2="610.00" y2="265.00" stroke="#444" stroke-width="1.1"/>
<line x1="610.00" y1="541.30" x2="610.00" y2="538.50" stroke="#444" stroke-width="1.1"/>
<line x1="623.50" y1="262.20" x2="623.50" y2="267.40" stroke="#444" stroke-width="1.1"/>
<line x1="623.50" y1="541.30" x2="623.50" y2="536.10" stroke="#444" stroke-width="1.1"/>
<line x1="637.00" y1="262.20" x2="637.00" y2="265.00" stroke="#444" stroke-width="1.1"/>
<line x1="637.00" y1="541.30" x2="637.00" y2="538.50" stroke="#444" stroke-width="1.1"/>
<line x1="650.50" y1="262.20" x2="650.50" y2="265.00" stroke="#444" stroke-width="1.1"/>
<line x1="650.50" y1="541.30" x2="650.50" y2="538.50" stroke="#444" stroke-width="1.1"/>
<line x1="664.00" y1="262.20" x2="664.00" y2="265.00" stroke="#444" stroke-width="1.1"/>
<line x1="664.00" y1="541.30" x2="664.00" y2="538.50" stroke="#444" stroke-width="1.1"/>
<line x1="677.50" y1="262.20" x2="677.50" y2="265.00" stroke="#444" stroke-width="1.1"/>
<line x1="677.50" y1="541.30" x2="677.50" y2="538.50" stroke="#444" stroke-width="1.1"/>
<line x1="414.40" y1="516.40" x2="417.40" y2="516.40" stroke="#444" stroke-width="1.1"/>
<line x1="690.60" y1="516.40" x2="687.60" y2="516.40" stroke="#444" stroke-width="1.1"/>
<line x1="414.40" y1="479.50" x2="419.90" y2="479.50" stroke="#444" stroke-width="1.1"/>
<line x1="690.60" y1="479.50" x2="685.10" y2="479.50" stroke="#444" stroke-width="1.1"/>
<text x="0.00" y="0.00" font-size="11.8" text-anchor="middle" fill="#000" style='font-family:"Liberation Sans", sans-serif' transform="translate(403.30 483.60) scale(1.08 1)" >2</text>
<line x1="414.40" y1="442.60" x2="417.40" y2="442.60" stroke="#444" stroke-width="1.1"/>
<line x1="690.60" y1="442.60" x2="687.60" y2="442.60" stroke="#444" stroke-width="1.1"/>
<line x1="414.40" y1="405.70" x2="419.90" y2="405.70" stroke="#444" stroke-width="1.1"/>
<line x1="690.60" y1="405.70" x2="685.10" y2="405.70" stroke="#444" stroke-width="1.1"/>
<text x="0.00" y="0.00" font-size="11.8" text-anchor="middle" fill="#000" style='font-family:"Liberation Sans", sans-serif' transform="translate(403.30 409.80) scale(1.08 1)" >4</text>
<line x1="414.40" y1="368.80" x2="417.40" y2="368.80" stroke="#444" stroke-width="1.1"/>
<line x1="690.60" y1="368.80" x2="687.60" y2="368.80" stroke="#444" stroke-width="1.1"/>
<line x1="414.40" y1="331.90" x2="419.90" y2="331.90" stroke="#444" stroke-width="1.1"/>
<line x1="690.60" y1="331.90" x2="685.10" y2="331.90" stroke="#444" stroke-width="1.1"/>
<text x="0.00" y="0.00" font-size="11.8" text-anchor="middle" fill="#000" style='font-family:"Liberation Sans", sans-serif' transform="translate(403.30 336.00) scale(1.08 1)" >6</text>
<line x1="414.40" y1="295.00" x2="417.40" y2="295.00" stroke="#444" stroke-width="1.1"/>
<line x1="690.60" y1="295.00" x2="687.60" y2="295.00" stroke="#444" stroke-width="1.1"/>
<rect x="414.4" y="262.2" width="276.20000000000005" height="279.09999999999997" fill="none" stroke="#444" stroke-width="1.3"/>
<text x="0.00" y="0.00" font-size="11.5" text-anchor="middle" fill="#000" style='font-family:"Liberation Sans", sans-serif' transform="translate(420.80 555.20) scale(1.1 1)" >0</text>
<text x="0.00" y="0.00" font-size="11.5" text-anchor="middle" fill="#000" style='font-family:"Liberation Sans", sans-serif' transform="translate(488.30 555.20) scale(1.1 1)" >0.5</text>
<text x="0.00" y="0.00" font-size="11.5" text-anchor="middle" fill="#000" style='font-family:"Liberation Sans", sans-serif' transform="translate(555.80 555.20) scale(1.1 1)" >1</text>
<text x="0.00" y="0.00" font-size="11.5" text-anchor="middle" fill="#000" style='font-family:"Liberation Sans", sans-serif' transform="translate(623.30 555.20) scale(1.1 1)" >1.5</text>
<text x="553.50" y="567.30" font-size="14.3" text-anchor="middle" fill="#000" style='font-family:"Liberation Serif", serif' >Phase (cycle)</text>
<text x="0.00" y="0.00" font-size="14.6" text-anchor="middle" fill="#000" style='font-family:"Liberation Serif", serif' transform="translate(392.20 400.50) rotate(-90)" >Normalized intensity</text>
</svg></body></html>
